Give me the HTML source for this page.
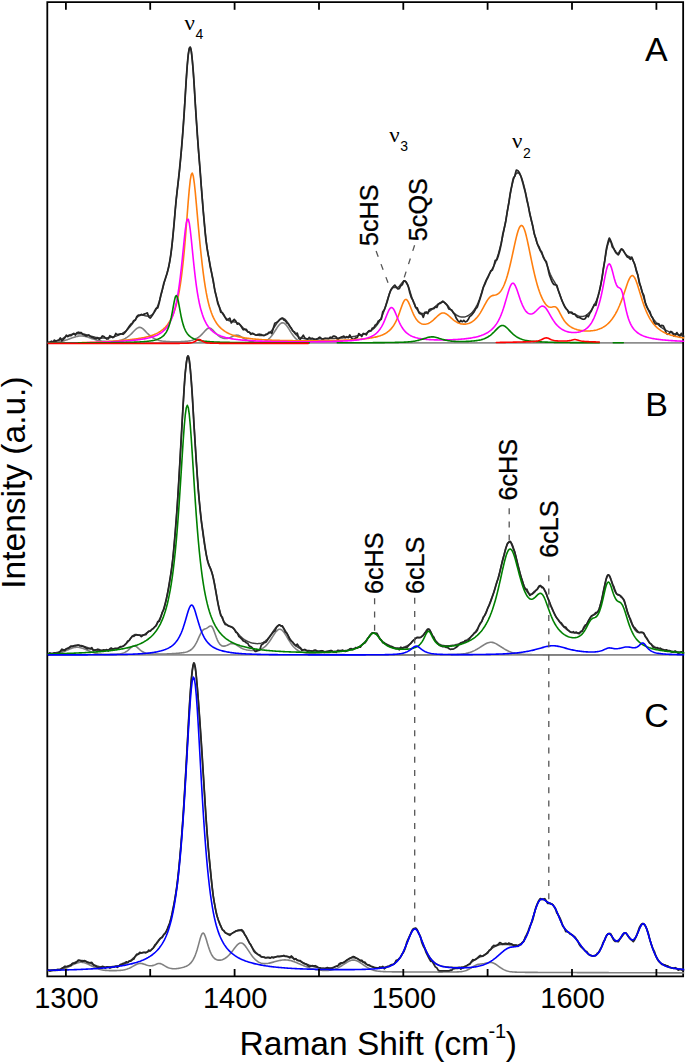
<!DOCTYPE html>
<html><head><meta charset="utf-8"><title>Raman spectra</title>
<style>html,body{margin:0;padding:0;background:#fff}svg{display:block}</style>
</head><body>
<svg width="686" height="1064" viewBox="0 0 686 1064">
<rect width="686" height="1064" fill="#fff"/>
<defs><clipPath id="cp"><rect x="47.3" y="2.1" width="636.9" height="974.2"/></clipPath></defs>
<g stroke="#8e8e8e" stroke-width="1.7" fill="none">
<path d="M47.3 342.95H683.1"/>
<path d="M47.3 654.95H683.1"/>
</g>
<path d="M47.30 2.15H683.15V976.40H47.30Z" stroke="#000" stroke-width="1.8" fill="none"/>
<g fill="none" stroke-width="1.6" stroke-linejoin="round" stroke-linecap="round" clip-path="url(#cp)">
<path d="M48.3 342.70L49.3 342.67L50.3 342.64L51.3 342.59L52.3 342.54L53.3 342.48L54.3 342.41L55.3 342.32L56.3 342.22L57.3 342.10L58.3 341.95L59.3 341.79L60.3 341.60L61.3 341.39L62.3 341.16L63.3 340.90L64.3 340.62L65.3 340.32L66.3 340.00L67.3 339.67L68.3 339.32L69.3 338.96L70.3 338.60L71.3 338.23L72.3 337.87L73.3 337.52L74.3 337.18L75.3 336.87L76.3 336.59L77.3 336.35L78.3 336.15L79.3 336.02L80.3 335.94L81.3 335.93L82.3 335.99L83.3 336.10L84.3 336.27L85.3 336.50L86.3 336.76L87.3 337.05L88.3 337.36L89.3 337.69L90.3 338.03L91.3 338.37L92.3 338.70L93.3 339.03L94.3 339.35L95.3 339.65L96.3 339.93L97.3 340.20L98.3 340.44L99.3 340.66L100.3 340.85L101.3 341.02L102.3 341.17L103.3 341.29L104.3 341.39L105.3 341.47L106.3 341.53L107.3 341.57L108.3 341.60L109.3 341.60L110.3 341.59L111.3 341.56L112.3 341.52L113.3 341.46L114.3 341.38L115.3 341.27L116.3 341.15L117.3 341.00L118.3 340.82L119.3 340.61L120.3 340.36L121.3 340.07L122.3 339.73L123.3 339.34L124.3 338.89L125.3 338.38L126.3 337.80L127.3 337.16L128.3 336.43L129.3 335.63L130.3 334.76L131.3 333.82L132.3 332.82L133.3 331.79L134.3 330.75L135.3 329.76L136.3 328.86L137.3 328.12L138.3 327.60L139.3 327.36L140.3 327.42L141.3 327.78L142.3 328.38L143.3 329.19L144.3 330.13L145.3 331.15L146.3 332.19L147.3 333.21L148.3 334.18L149.3 335.09L150.3 335.94L151.3 336.70L152.3 337.39L153.3 338.01L154.3 338.56L155.3 339.04L156.3 339.46L157.3 339.83L158.3 340.15L159.3 340.42L160.3 340.66L161.3 340.86L162.3 341.03L163.3 341.17L164.3 341.29L165.3 341.39L166.3 341.48L167.3 341.55L168.3 341.61L169.3 341.66L170.3 341.70L171.3 341.73L172.3 341.76L173.3 341.78L174.3 341.79L175.3 341.79L176.3 341.79L177.3 341.78L178.3 341.76L179.3 341.73L180.3 341.70L181.3 341.66L182.3 341.61L183.3 341.55L184.3 341.48L185.3 341.39L186.3 341.29L187.3 341.17L188.3 341.03L189.3 340.87L190.3 340.68L191.3 340.45L192.3 340.18L193.3 339.87L194.3 339.51L195.3 339.08L196.3 338.59L197.3 338.03L198.3 337.38L199.3 336.64L200.3 335.81L201.3 334.89L202.3 333.87L203.3 332.79L204.3 331.66L205.3 330.56L206.3 329.56L207.3 328.74L208.3 328.21L209.3 328.04L210.3 328.26L211.3 328.82L212.3 329.64L213.3 330.64L214.3 331.71L215.3 332.79L216.3 333.81L217.3 334.76L218.3 335.60L219.3 336.33L220.3 336.96L221.3 337.47L222.3 337.88L223.3 338.18L224.3 338.38L225.3 338.47L226.3 338.46L227.3 338.36L228.3 338.16L229.3 337.87L230.3 337.51L231.3 337.09L232.3 336.62L233.3 336.14L234.3 335.70L235.3 335.36L236.3 335.16L237.3 335.16L238.3 335.37L239.3 335.76L240.3 336.28L241.3 336.88L242.3 337.51L243.3 338.12L244.3 338.71L245.3 339.25L246.3 339.74L247.3 340.18L248.3 340.56L249.3 340.89L250.3 341.16L251.3 341.39L252.3 341.58L253.3 341.73L254.3 341.85L255.3 341.94L256.3 342.01L257.3 342.06L258.3 342.08L259.3 342.08L260.3 342.05L261.3 341.99L262.3 341.87L263.3 341.69L264.3 341.43L265.3 341.08L266.3 340.61L267.3 340.02L268.3 339.30L269.3 338.45L270.3 337.46L271.3 336.32L272.3 335.04L273.3 333.63L274.3 332.11L275.3 330.54L276.3 328.95L277.3 327.41L278.3 325.99L279.3 324.76L280.3 323.78L281.3 323.12L282.3 322.81L283.3 322.89L284.3 323.34L285.3 324.13L286.3 325.22L287.3 326.55L288.3 328.04L289.3 329.62L290.3 331.24L291.3 332.82L292.3 334.32L293.3 335.72L294.3 336.98L295.3 338.10L296.3 339.08L297.3 339.93L298.3 340.64L299.3 341.23L300.3 341.70L301.3 342.05L302.3 342.31L303.3 342.48L304.3 342.61L305.3 342.69L306.3 342.74L307.3 342.78L308.3 342.81L309.3 342.83" stroke="#808080"/>
<path d="M48.3 342.02L49.3 341.94L50.3 341.84L51.3 341.73L52.3 341.60L53.3 341.45L54.3 341.27L55.3 341.07L56.3 340.84L57.3 340.57L58.3 340.27L59.3 339.92L60.3 339.52L61.3 339.08L62.3 338.59L63.3 338.07L64.3 337.52L65.3 336.96L66.3 336.41L67.3 335.90L68.3 335.44L69.3 335.05L70.3 334.75L71.3 334.51L72.3 334.32L73.3 334.17L74.3 334.05L75.3 333.94L76.3 333.85L77.3 333.78L78.3 333.74L79.3 333.72L80.3 333.75L81.3 333.81L82.3 333.93L83.3 334.08L84.3 334.28L85.3 334.51L86.3 334.77L87.3 335.05L88.3 335.34L89.3 335.64L90.3 335.93L91.3 336.22L92.3 336.50L93.3 336.76L94.3 337.00L95.3 337.23L96.3 337.43L97.3 337.60L98.3 337.75L99.3 337.87L100.3 337.96L101.3 338.02L102.3 338.05L103.3 338.06L104.3 338.03L105.3 337.98L106.3 337.91L107.3 337.81L108.3 337.70L109.3 337.55L110.3 337.39L111.3 337.21L112.3 337.01L113.3 336.78L114.3 336.54L115.3 336.26L116.3 335.96L117.3 335.63L118.3 335.26L119.3 334.86L120.3 334.41L121.3 333.91L122.3 333.35L123.3 332.74L124.3 332.07L125.3 331.32L126.3 330.50L127.3 329.59L128.3 328.60L129.3 327.53L130.3 326.36L131.3 325.11L132.3 323.80L133.3 322.43L134.3 321.04L135.3 319.67L136.3 318.38L137.3 317.22L138.3 316.26L139.3 315.55L140.3 315.11L141.3 314.92L142.3 314.95L143.3 315.14L144.3 315.41L145.3 315.70L146.3 315.95L147.3 316.11L148.3 316.14L149.3 316.02L150.3 315.72L151.3 315.22L152.3 314.51L153.3 313.55L154.3 312.32L155.3 310.81L156.3 308.97L157.3 306.77L158.3 304.19L159.3 301.20L160.3 297.82L161.3 294.10L162.3 290.17L163.3 286.20L164.3 282.40L165.3 278.89L166.3 275.60L167.3 272.30L168.3 268.60L169.3 264.08L170.3 258.37L171.3 251.16L172.3 242.32L173.3 231.95L174.3 220.60L175.3 209.23L176.3 198.90L177.3 189.95L178.3 181.68L179.3 172.94L180.3 162.97L181.3 151.67L182.3 139.18L183.3 125.42L184.3 110.34L185.3 94.43L186.3 78.83L187.3 65.02L188.3 54.49L189.3 48.32L190.3 47.14L191.3 51.07L192.3 59.75L193.3 72.30L194.3 87.44L195.3 103.71L196.3 119.78L197.3 134.76L198.3 148.36L199.3 160.96L200.3 173.27L201.3 185.90L202.3 198.90L203.3 211.62L204.3 223.28L205.3 233.40L206.3 241.91L207.3 249.02L208.3 255.04L209.3 260.42L210.3 265.61L211.3 270.96L212.3 276.52L213.3 282.06L214.3 287.31L215.3 292.11L216.3 296.39L217.3 300.18L218.3 303.51L219.3 306.44L220.3 309.01L221.3 311.26L222.3 313.22L223.3 314.92L224.3 316.39L225.3 317.64L226.3 318.68L227.3 319.55L228.3 320.24L229.3 320.77L230.3 321.17L231.3 321.45L232.3 321.63L233.3 321.76L234.3 321.89L235.3 322.07L236.3 322.37L237.3 322.83L238.3 323.47L239.3 324.27L240.3 325.18L241.3 326.14L242.3 327.11L243.3 328.05L244.3 328.94L245.3 329.77L246.3 330.54L247.3 331.23L248.3 331.86L249.3 332.42L250.3 332.92L251.3 333.36L252.3 333.75L253.3 334.09L254.3 334.39L255.3 334.66L256.3 334.90L257.3 335.10L258.3 335.28L259.3 335.42L260.3 335.53L261.3 335.60L262.3 335.61L263.3 335.55L264.3 335.41L265.3 335.16L266.3 334.80L267.3 334.31L268.3 333.69L269.3 332.93L270.3 332.03L271.3 330.98L272.3 329.78L273.3 328.44L274.3 327.01L275.3 325.50L276.3 323.98L277.3 322.51L278.3 321.15L279.3 319.98L280.3 319.06L281.3 318.45L282.3 318.20L283.3 318.32L284.3 318.82L285.3 319.66L286.3 320.80L287.3 322.17L288.3 323.70L289.3 325.32L290.3 326.96L291.3 328.58L292.3 330.11L293.3 331.54L294.3 332.83L295.3 333.97L296.3 334.98L297.3 335.85L298.3 336.58L299.3 337.19L300.3 337.67L301.3 338.04L302.3 338.31L303.3 338.50L304.3 338.63L305.3 338.72L306.3 338.78L307.3 338.83L308.3 338.86L309.3 338.88L310.3 338.89L311.3 338.90L312.3 338.91L313.3 338.91L314.3 338.91L315.3 338.91L316.3 338.90L317.3 338.89L318.3 338.88L319.3 338.87L320.3 338.86L321.3 338.84L322.3 338.82L323.3 338.80L324.3 338.78L325.3 338.75L326.3 338.72L327.3 338.69L328.3 338.66L329.3 338.62L330.3 338.59L331.3 338.55L332.3 338.50L333.3 338.46L334.3 338.41L335.3 338.35L336.3 338.30L337.3 338.24L338.3 338.17L339.3 338.10L340.3 338.03L341.3 337.96L342.3 337.88L343.3 337.79L344.3 337.70L345.3 337.60L346.3 337.50L347.3 337.39L348.3 337.28L349.3 337.15L350.3 337.02L351.3 336.88L352.3 336.74L353.3 336.58L354.3 336.41L355.3 336.23L356.3 336.04L357.3 335.83L358.3 335.61L359.3 335.38L360.3 335.12L361.3 334.85L362.3 334.55L363.3 334.23L364.3 333.88L365.3 333.50L366.3 333.09L367.3 332.64L368.3 332.15L369.3 331.61L370.3 331.02L371.3 330.36L372.3 329.63L373.3 328.83L374.3 327.93L375.3 326.93L376.3 325.80L377.3 324.54L378.3 323.12L379.3 321.52L380.3 319.71L381.3 317.67L382.3 315.38L383.3 312.83L384.3 310.01L385.3 306.94L386.3 303.68L387.3 300.32L388.3 297.03L389.3 294.00L390.3 291.42L391.3 289.46L392.3 288.19L393.3 287.55L394.3 287.39L395.3 287.48L396.3 287.58L397.3 287.51L398.3 287.15L399.3 286.44L400.3 284.91L401.3 283.69L402.3 282.44L403.3 281.42L404.3 280.88L405.3 281.04L406.3 282.04L407.3 283.86L408.3 286.38L409.3 289.36L410.3 292.57L411.3 295.79L412.3 298.86L413.3 301.68L414.3 304.19L415.3 306.37L416.3 308.22L417.3 309.76L418.3 311.01L419.3 311.99L420.3 312.71L421.3 313.22L422.3 313.52L423.3 313.62L424.3 313.56L425.3 313.35L426.3 313.00L427.3 312.53L428.3 311.97L429.3 311.32L430.3 310.60L431.3 309.84L432.3 309.04L433.3 308.21L434.3 307.37L435.3 306.50L436.3 305.64L437.3 304.78L438.3 303.97L439.3 303.23L440.3 302.62L441.3 302.18L442.3 301.98L443.3 302.05L444.3 302.42L445.3 303.09L446.3 304.00L447.3 305.10L448.3 306.33L449.3 307.60L450.3 308.88L451.3 310.12L452.3 311.28L453.3 312.34L454.3 313.31L455.3 314.16L456.3 314.90L457.3 315.52L458.3 316.03L459.3 316.43L460.3 316.73L461.3 316.92L462.3 317.01L463.3 317.01L464.3 316.90L465.3 316.70L466.3 316.40L467.3 315.99L468.3 315.48L469.3 314.86L470.3 314.12L471.3 313.25L472.3 312.24L473.3 311.07L474.3 309.74L475.3 308.21L476.3 306.46L477.3 304.47L478.3 302.21L479.3 299.65L480.3 296.81L481.3 293.72L482.3 290.51L483.3 287.35L484.3 284.46L485.3 281.95L486.3 279.77L487.3 277.82L488.3 275.99L489.3 274.20L490.3 272.44L491.3 270.68L492.3 268.88L493.3 266.99L494.3 264.94L495.3 262.67L496.3 260.11L497.3 257.24L498.3 254.04L499.3 250.50L500.3 246.64L501.3 242.48L502.3 238.03L503.3 233.30L504.3 228.29L505.3 222.98L506.3 217.39L507.3 211.57L508.3 205.61L509.3 199.68L510.3 193.96L511.3 188.67L512.3 184.00L513.3 180.11L514.3 177.07L515.3 174.88L516.3 173.49L517.3 172.87L518.3 172.94L519.3 173.70L520.3 175.14L521.3 177.24L522.3 180.00L523.3 183.36L524.3 187.26L525.3 191.58L526.3 196.20L527.3 200.99L528.3 205.85L529.3 210.71L530.3 215.51L531.3 220.25L532.3 224.86L533.3 229.31L534.3 233.50L535.3 237.35L536.3 240.80L537.3 243.84L538.3 246.48L539.3 248.78L540.3 250.83L541.3 252.73L542.3 254.57L543.3 256.45L544.3 258.47L545.3 260.72L546.3 263.25L547.3 266.01L548.3 268.87L549.3 271.65L550.3 274.19L551.3 276.42L552.3 278.35L553.3 280.05L554.3 281.67L555.3 283.39L556.3 285.37L557.3 287.70L558.3 290.33L559.3 293.14L560.3 295.97L561.3 298.69L562.3 301.19L563.3 303.46L564.3 305.46L565.3 307.21L566.3 308.73L567.3 310.02L568.3 311.10L569.3 311.98L570.3 312.68L571.3 313.21L572.3 313.61L573.3 313.91L574.3 314.21L575.3 314.57L576.3 315.01L577.3 315.48L578.3 315.91L579.3 316.25L580.3 316.48L581.3 316.57L582.3 316.53L583.3 316.37L584.3 316.08L585.3 315.67L586.3 315.13L587.3 314.45L588.3 313.64L589.3 312.66L590.3 311.52L591.3 310.18L592.3 308.65L593.3 306.91L594.3 304.99L595.3 302.93L596.3 300.74L597.3 298.32L598.3 295.39L599.3 291.63L600.3 287.00L601.3 281.68L602.3 275.85L603.3 269.68L604.3 263.34L605.3 257.10L606.3 251.31L607.3 246.41L608.3 242.82L609.3 240.85L610.3 240.65L611.3 242.03L612.3 244.47L613.3 247.32L614.3 250.00L615.3 252.09L616.3 253.35L617.3 253.63L618.3 252.99L619.3 251.70L620.3 250.30L621.3 249.42L622.3 249.51L623.3 250.52L624.3 252.06L625.3 253.62L626.3 254.88L627.3 255.75L628.3 256.31L629.3 256.74L630.3 257.28L631.3 258.10L632.3 259.37L633.3 261.17L634.3 263.54L635.3 266.43L636.3 269.77L637.3 273.43L638.3 277.29L639.3 281.23L640.3 285.15L641.3 288.96L642.3 292.61L643.3 296.06L644.3 299.29L645.3 302.29L646.3 305.05L647.3 307.60L648.3 309.93L649.3 312.07L650.3 314.02L651.3 315.81L652.3 317.45L653.3 318.95L654.3 320.32L655.3 321.58L656.3 322.73L657.3 323.80L658.3 324.78L659.3 325.68L660.3 326.52L661.3 327.29L662.3 328.01L663.3 328.68L664.3 329.30L665.3 329.87L666.3 330.41L667.3 330.92L668.3 331.39L669.3 331.83L670.3 332.24L671.3 332.63L672.3 333.00L673.3 333.35L674.3 333.67L675.3 333.98L676.3 334.27L677.3 334.54L678.3 334.81L679.3 335.05L680.3 335.29L681.3 335.51L682.3 335.72L683.3 335.93L684.3 336.12" stroke="#404040" stroke-width="1.5"/>
<path d="M48.3 342.75L48.8 342.75L49.3 342.75L49.8 342.75L50.3 342.64L50.8 341.88L51.3 341.12L51.8 342.07L52.3 342.75L52.8 342.75L53.3 342.67L53.8 341.39L54.3 340.10L54.8 340.47L55.3 340.83L55.8 341.18L56.3 340.96L56.8 340.73L57.3 340.50L57.8 340.43L58.3 340.36L58.8 340.27L59.3 339.48L59.8 338.68L60.3 337.87L60.8 338.84L61.3 339.79L61.8 340.73L62.3 340.26L62.8 339.78L63.3 339.28L63.8 338.80L64.3 338.32L64.8 337.83L65.3 336.95L65.8 336.08L66.3 335.20L66.8 335.63L67.3 336.07L67.8 336.53L68.3 336.23L68.8 335.96L69.3 335.70L69.8 335.70L70.3 335.71L70.8 335.74L71.3 335.36L71.8 334.98L72.3 334.62L72.8 334.21L73.3 333.80L73.8 333.39L74.3 333.94L74.8 334.48L75.3 335.03L75.8 334.31L76.3 333.60L76.8 332.88L77.3 332.65L77.8 332.42L78.3 332.20L78.8 332.38L79.3 332.57L79.8 332.77L80.3 332.68L80.8 332.60L81.3 332.53L81.8 333.17L82.3 333.81L82.8 334.46L83.3 334.53L83.8 334.61L84.3 334.71L84.8 335.07L85.3 335.44L85.8 335.81L86.3 335.79L86.8 335.77L87.3 335.75L87.8 335.48L88.3 335.22L88.8 334.96L89.3 335.49L89.8 336.02L90.3 336.55L90.8 336.74L91.3 336.93L91.8 337.12L92.3 337.33L92.8 337.54L93.3 337.75L93.8 337.97L94.3 338.19L94.8 338.41L95.3 338.47L95.8 338.53L96.3 338.57L96.8 338.38L97.3 338.17L97.8 337.97L98.3 338.39L98.8 338.81L99.3 339.22L99.8 338.87L100.3 338.52L100.8 338.16L101.3 337.44L101.8 336.71L102.3 335.97L102.8 336.15L103.3 336.33L103.8 336.50L104.3 336.98L104.8 337.45L105.3 337.92L105.8 338.29L106.3 338.65L106.8 339.01L107.3 339.00L107.8 338.98L108.3 338.95L108.8 337.89L109.3 336.82L109.8 335.75L110.3 336.00L110.8 336.24L111.3 336.48L111.8 336.87L112.3 337.26L112.8 337.65L113.3 337.29L113.8 336.93L114.3 336.56L114.8 335.56L115.3 334.54L115.8 333.52L116.3 333.91L116.8 334.28L117.3 334.65L117.8 334.53L118.3 334.41L118.8 334.28L119.3 334.13L119.8 333.97L120.3 333.80L120.8 333.86L121.3 333.91L121.8 333.94L122.3 334.06L122.8 334.17L123.3 334.26L123.8 333.72L124.3 333.16L124.8 332.58L125.3 332.04L125.8 331.47L126.3 330.89L126.8 330.11L127.3 329.31L127.8 328.49L128.3 327.78L128.8 327.04L129.3 326.29L129.8 325.64L130.3 324.98L130.8 324.30L131.3 323.91L131.8 323.51L132.3 323.08L132.8 322.25L133.3 321.41L133.8 320.56L134.3 320.44L134.8 320.33L135.3 320.22L135.8 318.98L136.3 317.76L136.8 316.58L137.3 316.05L137.8 315.57L138.3 315.15L138.8 315.18L139.3 315.28L139.8 315.45L140.3 315.06L140.8 314.73L141.3 314.46L141.8 314.57L142.3 314.73L142.8 314.93L143.3 314.63L143.8 314.35L144.3 314.08L144.8 313.91L145.3 313.74L145.8 313.56L146.3 313.35L146.8 313.13L147.3 312.88L147.8 314.26L148.3 315.60L148.8 316.91L149.3 317.32L149.8 317.69L150.3 318.02L150.8 317.43L151.3 316.78L151.8 316.08L152.3 315.30L152.8 314.46L153.3 313.56L153.8 312.61L154.3 311.59L154.8 310.49L155.3 309.83L155.8 309.08L156.3 308.24L156.8 308.20L157.3 308.07L157.8 307.84L158.3 306.12L158.8 304.30L159.3 302.38L159.8 300.06L160.3 297.64L160.8 295.13L161.3 293.32L161.8 291.46L162.3 289.56L162.8 287.44L163.3 285.33L163.8 283.27L164.3 281.72L164.8 280.25L165.3 278.85L165.8 277.32L166.3 275.81L166.8 274.31L167.3 272.48L167.8 270.55L168.3 268.46L168.8 266.19L169.3 263.66L169.8 260.83L170.3 257.86L170.8 254.51L171.3 250.76L171.8 246.61L172.3 242.04L172.8 237.08L173.3 232.06L173.8 226.78L174.3 221.36L174.8 215.29L175.3 209.37L175.8 203.71L176.3 198.68L176.8 194.02L177.3 189.65L177.8 185.14L178.3 180.65L178.8 176.04L179.3 171.38L179.8 166.41L180.3 161.08L180.8 155.99L181.3 150.58L181.8 144.88L182.3 138.85L182.8 132.49L183.3 125.80L183.8 118.59L184.3 111.08L184.8 103.35L185.3 94.96L185.8 86.64L186.3 78.58L186.8 71.35L187.3 64.77L187.8 59.01L188.3 54.44L188.8 50.98L189.3 48.71L189.8 47.38L190.3 47.33L190.8 48.57L191.3 51.38L191.8 55.38L192.3 60.48L192.8 65.90L193.3 72.15L193.8 79.05L194.3 87.14L194.8 95.51L195.3 103.97L195.8 111.59L196.3 119.01L196.8 126.15L197.3 133.58L197.8 140.65L198.3 147.40L198.8 153.81L199.3 160.06L199.8 166.24L200.3 173.05L200.8 179.96L201.3 186.98L201.8 193.18L202.3 199.42L202.8 205.58L203.3 211.46L203.8 217.07L204.3 222.32L204.8 228.19L205.3 233.65L205.8 238.70L206.3 242.72L206.8 246.38L207.3 249.72L207.8 252.63L208.3 255.33L208.8 257.86L209.3 261.02L209.8 264.13L210.3 267.25L210.8 269.41L211.3 271.63L211.8 273.90L212.3 276.26L212.8 278.61L213.3 280.92L213.8 284.21L214.3 287.40L214.8 290.47L215.3 292.55L215.8 294.50L216.3 296.32L216.8 298.78L217.3 301.12L217.8 303.34L218.3 304.67L218.8 305.89L219.3 307.02L219.8 308.81L220.3 310.51L220.8 312.13L221.3 312.33L221.8 312.46L222.3 312.52L222.8 313.33L223.3 314.07L223.8 314.75L224.3 315.72L224.8 316.64L225.3 317.51L225.8 318.41L226.3 319.27L226.8 320.08L227.3 319.77L227.8 319.42L228.3 319.03L228.8 318.76L229.3 318.46L229.8 318.12L230.3 319.74L230.8 321.33L231.3 322.89L231.8 322.27L232.3 321.63L232.8 320.97L233.3 320.46L233.8 319.95L234.3 319.45L234.8 319.99L235.3 320.56L235.8 321.15L236.3 322.11L236.8 323.10L237.3 324.14L237.8 323.82L238.3 323.55L238.8 323.31L239.3 323.87L239.8 324.45L240.3 325.06L240.8 325.84L241.3 326.64L241.8 327.43L242.3 328.22L242.8 329.00L243.3 329.77L243.8 329.60L244.3 329.41L244.8 329.20L245.3 329.28L245.8 329.33L246.3 329.37L246.8 330.27L247.3 331.14L247.8 331.99L248.3 332.03L248.8 332.05L249.3 332.05L249.8 332.82L250.3 333.58L250.8 334.32L251.3 333.97L251.8 333.62L252.3 333.25L252.8 333.47L253.3 333.68L253.8 333.88L254.3 334.22L254.8 334.55L255.3 334.87L255.8 334.99L256.3 335.10L256.8 335.21L257.3 334.91L257.8 334.60L258.3 334.28L258.8 334.28L259.3 334.26L259.8 334.24L260.3 334.40L260.8 334.54L261.3 334.67L261.8 334.87L262.3 335.05L262.8 335.22L263.3 335.26L263.8 335.27L264.3 335.27L264.8 334.95L265.3 334.61L265.8 334.23L266.3 334.12L266.8 333.97L267.3 333.80L267.8 333.37L268.3 332.92L268.8 332.43L269.3 332.37L269.8 332.27L270.3 332.14L270.8 332.61L271.3 333.05L271.8 333.45L272.3 331.73L272.8 329.97L273.3 328.18L273.8 326.55L274.3 324.90L274.8 323.23L275.3 323.02L275.8 322.80L276.3 322.59L276.8 322.29L277.3 322.02L277.8 321.77L278.3 321.19L278.8 320.67L279.3 320.19L279.8 319.70L280.3 319.27L280.8 318.92L281.3 318.60L281.8 318.37L282.3 318.24L282.8 318.69L283.3 319.24L283.8 319.88L284.3 320.08L284.8 320.37L285.3 320.74L285.8 321.39L286.3 322.10L286.8 322.87L287.3 323.15L287.8 323.46L288.3 323.81L288.8 324.66L289.3 325.53L289.8 326.41L290.3 326.99L290.8 327.56L291.3 328.11L291.8 329.06L292.3 329.97L292.8 330.86L293.3 331.19L293.8 331.47L294.3 331.72L294.8 332.47L295.3 333.18L295.8 333.85L296.3 333.65L296.8 333.41L297.3 333.14L297.8 334.90L298.3 336.62L298.8 338.32L299.3 338.65L299.8 338.95L300.3 339.22L300.8 338.63L301.3 338.02L301.8 337.38L302.3 336.64L302.8 335.89L303.3 335.12L303.8 336.08L304.3 337.04L304.8 337.98L305.3 338.27L305.8 338.56L306.3 338.84L306.8 338.94L307.3 339.02L307.8 339.11L308.3 338.54L308.8 337.96L309.3 337.38L309.8 337.83L310.3 338.28L310.8 338.72L311.3 338.56L311.8 338.39L312.3 338.22L312.8 338.49L313.3 338.76L313.8 339.04L314.3 339.55L314.8 340.06L315.3 340.58L315.8 340.07L316.3 339.56L316.8 339.05L317.3 338.75L317.8 338.46L318.3 338.17L318.8 337.82L319.3 337.48L319.8 337.13L320.3 337.58L320.8 338.02L321.3 338.47L321.8 338.85L322.3 339.23L322.8 339.61L323.3 339.20L323.8 338.78L324.3 338.37L324.8 338.33L325.3 338.28L325.8 338.24L326.3 338.25L326.8 338.27L327.3 338.28L327.8 338.40L328.3 338.52L328.8 338.64L329.3 338.17L329.8 337.71L330.3 337.24L330.8 337.37L331.3 337.51L331.8 337.64L332.3 337.11L332.8 336.57L333.3 336.04L333.8 336.13L334.3 336.22L334.8 336.30L335.3 336.56L335.8 336.82L336.3 337.08L336.8 338.03L337.3 338.97L337.8 339.92L338.3 339.30L338.8 338.68L339.3 338.05L339.8 337.79L340.3 337.53L340.8 337.27L341.3 337.10L341.8 336.93L342.3 336.76L342.8 336.57L343.3 336.38L343.8 336.19L344.3 336.69L344.8 337.19L345.3 337.69L345.8 337.34L346.3 336.99L346.8 336.64L347.3 336.98L347.8 337.31L348.3 337.65L348.8 336.76L349.3 335.88L349.8 334.99L350.3 335.91L350.8 336.82L351.3 337.73L351.8 338.26L352.3 338.80L352.8 339.33L353.3 339.27L353.8 339.20L354.3 339.12L354.8 338.72L355.3 338.31L355.8 337.89L356.3 337.79L356.8 337.68L357.3 337.56L357.8 336.25L358.3 334.94L358.8 333.63L359.3 334.01L359.8 334.39L360.3 334.76L360.8 335.34L361.3 335.91L361.8 336.47L362.3 335.48L362.8 334.47L363.3 333.46L363.8 333.64L364.3 333.82L364.8 333.99L365.3 334.28L365.8 334.57L366.3 334.84L366.8 333.87L367.3 332.88L367.8 331.88L368.3 331.45L368.8 331.00L369.3 330.55L369.8 330.72L370.3 330.87L370.8 331.01L371.3 330.07L371.8 329.13L372.3 328.16L372.8 328.03L373.3 327.88L373.8 327.71L374.3 326.83L374.8 325.92L375.3 324.98L375.8 324.68L376.3 324.35L376.8 323.98L377.3 323.06L377.8 322.10L378.3 321.09L378.8 320.76L379.3 320.37L379.8 319.93L380.3 319.73L380.8 319.46L381.3 319.14L381.8 316.74L382.3 314.27L382.8 311.74L383.3 311.14L383.8 310.47L384.3 309.73L384.8 308.49L385.3 307.19L385.8 305.84L386.3 304.34L386.8 302.82L387.3 301.30L387.8 299.50L388.3 297.75L388.8 296.05L389.3 294.33L389.8 292.73L390.3 291.27L390.8 290.16L391.3 289.22L391.8 288.46L392.3 287.73L392.8 287.17L393.3 286.74L393.8 286.10L394.3 285.56L394.8 285.07L395.3 285.75L395.8 286.43L396.3 287.08L396.8 287.78L397.3 288.41L397.8 288.97L398.3 288.88L398.8 288.70L399.3 288.43L399.8 287.74L400.3 286.48L400.8 285.67L401.3 285.38L401.8 285.08L402.3 284.80L402.8 283.38L403.3 282.05L403.8 280.84L404.3 280.84L404.8 281.02L405.3 281.40L405.8 281.90L406.3 282.61L406.8 283.53L407.3 284.39L407.8 285.43L408.3 286.61L408.8 288.58L409.3 290.63L409.8 292.74L410.3 294.33L410.8 295.93L411.3 297.50L411.8 298.38L412.3 299.20L412.8 299.97L413.3 301.16L413.8 302.28L414.3 303.31L414.8 304.88L415.3 306.36L415.8 307.76L416.3 307.89L416.8 307.94L417.3 307.91L417.8 309.52L418.3 311.06L418.8 312.53L419.3 313.02L419.8 313.45L420.3 313.82L420.8 313.93L421.3 313.98L421.8 313.99L422.3 315.12L422.8 316.21L423.3 317.26L423.8 315.71L424.3 314.11L424.8 312.47L425.3 312.35L425.8 312.20L426.3 312.01L426.8 312.57L427.3 313.10L427.8 313.61L428.3 312.27L428.8 310.91L429.3 309.53L429.8 309.37L430.3 309.18L430.8 308.99L431.3 308.87L431.8 308.74L432.3 308.60L432.8 308.64L433.3 308.67L433.8 308.69L434.3 308.13L434.8 307.56L435.3 306.99L435.8 307.13L436.3 307.27L436.8 307.41L437.3 306.29L437.8 305.18L438.3 304.08L438.8 303.88L439.3 303.70L439.8 303.55L440.3 303.23L440.8 302.96L441.3 302.75L441.8 302.14L442.3 301.60L442.8 301.13L443.3 301.46L443.8 301.86L444.3 302.34L444.8 302.80L445.3 303.34L445.8 303.94L446.3 304.46L446.8 305.03L447.3 305.65L447.8 306.70L448.3 307.78L448.8 308.88L449.3 309.09L449.8 309.30L450.3 309.52L450.8 309.73L451.3 309.93L451.8 310.12L452.3 311.00L452.8 311.87L453.3 312.72L453.8 313.39L454.3 314.04L454.8 314.68L455.3 315.92L455.8 317.15L456.3 318.36L456.8 319.09L457.3 319.81L457.8 320.50L458.3 321.17L458.8 321.81L459.3 322.43L459.8 321.80L460.3 321.13L460.8 320.43L461.3 320.91L461.8 321.34L462.3 321.72L462.8 321.34L463.3 320.89L463.8 320.38L464.3 320.93L464.8 321.41L465.3 321.84L465.8 321.71L466.3 321.54L466.8 321.32L467.3 320.65L467.8 319.95L468.3 319.22L468.8 318.32L469.3 317.40L469.8 316.45L470.3 316.11L470.8 315.75L471.3 315.37L471.8 314.79L472.3 314.17L472.8 313.53L473.3 312.86L473.8 312.15L474.3 311.41L474.8 310.53L475.3 309.60L475.8 308.63L476.3 308.15L476.8 307.60L477.3 307.00L477.8 305.53L478.3 304.00L478.8 302.39L479.3 300.97L479.8 299.48L480.3 297.93L480.8 296.35L481.3 294.72L481.8 293.07L482.3 291.18L482.8 289.32L483.3 287.49L483.8 286.37L484.3 285.34L484.8 284.40L485.3 283.08L485.8 281.86L486.3 280.70L486.8 279.69L487.3 278.72L487.8 277.78L488.3 276.60L488.8 275.43L489.3 274.26L489.8 273.12L490.3 271.99L490.8 270.85L491.3 270.60L491.8 270.35L492.3 270.08L492.8 268.75L493.3 267.39L493.8 266.00L494.3 264.14L494.8 262.23L495.3 260.26L495.8 260.23L496.3 260.12L496.8 259.94L497.3 258.67L497.8 257.31L498.3 255.88L498.8 254.08L499.3 252.20L499.8 250.24L500.3 248.03L500.8 245.75L501.3 243.39L501.8 240.36L502.3 237.25L502.8 234.08L503.3 232.06L503.8 229.97L504.3 227.81L504.8 225.69L505.3 223.49L505.8 221.22L506.3 217.96L506.8 214.64L507.3 211.27L507.8 208.61L508.3 205.93L508.8 203.26L509.3 199.78L509.8 196.35L510.3 193.00L510.8 190.38L511.3 187.90L511.8 185.57L512.3 183.00L512.8 180.63L513.3 178.46L513.8 177.50L514.3 176.76L514.8 176.23L515.3 174.04L515.8 172.04L516.3 170.24L516.8 170.23L517.3 170.39L517.8 170.73L518.3 171.22L518.8 171.87L519.3 172.70L519.8 173.64L520.3 174.74L520.8 176.01L521.3 177.51L521.8 179.17L522.3 180.99L522.8 182.75L523.3 184.65L523.8 186.68L524.3 188.41L524.8 190.25L525.3 192.18L525.8 194.63L526.3 197.13L526.8 199.68L527.3 201.75L527.8 203.83L528.3 205.92L528.8 208.65L529.3 211.38L529.8 214.09L530.3 216.05L530.8 217.99L531.3 219.92L531.8 221.92L532.3 223.88L532.8 225.80L533.3 228.62L533.8 231.37L534.3 234.05L534.8 235.48L535.3 236.82L535.8 238.06L536.3 240.05L536.8 241.94L537.3 243.73L537.8 244.72L538.3 245.63L538.8 246.45L539.3 247.67L539.8 248.82L540.3 249.92L540.8 250.71L541.3 251.46L541.8 252.21L542.3 253.88L542.8 255.57L543.3 257.28L543.8 258.19L544.3 259.15L544.8 260.17L545.3 260.59L545.8 261.07L546.3 261.63L546.8 263.61L547.3 265.64L547.8 267.69L548.3 269.96L548.8 272.21L549.3 274.42L549.8 275.88L550.3 277.27L550.8 278.58L551.3 279.87L551.8 281.08L552.3 282.22L552.8 283.01L553.3 283.76L553.8 284.49L554.3 284.57L554.8 284.67L555.3 284.82L555.8 284.87L556.3 285.00L556.8 285.22L557.3 286.90L557.8 288.65L558.3 290.46L558.8 291.78L559.3 293.12L559.8 294.47L560.3 295.95L560.8 297.40L561.3 298.81L561.8 300.11L562.3 301.35L562.8 302.53L563.3 303.69L563.8 304.78L564.3 305.81L564.8 306.75L565.3 307.63L565.8 308.44L566.3 308.93L566.8 309.35L567.3 309.73L567.8 310.87L568.3 311.97L568.8 313.01L569.3 312.79L569.8 312.52L570.3 312.20L570.8 312.25L571.3 312.26L571.8 312.23L572.3 312.89L572.8 313.53L573.3 314.16L573.8 314.08L574.3 314.02L574.8 313.97L575.3 314.67L575.8 315.40L576.3 316.15L576.8 316.58L577.3 317.01L577.8 317.45L578.3 317.43L578.8 317.41L579.3 317.37L579.8 317.65L580.3 317.91L580.8 318.15L581.3 318.46L581.8 318.73L582.3 318.96L582.8 319.12L583.3 319.22L583.8 319.25L584.3 319.07L584.8 318.82L585.3 318.50L585.8 317.53L586.3 316.51L586.8 315.45L587.3 315.92L587.8 316.36L588.3 316.76L588.8 315.65L589.3 314.51L589.8 313.34L590.3 312.59L590.8 311.81L591.3 310.98L591.8 309.88L592.3 308.73L592.8 307.53L593.3 306.56L593.8 305.54L594.3 304.48L594.8 304.79L595.3 305.06L595.8 305.31L596.3 303.27L596.8 301.18L597.3 299.00L597.8 297.26L598.3 295.35L598.8 293.23L599.3 291.38L599.8 289.31L600.3 287.04L600.8 284.67L601.3 282.17L601.8 279.53L602.3 276.10L602.8 272.58L603.3 268.99L603.8 266.15L604.3 263.30L604.8 260.47L605.3 256.64L605.8 252.93L606.3 249.38L606.8 247.00L607.3 244.89L607.8 243.11L608.3 241.04L608.8 239.38L609.3 238.15L609.8 238.79L610.3 239.86L610.8 241.34L611.3 242.98L611.8 244.88L612.3 246.97L612.8 247.52L613.3 248.09L613.8 248.62L614.3 249.52L614.8 250.28L615.3 250.85L615.8 251.90L616.3 252.72L616.8 253.29L617.3 254.04L617.8 254.56L618.3 254.87L618.8 254.05L619.3 253.13L619.8 252.18L620.3 250.93L620.8 249.82L621.3 248.91L621.8 249.00L622.3 249.35L622.8 249.93L623.3 250.61L623.8 251.43L624.3 252.31L624.8 253.13L625.3 253.91L625.8 254.60L626.3 255.49L626.8 256.28L627.3 256.98L627.8 257.23L628.3 257.42L628.8 257.58L629.3 258.10L629.8 258.64L630.3 259.24L630.8 258.44L631.3 257.74L631.8 257.15L632.3 258.32L632.8 259.62L633.3 261.07L633.8 262.10L634.3 263.27L634.8 264.57L635.3 266.55L635.8 268.65L636.3 270.83L636.8 272.10L637.3 273.44L637.8 274.82L638.3 277.60L638.8 280.39L639.3 283.18L639.8 284.39L640.3 285.58L640.8 286.74L641.3 288.64L641.8 290.50L642.3 292.31L642.8 293.33L643.3 294.30L643.8 295.21L644.3 297.87L644.8 300.48L645.3 303.03L645.8 304.35L646.3 305.60L646.8 306.81L647.3 307.75L647.8 308.64L648.3 309.48L648.8 310.19L649.3 310.85L649.8 311.46L650.3 312.97L650.8 314.43L651.3 315.85L651.8 316.70L652.3 317.52L652.8 318.30L653.3 319.85L653.8 321.38L654.3 322.87L654.8 323.29L655.3 323.68L655.8 324.04L656.3 323.92L656.8 323.77L657.3 323.61L657.8 323.67L658.3 323.72L658.8 323.75L659.3 324.66L659.8 325.55L660.3 326.43L660.8 326.08L661.3 325.70L661.8 325.32L662.3 325.48L662.8 325.62L663.3 325.76L663.8 326.84L664.3 327.91L664.8 328.97L665.3 330.44L665.8 331.90L666.3 333.35L666.8 333.66L667.3 333.97L667.8 334.27L668.3 334.02L668.8 333.76L669.3 333.49L669.8 332.81L670.3 332.12L670.8 331.43L671.3 331.69L671.8 331.94L672.3 332.19L672.8 333.44L673.3 334.68L673.8 335.91L674.3 335.65L674.8 335.38L675.3 335.10L675.8 334.27L676.3 333.42L676.8 332.58L677.3 333.26L677.8 333.94L678.3 334.62L678.8 335.16L679.3 335.70L679.8 336.23L680.3 335.28L680.8 334.32L681.3 333.36L681.8 333.89L682.3 334.42L682.8 334.95L683.3 335.53L683.8 336.11L684.3 336.69" stroke="#262626" stroke-width="1.75"/>
<path d="M48.3 342.95L49.3 342.95L50.3 342.95L51.3 342.95L52.3 342.95L53.3 342.95L54.3 342.95L55.3 342.95L56.3 342.95L57.3 342.94L58.3 342.94L59.3 342.94L60.3 342.94L61.3 342.93L62.3 342.93L63.3 342.93L64.3 342.92L65.3 342.91L66.3 342.91L67.3 342.90L68.3 342.89L69.3 342.88L70.3 342.87L71.3 342.86L72.3 342.85L73.3 342.84L74.3 342.82L75.3 342.81L76.3 342.79L77.3 342.77L78.3 342.75L79.3 342.73L80.3 342.71L81.3 342.68L82.3 342.66L83.3 342.63L84.3 342.60L85.3 342.57L86.3 342.54L87.3 342.51L88.3 342.48L89.3 342.44L90.3 342.40L91.3 342.36L92.3 342.32L93.3 342.28L94.3 342.23L95.3 342.19L96.3 342.14L97.3 342.09L98.3 342.04L99.3 341.99L100.3 341.93L101.3 341.88L102.3 341.82L103.3 341.76L104.3 341.71L105.3 341.64L106.3 341.58L107.3 341.52L108.3 341.46L109.3 341.39L110.3 341.32L111.3 341.25L112.3 341.18L113.3 341.11L114.3 341.04L115.3 340.97L116.3 340.89L117.3 340.81L118.3 340.73L119.3 340.65L120.3 340.57L121.3 340.49L122.3 340.40L123.3 340.31L124.3 340.22L125.3 340.13L126.3 340.03L127.3 339.94L128.3 339.83L129.3 339.73L130.3 339.62L131.3 339.51L132.3 339.39L133.3 339.27L134.3 339.14L135.3 339.01L136.3 338.87L137.3 338.72L138.3 338.57L139.3 338.41L140.3 338.25L141.3 338.07L142.3 337.88L143.3 337.69L144.3 337.48L145.3 337.26L146.3 337.03L147.3 336.78L148.3 336.52L149.3 336.23L150.3 335.93L151.3 335.61L152.3 335.27L153.3 334.90L154.3 334.51L155.3 334.08L156.3 333.62L157.3 333.13L158.3 332.59L159.3 332.01L160.3 331.38L161.3 330.69L162.3 329.93L163.3 329.11L164.3 328.20L165.3 327.21L166.3 326.11L167.3 324.89L168.3 323.54L169.3 322.04L170.3 320.36L171.3 318.48L172.3 316.36L173.3 313.98L174.3 311.27L175.3 308.20L176.3 304.70L177.3 300.69L178.3 296.10L179.3 290.82L180.3 284.75L181.3 277.77L182.3 269.76L183.3 260.62L184.3 250.30L185.3 238.83L186.3 226.41L187.3 213.44L188.3 200.66L189.3 189.09L190.3 179.95L191.3 174.38L192.3 173.12L193.3 176.22L194.3 183.02L195.3 192.45L196.3 203.32L197.3 214.67L198.3 225.90L199.3 236.67L200.3 246.87L201.3 256.43L202.3 265.29L203.3 273.40L204.3 280.71L205.3 287.22L206.3 292.95L207.3 297.98L208.3 302.37L209.3 306.21L210.3 309.56L211.3 312.50L212.3 315.08L213.3 317.36L214.3 319.38L215.3 321.16L216.3 322.76L217.3 324.18L218.3 325.46L219.3 326.61L220.3 327.65L221.3 328.59L222.3 329.45L223.3 330.23L224.3 330.94L225.3 331.59L226.3 332.18L227.3 332.73L228.3 333.23L229.3 333.70L230.3 334.13L231.3 334.53L232.3 334.90L233.3 335.24L234.3 335.56L235.3 335.86L236.3 336.14L237.3 336.40L238.3 336.64L239.3 336.87L240.3 337.09L241.3 337.29L242.3 337.48L243.3 337.66L244.3 337.82L245.3 337.98L246.3 338.13L247.3 338.27L248.3 338.41L249.3 338.53L250.3 338.65L251.3 338.76L252.3 338.87L253.3 338.97L254.3 339.07L255.3 339.16L256.3 339.25L257.3 339.33L258.3 339.41L259.3 339.48L260.3 339.56L261.3 339.62L262.3 339.69L263.3 339.75L264.3 339.81L265.3 339.86L266.3 339.92L267.3 339.97L268.3 340.02L269.3 340.06L270.3 340.10L271.3 340.15L272.3 340.19L273.3 340.22L274.3 340.26L275.3 340.29L276.3 340.33L277.3 340.36L278.3 340.39L279.3 340.42L280.3 340.44L281.3 340.47L282.3 340.49L283.3 340.51L284.3 340.54L285.3 340.56L286.3 340.57L287.3 340.59L288.3 340.61L289.3 340.63L290.3 340.64L291.3 340.65L292.3 340.67L293.3 340.68L294.3 340.69L295.3 340.70L296.3 340.71L297.3 340.72L298.3 340.72L299.3 340.73L300.3 340.74L301.3 340.74L302.3 340.75L303.3 340.75L304.3 340.75L305.3 340.75L306.3 340.75L307.3 340.75L308.3 340.75L309.3 340.75L310.3 340.75L311.3 340.75L312.3 340.74L313.3 340.74L314.3 340.73L315.3 340.73L316.3 340.72L317.3 340.71L318.3 340.71L319.3 340.70L320.3 340.69L321.3 340.68L322.3 340.66L323.3 340.65L324.3 340.64L325.3 340.62L326.3 340.61L327.3 340.59L328.3 340.58L329.3 340.56L330.3 340.54L331.3 340.52L332.3 340.50L333.3 340.47L334.3 340.45L335.3 340.43L336.3 340.40L337.3 340.37L338.3 340.35L339.3 340.32L340.3 340.28L341.3 340.25L342.3 340.22L343.3 340.18L344.3 340.14L345.3 340.11L346.3 340.06L347.3 340.02L348.3 339.98L349.3 339.93L350.3 339.88L351.3 339.83L352.3 339.77L353.3 339.71L354.3 339.65L355.3 339.59L356.3 339.52L357.3 339.45L358.3 339.38L359.3 339.30L360.3 339.22L361.3 339.13L362.3 339.04L363.3 338.94L364.3 338.84L365.3 338.73L366.3 338.61L367.3 338.49L368.3 338.35L369.3 338.21L370.3 338.06L371.3 337.90L372.3 337.72L373.3 337.54L374.3 337.34L375.3 337.12L376.3 336.88L377.3 336.63L378.3 336.35L379.3 336.05L380.3 335.72L381.3 335.36L382.3 334.96L383.3 334.52L384.3 334.03L385.3 333.49L386.3 332.89L387.3 332.22L388.3 331.47L389.3 330.63L390.3 329.67L391.3 328.60L392.3 327.38L393.3 325.99L394.3 324.42L395.3 322.64L396.3 320.64L397.3 318.39L398.3 315.90L399.3 313.21L400.3 310.36L401.3 307.48L402.3 304.73L403.3 302.34L404.3 300.55L405.3 299.55L406.3 299.48L407.3 300.32L408.3 301.92L409.3 304.06L410.3 306.51L411.3 309.05L412.3 311.51L413.3 313.80L414.3 315.86L415.3 317.66L416.3 319.21L417.3 320.51L418.3 321.59L419.3 322.45L420.3 323.14L421.3 323.65L422.3 324.00L423.3 324.21L424.3 324.29L425.3 324.25L426.3 324.08L427.3 323.81L428.3 323.42L429.3 322.93L430.3 322.34L431.3 321.65L432.3 320.88L433.3 320.03L434.3 319.12L435.3 318.17L436.3 317.20L437.3 316.24L438.3 315.33L439.3 314.52L440.3 313.84L441.3 313.33L442.3 313.02L443.3 312.93L444.3 313.06L445.3 313.40L446.3 313.93L447.3 314.61L448.3 315.40L449.3 316.27L450.3 317.17L451.3 318.07L452.3 318.95L453.3 319.79L454.3 320.57L455.3 321.27L456.3 321.91L457.3 322.46L458.3 322.94L459.3 323.33L460.3 323.65L461.3 323.89L462.3 324.05L463.3 324.14L464.3 324.16L465.3 324.11L466.3 323.98L467.3 323.78L468.3 323.50L469.3 323.15L470.3 322.71L471.3 322.20L472.3 321.59L473.3 320.89L474.3 320.09L475.3 319.18L476.3 318.16L477.3 317.02L478.3 315.75L479.3 314.36L480.3 312.83L481.3 311.18L482.3 309.43L483.3 307.59L484.3 305.71L485.3 303.83L486.3 302.02L487.3 300.36L488.3 298.89L489.3 297.68L490.3 296.75L491.3 296.08L492.3 295.64L493.3 295.36L494.3 295.16L495.3 294.96L496.3 294.68L497.3 294.26L498.3 293.65L499.3 292.82L500.3 291.73L501.3 290.37L502.3 288.71L503.3 286.75L504.3 284.48L505.3 281.89L506.3 278.98L507.3 275.75L508.3 272.21L509.3 268.37L510.3 264.26L511.3 259.91L512.3 255.39L513.3 250.76L514.3 246.13L515.3 241.62L516.3 237.37L517.3 233.54L518.3 230.28L519.3 227.77L520.3 226.11L521.3 225.42L522.3 225.73L523.3 227.04L524.3 229.27L525.3 232.33L526.3 236.07L527.3 240.33L528.3 244.96L529.3 249.80L530.3 254.72L531.3 259.62L532.3 264.40L533.3 269.00L534.3 273.38L535.3 277.50L536.3 281.35L537.3 284.91L538.3 288.20L539.3 291.21L540.3 293.95L541.3 296.42L542.3 298.64L543.3 300.60L544.3 302.31L545.3 303.77L546.3 304.99L547.3 305.95L548.3 306.65L549.3 307.09L550.3 307.29L551.3 307.26L552.3 307.07L553.3 306.83L554.3 306.68L555.3 306.82L556.3 307.40L557.3 308.47L558.3 309.99L559.3 311.81L560.3 313.77L561.3 315.70L562.3 317.53L563.3 319.20L564.3 320.69L565.3 322.01L566.3 323.17L567.3 324.19L568.3 325.08L569.3 325.87L570.3 326.56L571.3 327.18L572.3 327.73L573.3 328.21L574.3 328.64L575.3 329.02L576.3 329.36L577.3 329.66L578.3 329.92L579.3 330.15L580.3 330.35L581.3 330.52L582.3 330.66L583.3 330.78L584.3 330.87L585.3 330.93L586.3 330.97L587.3 330.99L588.3 330.98L589.3 330.94L590.3 330.88L591.3 330.79L592.3 330.68L593.3 330.54L594.3 330.37L595.3 330.16L596.3 329.93L597.3 329.66L598.3 329.35L599.3 329.00L600.3 328.60L601.3 328.16L602.3 327.67L603.3 327.12L604.3 326.51L605.3 325.83L606.3 325.08L607.3 324.25L608.3 323.34L609.3 322.34L610.3 321.23L611.3 320.03L612.3 318.71L613.3 317.28L614.3 315.73L615.3 314.06L616.3 312.26L617.3 310.33L618.3 308.26L619.3 306.04L620.3 303.67L621.3 301.14L622.3 298.44L623.3 295.61L624.3 292.65L625.3 289.64L626.3 286.63L627.3 283.74L628.3 281.09L629.3 278.82L630.3 277.07L631.3 275.97L632.3 275.60L633.3 276.00L634.3 277.16L635.3 279.00L636.3 281.41L637.3 284.25L638.3 287.39L639.3 290.69L640.3 294.03L641.3 297.32L642.3 300.50L643.3 303.52L644.3 306.36L645.3 309.00L646.3 311.44L647.3 313.69L648.3 315.74L649.3 317.62L650.3 319.34L651.3 320.91L652.3 322.34L653.3 323.64L654.3 324.83L655.3 325.92L656.3 326.92L657.3 327.83L658.3 328.67L659.3 329.45L660.3 330.16L661.3 330.81L662.3 331.42L663.3 331.98L664.3 332.50L665.3 332.98L666.3 333.43L667.3 333.85L668.3 334.24L669.3 334.60L670.3 334.94L671.3 335.26L672.3 335.56L673.3 335.84L674.3 336.10L675.3 336.35L676.3 336.58L677.3 336.80L678.3 337.01L679.3 337.21L680.3 337.40L681.3 337.57L682.3 337.74L683.3 337.90L684.3 338.05" stroke="#ff7f0e"/>
<path d="M48.3 342.95L49.3 342.95L50.3 342.95L51.3 342.95L52.3 342.95L53.3 342.95L54.3 342.95L55.3 342.95L56.3 342.95L57.3 342.95L58.3 342.95L59.3 342.94L60.3 342.94L61.3 342.94L62.3 342.94L63.3 342.93L64.3 342.93L65.3 342.93L66.3 342.92L67.3 342.92L68.3 342.91L69.3 342.91L70.3 342.90L71.3 342.89L72.3 342.89L73.3 342.88L74.3 342.87L75.3 342.86L76.3 342.85L77.3 342.84L78.3 342.82L79.3 342.81L80.3 342.80L81.3 342.78L82.3 342.76L83.3 342.75L84.3 342.73L85.3 342.71L86.3 342.69L87.3 342.67L88.3 342.64L89.3 342.62L90.3 342.59L91.3 342.57L92.3 342.54L93.3 342.51L94.3 342.48L95.3 342.45L96.3 342.42L97.3 342.39L98.3 342.35L99.3 342.32L100.3 342.28L101.3 342.24L102.3 342.20L103.3 342.16L104.3 342.12L105.3 342.08L106.3 342.04L107.3 341.99L108.3 341.95L109.3 341.90L110.3 341.85L111.3 341.80L112.3 341.75L113.3 341.70L114.3 341.65L115.3 341.60L116.3 341.54L117.3 341.48L118.3 341.43L119.3 341.37L120.3 341.31L121.3 341.24L122.3 341.18L123.3 341.11L124.3 341.04L125.3 340.97L126.3 340.90L127.3 340.82L128.3 340.75L129.3 340.66L130.3 340.58L131.3 340.49L132.3 340.40L133.3 340.30L134.3 340.20L135.3 340.09L136.3 339.98L137.3 339.87L138.3 339.74L139.3 339.61L140.3 339.48L141.3 339.33L142.3 339.17L143.3 339.01L144.3 338.84L145.3 338.65L146.3 338.45L147.3 338.24L148.3 338.01L149.3 337.77L150.3 337.50L151.3 337.22L152.3 336.91L153.3 336.58L154.3 336.22L155.3 335.83L156.3 335.41L157.3 334.95L158.3 334.44L159.3 333.88L160.3 333.27L161.3 332.60L162.3 331.85L163.3 331.03L164.3 330.11L165.3 329.08L166.3 327.93L167.3 326.64L168.3 325.18L169.3 323.52L170.3 321.64L171.3 319.49L172.3 317.02L173.3 314.19L174.3 310.92L175.3 307.13L176.3 302.74L177.3 297.64L178.3 291.73L179.3 284.92L180.3 277.14L181.3 268.40L182.3 258.81L183.3 248.72L184.3 238.73L185.3 229.75L186.3 222.89L187.3 219.19L188.3 219.31L189.3 223.21L190.3 230.23L191.3 239.30L192.3 249.32L193.3 259.39L194.3 268.93L195.3 277.62L196.3 285.34L197.3 292.09L198.3 297.94L199.3 302.99L200.3 307.34L201.3 311.09L202.3 314.33L203.3 317.14L204.3 319.58L205.3 321.71L206.3 323.57L207.3 325.21L208.3 326.66L209.3 327.94L210.3 329.08L211.3 330.10L212.3 331.01L213.3 331.83L214.3 332.57L215.3 333.23L216.3 333.84L217.3 334.39L218.3 334.89L219.3 335.34L220.3 335.76L221.3 336.15L222.3 336.50L223.3 336.83L224.3 337.13L225.3 337.40L226.3 337.66L227.3 337.90L228.3 338.12L229.3 338.33L230.3 338.52L231.3 338.70L232.3 338.87L233.3 339.03L234.3 339.18L235.3 339.32L236.3 339.45L237.3 339.57L238.3 339.69L239.3 339.79L240.3 339.90L241.3 339.99L242.3 340.09L243.3 340.17L244.3 340.26L245.3 340.33L246.3 340.41L247.3 340.48L248.3 340.54L249.3 340.61L250.3 340.67L251.3 340.72L252.3 340.78L253.3 340.83L254.3 340.88L255.3 340.92L256.3 340.97L257.3 341.01L258.3 341.05L259.3 341.09L260.3 341.13L261.3 341.16L262.3 341.20L263.3 341.23L264.3 341.26L265.3 341.29L266.3 341.32L267.3 341.34L268.3 341.37L269.3 341.39L270.3 341.41L271.3 341.44L272.3 341.46L273.3 341.48L274.3 341.50L275.3 341.51L276.3 341.53L277.3 341.55L278.3 341.56L279.3 341.58L280.3 341.59L281.3 341.61L282.3 341.62L283.3 341.63L284.3 341.64L285.3 341.65L286.3 341.66L287.3 341.67L288.3 341.68L289.3 341.69L290.3 341.69L291.3 341.70L292.3 341.71L293.3 341.71L294.3 341.72L295.3 341.72L296.3 341.73L297.3 341.73L298.3 341.73L299.3 341.73L300.3 341.74L301.3 341.74L302.3 341.74L303.3 341.74L304.3 341.74L305.3 341.74L306.3 341.73L307.3 341.73L308.3 341.73L309.3 341.73L310.3 341.72L311.3 341.72L312.3 341.71L313.3 341.71L314.3 341.70L315.3 341.69L316.3 341.68L317.3 341.68L318.3 341.67L319.3 341.66L320.3 341.65L321.3 341.63L322.3 341.62L323.3 341.61L324.3 341.59L325.3 341.58L326.3 341.56L327.3 341.55L328.3 341.53L329.3 341.51L330.3 341.49L331.3 341.47L332.3 341.44L333.3 341.42L334.3 341.39L335.3 341.36L336.3 341.33L337.3 341.30L338.3 341.27L339.3 341.23L340.3 341.20L341.3 341.16L342.3 341.12L343.3 341.07L344.3 341.02L345.3 340.97L346.3 340.92L347.3 340.86L348.3 340.80L349.3 340.73L350.3 340.66L351.3 340.59L352.3 340.50L353.3 340.42L354.3 340.32L355.3 340.22L356.3 340.11L357.3 339.99L358.3 339.87L359.3 339.73L360.3 339.58L361.3 339.41L362.3 339.23L363.3 339.03L364.3 338.82L365.3 338.58L366.3 338.32L367.3 338.03L368.3 337.71L369.3 337.35L370.3 336.95L371.3 336.50L372.3 336.00L373.3 335.44L374.3 334.80L375.3 334.08L376.3 333.26L377.3 332.33L378.3 331.27L379.3 330.06L380.3 328.69L381.3 327.12L382.3 325.35L383.3 323.36L384.3 321.17L385.3 318.79L386.3 316.30L387.3 313.80L388.3 311.46L389.3 309.48L390.3 308.09L391.3 307.47L392.3 307.69L393.3 308.73L394.3 310.44L395.3 312.63L396.3 315.06L397.3 317.55L398.3 319.98L399.3 322.24L400.3 324.31L401.3 326.16L402.3 327.80L403.3 329.25L404.3 330.51L405.3 331.62L406.3 332.59L407.3 333.44L408.3 334.19L409.3 334.84L410.3 335.42L411.3 335.92L412.3 336.38L413.3 336.77L414.3 337.13L415.3 337.45L416.3 337.73L417.3 337.98L418.3 338.21L419.3 338.41L420.3 338.59L421.3 338.76L422.3 338.91L423.3 339.04L424.3 339.16L425.3 339.27L426.3 339.36L427.3 339.45L428.3 339.53L429.3 339.60L430.3 339.66L431.3 339.71L432.3 339.76L433.3 339.80L434.3 339.84L435.3 339.87L436.3 339.89L437.3 339.91L438.3 339.93L439.3 339.94L440.3 339.94L441.3 339.95L442.3 339.94L443.3 339.94L444.3 339.93L445.3 339.92L446.3 339.90L447.3 339.88L448.3 339.85L449.3 339.83L450.3 339.79L451.3 339.76L452.3 339.72L453.3 339.67L454.3 339.62L455.3 339.57L456.3 339.51L457.3 339.45L458.3 339.39L459.3 339.31L460.3 339.24L461.3 339.16L462.3 339.07L463.3 338.97L464.3 338.87L465.3 338.76L466.3 338.65L467.3 338.52L468.3 338.39L469.3 338.25L470.3 338.10L471.3 337.94L472.3 337.76L473.3 337.58L474.3 337.38L475.3 337.16L476.3 336.93L477.3 336.68L478.3 336.41L479.3 336.12L480.3 335.81L481.3 335.47L482.3 335.10L483.3 334.71L484.3 334.27L485.3 333.80L486.3 333.28L487.3 332.72L488.3 332.10L489.3 331.41L490.3 330.66L491.3 329.83L492.3 328.92L493.3 327.90L494.3 326.77L495.3 325.52L496.3 324.12L497.3 322.56L498.3 320.82L499.3 318.89L500.3 316.73L501.3 314.34L502.3 311.70L503.3 308.81L504.3 305.68L505.3 302.34L506.3 298.86L507.3 295.35L508.3 291.95L509.3 288.83L510.3 286.23L511.3 284.33L512.3 283.30L513.3 283.22L514.3 284.07L515.3 285.75L516.3 288.07L517.3 290.81L518.3 293.77L519.3 296.77L520.3 299.67L521.3 302.37L522.3 304.82L523.3 306.99L524.3 308.85L525.3 310.41L526.3 311.67L527.3 312.66L528.3 313.36L529.3 313.81L530.3 314.01L531.3 313.97L532.3 313.71L533.3 313.24L534.3 312.57L535.3 311.74L536.3 310.79L537.3 309.76L538.3 308.72L539.3 307.75L540.3 306.93L541.3 306.35L542.3 306.09L543.3 306.20L544.3 306.70L545.3 307.57L546.3 308.78L547.3 310.24L548.3 311.88L549.3 313.62L550.3 315.38L551.3 317.12L552.3 318.78L553.3 320.35L554.3 321.81L555.3 323.15L556.3 324.37L557.3 325.47L558.3 326.47L559.3 327.36L560.3 328.15L561.3 328.86L562.3 329.49L563.3 330.04L564.3 330.53L565.3 330.95L566.3 331.32L567.3 331.63L568.3 331.89L569.3 332.11L570.3 332.28L571.3 332.41L572.3 332.49L573.3 332.54L574.3 332.54L575.3 332.50L576.3 332.42L577.3 332.30L578.3 332.13L579.3 331.92L580.3 331.65L581.3 331.33L582.3 330.95L583.3 330.50L584.3 329.98L585.3 329.37L586.3 328.66L587.3 327.85L588.3 326.91L589.3 325.82L590.3 324.56L591.3 323.10L592.3 321.42L593.3 319.49L594.3 317.30L595.3 314.89L596.3 312.28L597.3 309.51L598.3 306.52L599.3 303.22L600.3 299.49L601.3 295.27L602.3 290.57L603.3 285.48L604.3 280.20L605.3 275.04L606.3 270.40L607.3 266.74L608.3 264.48L609.3 263.87L610.3 264.91L611.3 267.35L612.3 270.76L613.3 274.62L614.3 278.45L615.3 281.85L616.3 284.54L617.3 286.38L618.3 287.39L619.3 287.85L620.3 288.36L621.3 289.70L622.3 292.43L623.3 296.51L624.3 301.36L625.3 306.29L626.3 310.84L627.3 314.81L628.3 318.17L629.3 320.99L630.3 323.35L631.3 325.34L632.3 327.02L633.3 328.46L634.3 329.69L635.3 330.76L636.3 331.69L637.3 332.52L638.3 333.24L639.3 333.89L640.3 334.47L641.3 334.99L642.3 335.45L643.3 335.88L644.3 336.27L645.3 336.62L646.3 336.94L647.3 337.24L648.3 337.51L649.3 337.77L650.3 338.00L651.3 338.22L652.3 338.42L653.3 338.61L654.3 338.78L655.3 338.95L656.3 339.10L657.3 339.25L658.3 339.38L659.3 339.51L660.3 339.63L661.3 339.74L662.3 339.85L663.3 339.95L664.3 340.05L665.3 340.14L666.3 340.23L667.3 340.31L668.3 340.39L669.3 340.46L670.3 340.53L671.3 340.60L672.3 340.66L673.3 340.73L674.3 340.79L675.3 340.84L676.3 340.90L677.3 340.95L678.3 341.00L679.3 341.05L680.3 341.09L681.3 341.14L682.3 341.18L683.3 341.22L684.3 341.26" stroke="#ff00ff"/>
<path d="M48.3 342.95L49.3 342.95L50.3 342.95L51.3 342.95L52.3 342.95L53.3 342.95L54.3 342.95L55.3 342.95L56.3 342.95L57.3 342.95L58.3 342.95L59.3 342.95L60.3 342.95L61.3 342.95L62.3 342.95L63.3 342.95L64.3 342.95L65.3 342.95L66.3 342.94L67.3 342.94L68.3 342.94L69.3 342.94L70.3 342.94L71.3 342.94L72.3 342.94L73.3 342.94L74.3 342.93L75.3 342.93L76.3 342.93L77.3 342.93L78.3 342.92L79.3 342.92L80.3 342.92L81.3 342.91L82.3 342.91L83.3 342.91L84.3 342.90L85.3 342.90L86.3 342.89L87.3 342.89L88.3 342.88L89.3 342.88L90.3 342.87L91.3 342.87L92.3 342.86L93.3 342.85L94.3 342.85L95.3 342.84L96.3 342.83L97.3 342.82L98.3 342.81L99.3 342.81L100.3 342.80L101.3 342.79L102.3 342.78L103.3 342.77L104.3 342.76L105.3 342.75L106.3 342.74L107.3 342.72L108.3 342.71L109.3 342.70L110.3 342.69L111.3 342.67L112.3 342.66L113.3 342.65L114.3 342.63L115.3 342.62L116.3 342.60L117.3 342.59L118.3 342.57L119.3 342.55L120.3 342.53L121.3 342.52L122.3 342.50L123.3 342.47L124.3 342.45L125.3 342.43L126.3 342.41L127.3 342.38L128.3 342.36L129.3 342.33L130.3 342.30L131.3 342.27L132.3 342.24L133.3 342.20L134.3 342.17L135.3 342.13L136.3 342.08L137.3 342.04L138.3 341.99L139.3 341.94L140.3 341.88L141.3 341.82L142.3 341.76L143.3 341.68L144.3 341.61L145.3 341.52L146.3 341.43L147.3 341.32L148.3 341.21L149.3 341.08L150.3 340.95L151.3 340.79L152.3 340.62L153.3 340.42L154.3 340.20L155.3 339.95L156.3 339.67L157.3 339.34L158.3 338.96L159.3 338.53L160.3 338.02L161.3 337.42L162.3 336.71L163.3 335.86L164.3 334.84L165.3 333.61L166.3 332.09L167.3 330.23L168.3 327.92L169.3 325.05L170.3 321.51L171.3 317.19L172.3 312.10L173.3 306.51L174.3 301.10L175.3 297.01L176.3 295.49L177.3 297.07L178.3 301.19L179.3 306.62L180.3 312.21L181.3 317.28L182.3 321.58L183.3 325.12L184.3 327.97L185.3 330.27L186.3 332.12L187.3 333.63L188.3 334.86L189.3 335.88L190.3 336.72L191.3 337.43L192.3 338.02L193.3 338.53L194.3 338.96L195.3 339.34L196.3 339.66L197.3 339.95L198.3 340.20L199.3 340.42L200.3 340.61L201.3 340.78L202.3 340.94L203.3 341.08L204.3 341.20L205.3 341.31L206.3 341.41L207.3 341.51L208.3 341.59L209.3 341.67L210.3 341.74L211.3 341.80L212.3 341.86L213.3 341.92L214.3 341.97L215.3 342.02L216.3 342.06L217.3 342.10L218.3 342.14L219.3 342.17L220.3 342.21L221.3 342.24L222.3 342.26L223.3 342.29L224.3 342.32L225.3 342.34L226.3 342.36L227.3 342.38L228.3 342.40L229.3 342.42L230.3 342.44L231.3 342.46L232.3 342.47L233.3 342.49L234.3 342.50L235.3 342.52L236.3 342.53L237.3 342.54L238.3 342.55L239.3 342.56L240.3 342.57L241.3 342.58L242.3 342.59L243.3 342.60L244.3 342.61L245.3 342.62L246.3 342.63L247.3 342.63L248.3 342.64L249.3 342.65L250.3 342.65L251.3 342.66L252.3 342.67L253.3 342.67L254.3 342.68L255.3 342.68L256.3 342.69L257.3 342.69L258.3 342.70L259.3 342.70L260.3 342.71L261.3 342.71L262.3 342.72L263.3 342.72L264.3 342.72L265.3 342.73L266.3 342.73L267.3 342.73L268.3 342.74L269.3 342.74L270.3 342.74L271.3 342.75L272.3 342.75L273.3 342.75L274.3 342.75L275.3 342.76L276.3 342.76L277.3 342.76L278.3 342.76L279.3 342.76L280.3 342.77L281.3 342.77L282.3 342.77L283.3 342.77L284.3 342.77L285.3 342.77L286.3 342.78L287.3 342.78L288.3 342.78L289.3 342.78L290.3 342.78L291.3 342.78L292.3 342.78L293.3 342.78L294.3 342.79L295.3 342.79L296.3 342.79L297.3 342.79L298.3 342.79L299.3 342.79L300.3 342.79L301.3 342.79L302.3 342.79L303.3 342.79L304.3 342.79L305.3 342.79L306.3 342.79L307.3 342.79L308.3 342.79L309.3 342.79M337.3 342.78L338.3 342.78L339.3 342.78L340.3 342.78L341.3 342.77L342.3 342.77L343.3 342.77L344.3 342.77L345.3 342.77L346.3 342.77L347.3 342.76L348.3 342.76L349.3 342.76L350.3 342.76L351.3 342.75L352.3 342.75L353.3 342.75L354.3 342.75L355.3 342.74L356.3 342.74L357.3 342.74L358.3 342.74L359.3 342.73L360.3 342.73L361.3 342.73L362.3 342.72L363.3 342.72L364.3 342.71L365.3 342.71L366.3 342.71L367.3 342.70L368.3 342.70L369.3 342.69L370.3 342.69L371.3 342.68L372.3 342.68L373.3 342.67L374.3 342.66L375.3 342.66L376.3 342.65L377.3 342.64L378.3 342.64L379.3 342.63L380.3 342.62L381.3 342.61L382.3 342.60L383.3 342.59L384.3 342.58L385.3 342.57L386.3 342.56L387.3 342.55L388.3 342.54L389.3 342.52L390.3 342.51L391.3 342.49L392.3 342.48L393.3 342.46L394.3 342.44L395.3 342.42L396.3 342.40L397.3 342.37L398.3 342.35L399.3 342.32L400.3 342.29L401.3 342.26L402.3 342.22L403.3 342.18L404.3 342.13L405.3 342.08L406.3 342.02L407.3 341.95L408.3 341.88L409.3 341.79L410.3 341.70L411.3 341.59L412.3 341.46L413.3 341.32L414.3 341.17L415.3 340.99L416.3 340.80L417.3 340.59L418.3 340.35L419.3 340.09L420.3 339.82L421.3 339.52L422.3 339.21L423.3 338.88L424.3 338.55L425.3 338.21L426.3 337.89L427.3 337.58L428.3 337.31L429.3 337.09L430.3 336.93L431.3 336.84L432.3 336.83L433.3 336.90L434.3 337.05L435.3 337.25L436.3 337.51L437.3 337.79L438.3 338.10L439.3 338.42L440.3 338.73L441.3 339.04L442.3 339.34L443.3 339.61L444.3 339.87L445.3 340.11L446.3 340.32L447.3 340.51L448.3 340.68L449.3 340.83L450.3 340.97L451.3 341.08L452.3 341.18L453.3 341.26L454.3 341.33L455.3 341.38L456.3 341.43L457.3 341.46L458.3 341.48L459.3 341.50L460.3 341.51L461.3 341.51L462.3 341.50L463.3 341.49L464.3 341.47L465.3 341.44L466.3 341.41L467.3 341.37L468.3 341.33L469.3 341.28L470.3 341.22L471.3 341.15L472.3 341.07L473.3 340.98L474.3 340.88L475.3 340.77L476.3 340.64L477.3 340.50L478.3 340.33L479.3 340.14L480.3 339.92L481.3 339.68L482.3 339.39L483.3 339.07L484.3 338.71L485.3 338.29L486.3 337.82L487.3 337.30L488.3 336.70L489.3 336.04L490.3 335.31L491.3 334.51L492.3 333.64L493.3 332.70L494.3 331.70L495.3 330.66L496.3 329.61L497.3 328.58L498.3 327.61L499.3 326.76L500.3 326.08L501.3 325.63L502.3 325.45L503.3 325.55L504.3 325.92L505.3 326.54L506.3 327.34L507.3 328.29L508.3 329.31L509.3 330.37L510.3 331.42L511.3 332.44L512.3 333.40L513.3 334.30L514.3 335.14L515.3 335.90L516.3 336.59L517.3 337.21L518.3 337.76L519.3 338.26L520.3 338.70L521.3 339.09L522.3 339.43L523.3 339.73L524.3 340.00L525.3 340.24L526.3 340.44L527.3 340.63L528.3 340.79L529.3 340.94L530.3 341.07L531.3 341.19L532.3 341.29L533.3 341.39L534.3 341.47L535.3 341.55L536.3 341.63L537.3 341.69L538.3 341.76L539.3 341.81L540.3 341.87L541.3 341.92L542.3 341.96L543.3 342.01L544.3 342.05L545.3 342.08L546.3 342.12L547.3 342.15L548.3 342.18L549.3 342.21L550.3 342.24L551.3 342.27L552.3 342.29L553.3 342.32L554.3 342.34L555.3 342.36L556.3 342.38L557.3 342.40L558.3 342.42L559.3 342.43L560.3 342.45L561.3 342.47L562.3 342.48L563.3 342.49L564.3 342.51L565.3 342.52L566.3 342.53L567.3 342.54L568.3 342.56L569.3 342.57L570.3 342.58L571.3 342.59L572.3 342.60L573.3 342.61L574.3 342.61L575.3 342.62L576.3 342.63L577.3 342.64L578.3 342.65L579.3 342.65L580.3 342.66L581.3 342.67L582.3 342.67L583.3 342.68L584.3 342.69L585.3 342.69L586.3 342.70L587.3 342.70L588.3 342.71L589.3 342.71L590.3 342.72L591.3 342.72L592.3 342.73L593.3 342.73L594.3 342.74L595.3 342.74L596.3 342.74L597.3 342.75L598.3 342.75L599.3 342.76M613.3 342.80L614.3 342.80L615.3 342.80L616.3 342.81L617.3 342.81L618.3 342.81L619.3 342.81L620.3 342.81L621.3 342.82L622.3 342.82L623.3 342.82" stroke="#008000"/>
<path d="M48.3 343.44L49.3 343.44L50.3 343.44L51.3 343.44L52.3 343.44L53.3 343.44L54.3 343.44L55.3 343.44L56.3 343.44L57.3 343.44L58.3 343.44L59.3 343.44L60.3 343.44L61.3 343.44L62.3 343.44L63.3 343.44L64.3 343.44L65.3 343.44L66.3 343.44L67.3 343.44L68.3 343.44L69.3 343.44L70.3 343.44L71.3 343.44L72.3 343.44L73.3 343.44L74.3 343.44L75.3 343.44L76.3 343.44L77.3 343.44L78.3 343.44L79.3 343.44L80.3 343.44L81.3 343.44L82.3 343.44L83.3 343.44L84.3 343.44L85.3 343.44L86.3 343.44L87.3 343.44L88.3 343.44L89.3 343.44L90.3 343.44L91.3 343.44L92.3 343.44L93.3 343.44L94.3 343.44L95.3 343.44L96.3 343.44L97.3 343.44L98.3 343.44L99.3 343.44L100.3 343.44L101.3 343.44L102.3 343.44L103.3 343.44L104.3 343.44L105.3 343.44L106.3 343.44L107.3 343.44L108.3 343.44L109.3 343.44L110.3 343.44L111.3 343.44L112.3 343.44L113.3 343.44L114.3 343.44L115.3 343.44L116.3 343.44L117.3 343.44L118.3 343.43L119.3 343.43L120.3 343.43L121.3 343.43L122.3 343.43L123.3 343.43L124.3 343.43L125.3 343.43L126.3 343.43L127.3 343.43L128.3 343.43L129.3 343.43L130.3 343.43L131.3 343.43L132.3 343.43L133.3 343.43L134.3 343.43L135.3 343.43L136.3 343.43L137.3 343.43L138.3 343.43L139.3 343.43L140.3 343.43L141.3 343.43L142.3 343.43L143.3 343.43L144.3 343.43L145.3 343.43L146.3 343.42L147.3 343.42L148.3 343.42L149.3 343.42L150.3 343.42L151.3 343.42L152.3 343.42L153.3 343.42L154.3 343.42L155.3 343.42L156.3 343.42L157.3 343.41L158.3 343.41L159.3 343.41L160.3 343.41L161.3 343.41L162.3 343.41L163.3 343.41L164.3 343.40L165.3 343.40L166.3 343.40L167.3 343.40L168.3 343.39L169.3 343.39L170.3 343.39L171.3 343.38L172.3 343.38L173.3 343.37L174.3 343.37L175.3 343.36L176.3 343.35L177.3 343.35L178.3 343.34L179.3 343.33L180.3 343.32L181.3 343.30L182.3 343.29L183.3 343.27L184.3 343.25L185.3 343.22L186.3 343.18L187.3 343.14L188.3 343.09L189.3 343.01L190.3 342.90L191.3 342.75L192.3 342.53L193.3 342.22L194.3 341.80L195.3 341.27L196.3 340.64L197.3 340.01L198.3 339.55L199.3 339.46L200.3 339.79L201.3 340.38L202.3 341.02L203.3 341.60L204.3 342.07L205.3 342.42L206.3 342.67L207.3 342.85L208.3 342.97L209.3 343.06L210.3 343.12L211.3 343.17L212.3 343.20L213.3 343.23L214.3 343.26L215.3 343.28L216.3 343.29L217.3 343.31L218.3 343.32L219.3 343.33L220.3 343.34L221.3 343.35L222.3 343.36L223.3 343.36L224.3 343.37L225.3 343.37L226.3 343.38L227.3 343.38L228.3 343.38L229.3 343.39L230.3 343.39L231.3 343.39L232.3 343.40L233.3 343.40L234.3 343.40L235.3 343.40L236.3 343.40L237.3 343.40L238.3 343.41L239.3 343.41L240.3 343.41L241.3 343.41L242.3 343.41L243.3 343.41L244.3 343.41L245.3 343.41L246.3 343.41L247.3 343.41L248.3 343.42L249.3 343.42L250.3 343.42L251.3 343.42L252.3 343.42L253.3 343.42L254.3 343.42L255.3 343.42L256.3 343.42L257.3 343.42L258.3 343.42L259.3 343.42L260.3 343.42L261.3 343.42L262.3 343.42L263.3 343.42L264.3 343.42L265.3 343.42L266.3 343.42L267.3 343.42L268.3 343.42L269.3 343.42L270.3 343.42L271.3 343.42L272.3 343.42L273.3 343.42L274.3 343.42L275.3 343.42L276.3 343.42L277.3 343.42L278.3 343.42L279.3 343.42L280.3 343.42L281.3 343.42L282.3 343.42L283.3 343.42L284.3 343.42L285.3 343.42L286.3 343.42L287.3 343.42L288.3 343.42L289.3 343.42L290.3 343.42L291.3 343.42L292.3 343.42L293.3 343.42L294.3 343.42L295.3 343.42L296.3 343.42L297.3 343.42L298.3 343.42L299.3 343.42L300.3 343.42L301.3 343.42L302.3 343.42L303.3 343.42L304.3 343.42L305.3 343.42L306.3 343.42L307.3 343.42L308.3 343.42M496.3 342.48L497.3 342.47L498.3 342.45L499.3 342.44L500.3 342.42L501.3 342.40L502.3 342.39L503.3 342.37L504.3 342.35L505.3 342.33L506.3 342.31L507.3 342.29L508.3 342.27L509.3 342.25L510.3 342.23L511.3 342.21L512.3 342.19L513.3 342.17L514.3 342.14L515.3 342.12L516.3 342.09L517.3 342.07L518.3 342.04L519.3 342.02L520.3 341.99L521.3 341.96L522.3 341.93L523.3 341.90L524.3 341.86L525.3 341.83L526.3 341.79L527.3 341.76L528.3 341.71L529.3 341.67L530.3 341.62L531.3 341.57L532.3 341.51L533.3 341.44L534.3 341.35L535.3 341.25L536.3 341.11L537.3 340.94L538.3 340.72L539.3 340.44L540.3 340.10L541.3 339.69L542.3 339.21L543.3 338.72L544.3 338.25L545.3 337.93L546.3 337.83L547.3 337.99L548.3 338.35L549.3 338.80L550.3 339.26L551.3 339.68L552.3 340.03L553.3 340.31L554.3 340.53L555.3 340.70L556.3 340.82L557.3 340.90L558.3 340.97L559.3 341.01L560.3 341.04L561.3 341.06L562.3 341.07L563.3 341.07L564.3 341.06L565.3 341.03L566.3 340.98L567.3 340.91L568.3 340.80L569.3 340.65L570.3 340.46L571.3 340.22L572.3 339.95L573.3 339.70L574.3 339.53L575.3 339.52L576.3 339.67L577.3 339.94L578.3 340.25L579.3 340.55L580.3 340.81L581.3 341.02L582.3 341.18L583.3 341.31L584.3 341.42L585.3 341.50L586.3 341.56L587.3 341.61L588.3 341.66L589.3 341.70L590.3 341.74L591.3 341.78L592.3 341.81L593.3 341.84L594.3 341.87L595.3 341.90L596.3 341.93L597.3 341.96L598.3 341.99L599.3 342.01" stroke="#ff0000"/>
<path d="M48.3 654.70L49.3 654.66L50.3 654.61L51.3 654.55L52.3 654.47L53.3 654.37L54.3 654.25L55.3 654.10L56.3 653.93L57.3 653.72L58.3 653.49L59.3 653.21L60.3 652.91L61.3 652.57L62.3 652.21L63.3 651.82L64.3 651.41L65.3 650.98L66.3 650.55L67.3 650.11L68.3 649.67L69.3 649.24L70.3 648.83L71.3 648.44L72.3 648.09L73.3 647.79L74.3 647.55L75.3 647.37L76.3 647.27L77.3 647.25L78.3 647.30L79.3 647.43L80.3 647.63L81.3 647.90L82.3 648.21L83.3 648.57L84.3 648.96L85.3 649.37L86.3 649.79L87.3 650.22L88.3 650.65L89.3 651.07L90.3 651.47L91.3 651.86L92.3 652.22L93.3 652.56L94.3 652.86L95.3 653.14L96.3 653.38L97.3 653.59L98.3 653.77L99.3 653.92L100.3 654.05L101.3 654.15L102.3 654.23L103.3 654.29L104.3 654.34L105.3 654.38L106.3 654.40L107.3 654.42L108.3 654.42L109.3 654.42L110.3 654.42L111.3 654.40L112.3 654.38L113.3 654.36L114.3 654.32L115.3 654.28L116.3 654.22L117.3 654.15L118.3 654.06L119.3 653.95L120.3 653.80L121.3 653.61L122.3 653.37L123.3 653.05L124.3 652.64L125.3 652.15L126.3 651.55L127.3 650.84L128.3 650.04L129.3 649.17L130.3 648.24L131.3 647.34L132.3 646.55L133.3 646.01L134.3 645.83L135.3 646.06L136.3 646.63L137.3 647.43L138.3 648.33L139.3 649.23L140.3 650.08L141.3 650.84L142.3 651.51L143.3 652.07L144.3 652.53L145.3 652.90L146.3 653.19L147.3 653.41L148.3 653.58L149.3 653.71L150.3 653.80L151.3 653.88L152.3 653.93L153.3 653.97L154.3 654.00L155.3 654.02L156.3 654.04L157.3 654.05L158.3 654.05L159.3 654.05L160.3 654.04L161.3 654.03L162.3 654.02L163.3 654.00L164.3 653.98L165.3 653.95L166.3 653.93L167.3 653.89L168.3 653.86L169.3 653.82L170.3 653.77L171.3 653.72L172.3 653.67L173.3 653.61L174.3 653.55L175.3 653.47L176.3 653.40L177.3 653.31L178.3 653.22L179.3 653.12L180.3 653.01L181.3 652.88L182.3 652.74L183.3 652.59L184.3 652.41L185.3 652.20L186.3 651.95L187.3 651.64L188.3 651.27L189.3 650.81L190.3 650.23L191.3 649.51L192.3 648.61L193.3 647.52L194.3 646.21L195.3 644.65L196.3 642.86L197.3 640.85L198.3 638.68L199.3 636.45L200.3 634.29L201.3 632.37L202.3 630.84L203.3 629.79L204.3 629.16L205.3 628.76L206.3 628.38L207.3 627.87L208.3 627.18L209.3 626.44L210.3 625.94L211.3 626.08L212.3 627.14L213.3 629.13L214.3 631.75L215.3 634.59L216.3 637.34L217.3 639.78L218.3 641.82L219.3 643.44L220.3 644.64L221.3 645.45L222.3 645.93L223.3 646.13L224.3 646.11L225.3 645.90L226.3 645.57L227.3 645.15L228.3 644.69L229.3 644.24L230.3 643.85L231.3 643.58L232.3 643.49L233.3 643.59L234.3 643.88L235.3 644.34L236.3 644.91L237.3 645.54L238.3 646.19L239.3 646.83L240.3 647.44L241.3 647.99L242.3 648.49L243.3 648.92L244.3 649.28L245.3 649.59L246.3 649.84L247.3 650.03L248.3 650.19L249.3 650.30L250.3 650.39L251.3 650.44L252.3 650.46L253.3 650.46L254.3 650.43L255.3 650.37L256.3 650.27L257.3 650.13L258.3 649.94L259.3 649.69L260.3 649.37L261.3 648.97L262.3 648.48L263.3 647.88L264.3 647.17L265.3 646.34L266.3 645.37L267.3 644.27L268.3 643.04L269.3 641.70L270.3 640.24L271.3 638.71L272.3 637.14L273.3 635.56L274.3 634.03L275.3 632.60L276.3 631.35L277.3 630.33L278.3 629.61L279.3 629.25L280.3 629.27L281.3 629.67L282.3 630.43L283.3 631.50L284.3 632.82L285.3 634.31L286.3 635.93L287.3 637.59L288.3 639.26L289.3 640.89L290.3 642.44L291.3 643.90L292.3 645.23L293.3 646.44L294.3 647.52L295.3 648.47L296.3 649.30L297.3 650.02L298.3 650.63L299.3 651.16L300.3 651.60L301.3 651.98L302.3 652.29L303.3 652.55L304.3 652.77L305.3 652.95L306.3 653.10L307.3 653.23L308.3 653.35L309.3 653.45L310.3 653.54L311.3 653.62L312.3 653.69L313.3 653.76L314.3 653.82L315.3 653.88L316.3 653.93L317.3 653.98L318.3 654.03L319.3 654.08L320.3 654.12L321.3 654.16L322.3 654.20L323.3 654.23L324.3 654.27L325.3 654.30L326.3 654.33L327.3 654.36L328.3 654.38L329.3 654.41L330.3 654.43L331.3 654.46L332.3 654.48L333.3 654.50L334.3 654.52L335.3 654.54L336.3 654.56L337.3 654.57L338.3 654.59L339.3 654.60L340.3 654.62L341.3 654.63L342.3 654.64L343.3 654.66L344.3 654.67L345.3 654.68L346.3 654.69L347.3 654.70L348.3 654.71L349.3 654.72L350.3 654.73L351.3 654.73L352.3 654.74L353.3 654.75L354.3 654.76L355.3 654.76L356.3 654.77L357.3 654.77L358.3 654.78L359.3 654.79L360.3 654.79L361.3 654.79L362.3 654.80L363.3 654.80L364.3 654.81L365.3 654.81L366.3 654.81L367.3 654.82L368.3 654.82L369.3 654.82L370.3 654.83L371.3 654.83L372.3 654.83L373.3 654.84L374.3 654.84L375.3 654.84L376.3 654.84L377.3 654.84L378.3 654.85L379.3 654.85L380.3 654.85L381.3 654.85L382.3 654.85L383.3 654.85L384.3 654.85L385.3 654.86L386.3 654.86L387.3 654.86L388.3 654.86L389.3 654.86L390.3 654.86L391.3 654.86L392.3 654.86L393.3 654.86L394.3 654.86L395.3 654.86L396.3 654.86L397.3 654.86L398.3 654.86L399.3 654.87L400.3 654.87L401.3 654.87L402.3 654.87L403.3 654.87L404.3 654.86L405.3 654.86L406.3 654.86L407.3 654.86L408.3 654.86L409.3 654.86L410.3 654.86L411.3 654.86L412.3 654.86L413.3 654.86L414.3 654.86L415.3 654.86L416.3 654.86L417.3 654.85L418.3 654.85L419.3 654.85L420.3 654.85L421.3 654.85L422.3 654.85L423.3 654.84L424.3 654.84L425.3 654.84L426.3 654.84L427.3 654.83L428.3 654.83L429.3 654.83L430.3 654.82L431.3 654.82L432.3 654.81L433.3 654.81L434.3 654.81L435.3 654.80L436.3 654.79L437.3 654.79L438.3 654.78L439.3 654.77L440.3 654.77L441.3 654.76L442.3 654.75L443.3 654.74L444.3 654.73L445.3 654.72L446.3 654.70L447.3 654.69L448.3 654.67L449.3 654.65L450.3 654.63L451.3 654.61L452.3 654.59L453.3 654.56L454.3 654.53L455.3 654.49L456.3 654.45L457.3 654.40L458.3 654.35L459.3 654.28L460.3 654.20L461.3 654.11L462.3 654.01L463.3 653.88L464.3 653.74L465.3 653.57L466.3 653.37L467.3 653.14L468.3 652.89L469.3 652.59L470.3 652.27L471.3 651.90L472.3 651.51L473.3 651.08L474.3 650.61L475.3 650.11L476.3 649.58L477.3 649.02L478.3 648.43L479.3 647.82L480.3 647.19L481.3 646.54L482.3 645.89L483.3 645.25L484.3 644.63L485.3 644.05L486.3 643.52L487.3 643.06L488.3 642.69L489.3 642.42L490.3 642.28L491.3 642.26L492.3 642.37L493.3 642.60L494.3 642.95L495.3 643.38L496.3 643.90L497.3 644.47L498.3 645.09L499.3 645.73L500.3 646.37L501.3 647.02L502.3 647.66L503.3 648.28L504.3 648.88L505.3 649.45L506.3 649.99L507.3 650.50L508.3 650.98L509.3 651.42L510.3 651.83L511.3 652.20L512.3 652.54L513.3 652.84L514.3 653.11L515.3 653.35L516.3 653.56L517.3 653.73L518.3 653.89L519.3 654.02L520.3 654.13L521.3 654.22L522.3 654.30L523.3 654.37L524.3 654.43L525.3 654.48L526.3 654.53L527.3 654.56L528.3 654.60L529.3 654.63L530.3 654.65L531.3 654.67L532.3 654.69L533.3 654.71L534.3 654.73L535.3 654.74L536.3 654.76L537.3 654.77L538.3 654.78L539.3 654.79L540.3 654.80L541.3 654.81L542.3 654.82L543.3 654.83L544.3 654.83L545.3 654.84L546.3 654.85L547.3 654.85L548.3 654.86L549.3 654.86L550.3 654.87L551.3 654.87L552.3 654.87L553.3 654.88L554.3 654.88L555.3 654.88L556.3 654.89L557.3 654.89L558.3 654.89L559.3 654.90L560.3 654.90L561.3 654.90L562.3 654.90L563.3 654.90L564.3 654.91L565.3 654.91L566.3 654.91L567.3 654.91L568.3 654.91L569.3 654.91L570.3 654.92L571.3 654.92L572.3 654.92L573.3 654.92L574.3 654.92L575.3 654.92L576.3 654.92L577.3 654.92L578.3 654.92L579.3 654.92L580.3 654.93L581.3 654.93L582.3 654.93L583.3 654.93L584.3 654.93L585.3 654.93L586.3 654.93L587.3 654.93L588.3 654.93L589.3 654.93L590.3 654.93L591.3 654.93L592.3 654.93L593.3 654.93L594.3 654.93L595.3 654.93L596.3 654.94L597.3 654.94L598.3 654.94L599.3 654.94" stroke="#808080"/>
<path d="M48.3 653.56L49.3 653.50L50.3 653.43L51.3 653.34L52.3 653.23L53.3 653.11L54.3 652.97L55.3 652.79L56.3 652.59L57.3 652.36L58.3 652.09L59.3 651.79L60.3 651.45L61.3 651.09L62.3 650.69L63.3 650.27L64.3 649.82L65.3 649.36L66.3 648.89L67.3 648.42L68.3 647.94L69.3 647.47L70.3 647.02L71.3 646.60L72.3 646.21L73.3 645.86L74.3 645.58L75.3 645.35L76.3 645.20L77.3 645.13L78.3 645.14L79.3 645.22L80.3 645.37L81.3 645.58L82.3 645.84L83.3 646.14L84.3 646.47L85.3 646.82L86.3 647.18L87.3 647.55L88.3 647.91L89.3 648.26L90.3 648.59L91.3 648.91L92.3 649.20L93.3 649.46L94.3 649.69L95.3 649.88L96.3 650.04L97.3 650.16L98.3 650.25L99.3 650.31L100.3 650.34L101.3 650.34L102.3 650.32L103.3 650.28L104.3 650.22L105.3 650.14L106.3 650.05L107.3 649.94L108.3 649.83L109.3 649.70L110.3 649.55L111.3 649.40L112.3 649.23L113.3 649.05L114.3 648.86L115.3 648.65L116.3 648.42L117.3 648.17L118.3 647.90L119.3 647.59L120.3 647.23L121.3 646.83L122.3 646.35L123.3 645.80L124.3 645.14L125.3 644.38L126.3 643.50L127.3 642.50L128.3 641.39L129.3 640.18L130.3 638.90L131.3 637.62L132.3 636.43L133.3 635.46L134.3 634.81L135.3 634.53L136.3 634.56L137.3 634.77L138.3 635.03L139.3 635.24L140.3 635.34L141.3 635.30L142.3 635.11L143.3 634.78L144.3 634.33L145.3 633.80L146.3 633.22L147.3 632.63L148.3 632.03L149.3 631.42L150.3 630.77L151.3 630.06L152.3 629.26L153.3 628.35L154.3 627.30L155.3 626.11L156.3 624.76L157.3 623.25L158.3 621.55L159.3 619.66L160.3 617.56L161.3 615.22L162.3 612.63L163.3 609.76L164.3 606.56L165.3 603.00L166.3 599.04L167.3 594.61L168.3 589.65L169.3 584.08L170.3 577.82L171.3 570.77L172.3 562.81L173.3 553.81L174.3 543.64L175.3 532.17L176.3 519.30L177.3 505.01L178.3 489.37L179.3 472.64L180.3 455.14L181.3 437.25L182.3 419.38L183.3 402.09L184.3 386.19L185.3 372.72L186.3 362.75L187.3 357.16L188.3 356.45L189.3 360.61L190.3 369.16L191.3 381.32L192.3 396.07L193.3 412.38L194.3 429.28L195.3 445.94L196.3 461.75L197.3 476.29L198.3 489.38L199.3 501.00L200.3 511.27L201.3 520.43L202.3 528.71L203.3 536.30L204.3 543.25L205.3 549.48L206.3 554.84L207.3 559.26L208.3 562.76L209.3 565.52L210.3 567.90L211.3 570.39L212.3 573.50L213.3 577.49L214.3 582.38L215.3 587.92L216.3 593.73L217.3 599.38L218.3 604.54L219.3 609.02L220.3 612.79L221.3 615.89L222.3 618.38L223.3 620.37L224.3 621.94L225.3 623.17L226.3 624.12L227.3 624.87L228.3 625.47L229.3 626.00L230.3 626.50L231.3 627.06L232.3 627.73L233.3 628.54L234.3 629.50L235.3 630.57L236.3 631.71L237.3 632.88L238.3 634.03L239.3 635.14L240.3 636.19L241.3 637.16L242.3 638.05L243.3 638.85L244.3 639.56L245.3 640.20L246.3 640.76L247.3 641.26L248.3 641.69L249.3 642.08L250.3 642.41L251.3 642.71L252.3 642.96L253.3 643.18L254.3 643.36L255.3 643.49L256.3 643.59L257.3 643.63L258.3 643.61L259.3 643.53L260.3 643.37L261.3 643.12L262.3 642.77L263.3 642.32L264.3 641.74L265.3 641.03L266.3 640.19L267.3 639.21L268.3 638.09L269.3 636.85L270.3 635.51L271.3 634.08L272.3 632.60L273.3 631.11L274.3 629.67L275.3 628.33L276.3 627.15L277.3 626.21L278.3 625.57L279.3 625.28L280.3 625.37L281.3 625.84L282.3 626.67L283.3 627.80L284.3 629.17L285.3 630.73L286.3 632.39L287.3 634.11L288.3 635.83L289.3 637.51L290.3 639.11L291.3 640.61L292.3 641.98L293.3 643.23L294.3 644.35L295.3 645.33L296.3 646.20L297.3 646.95L298.3 647.60L299.3 648.15L300.3 648.62L301.3 649.02L302.3 649.36L303.3 649.64L304.3 649.88L305.3 650.08L306.3 650.25L307.3 650.40L308.3 650.53L309.3 650.64L310.3 650.74L311.3 650.83L312.3 650.91L313.3 650.98L314.3 651.05L315.3 651.11L316.3 651.16L317.3 651.21L318.3 651.26L319.3 651.30L320.3 651.33L321.3 651.36L322.3 651.39L323.3 651.41L324.3 651.43L325.3 651.44L326.3 651.45L327.3 651.45L328.3 651.45L329.3 651.45L330.3 651.44L331.3 651.42L332.3 651.41L333.3 651.38L334.3 651.35L335.3 651.32L336.3 651.27L337.3 651.23L338.3 651.17L339.3 651.11L340.3 651.04L341.3 650.96L342.3 650.88L343.3 650.78L344.3 650.67L345.3 650.55L346.3 650.42L347.3 650.28L348.3 650.11L349.3 649.93L350.3 649.73L351.3 649.51L352.3 649.27L353.3 648.99L354.3 648.69L355.3 648.34L356.3 647.96L357.3 647.53L358.3 647.04L359.3 646.49L360.3 645.87L361.3 645.17L362.3 644.38L363.3 643.49L364.3 642.50L365.3 641.40L366.3 640.20L367.3 638.91L368.3 637.58L369.3 636.25L370.3 635.01L371.3 633.96L372.3 633.19L373.3 632.80L374.3 632.82L375.3 633.25L376.3 634.04L377.3 635.10L378.3 636.32L379.3 637.60L380.3 638.88L381.3 640.10L382.3 641.22L383.3 642.25L384.3 643.16L385.3 643.96L386.3 644.67L387.3 645.28L388.3 645.81L389.3 646.27L390.3 646.66L391.3 646.99L392.3 647.27L393.3 647.50L394.3 647.68L395.3 647.82L396.3 647.92L397.3 647.97L398.3 647.99L399.3 647.96L400.3 647.89L401.3 647.78L402.3 647.61L403.3 647.38L404.3 647.09L405.3 646.73L406.3 646.29L407.3 645.76L408.3 645.13L409.3 644.39L410.3 643.54L411.3 642.59L412.3 641.56L413.3 640.50L414.3 639.49L415.3 638.64L416.3 638.03L417.3 637.69L418.3 637.53L419.3 637.44L420.3 637.26L421.3 636.87L422.3 636.18L423.3 635.13L424.3 633.73L425.3 632.10L426.3 630.48L427.3 629.27L428.3 628.88L429.3 629.52L430.3 631.06L431.3 633.13L432.3 635.32L433.3 637.36L434.3 639.13L435.3 640.61L436.3 641.80L437.3 642.76L438.3 643.51L439.3 644.11L440.3 644.58L441.3 644.94L442.3 645.22L443.3 645.42L444.3 645.57L445.3 645.66L446.3 645.71L447.3 645.72L448.3 645.70L449.3 645.64L450.3 645.56L451.3 645.45L452.3 645.31L453.3 645.15L454.3 644.97L455.3 644.76L456.3 644.52L457.3 644.26L458.3 643.97L459.3 643.65L460.3 643.30L461.3 642.91L462.3 642.49L463.3 642.02L464.3 641.51L465.3 640.95L466.3 640.33L467.3 639.65L468.3 638.92L469.3 638.11L470.3 637.23L471.3 636.29L472.3 635.26L473.3 634.16L474.3 632.97L475.3 631.70L476.3 630.34L477.3 628.89L478.3 627.35L479.3 625.71L480.3 623.97L481.3 622.13L482.3 620.20L483.3 618.17L484.3 616.05L485.3 613.84L486.3 611.56L487.3 609.20L488.3 606.78L489.3 604.30L490.3 601.75L491.3 599.13L492.3 596.42L493.3 593.62L494.3 590.69L495.3 587.62L496.3 584.38L497.3 580.96L498.3 577.36L499.3 573.57L500.3 569.63L501.3 565.59L502.3 561.51L503.3 557.48L504.3 553.61L505.3 550.05L506.3 546.94L507.3 544.43L508.3 542.68L509.3 541.79L510.3 541.85L511.3 542.85L512.3 544.72L513.3 547.35L514.3 550.57L515.3 554.23L516.3 558.16L517.3 562.21L518.3 566.28L519.3 570.24L520.3 574.03L521.3 577.57L522.3 580.83L523.3 583.76L524.3 586.35L525.3 588.59L526.3 590.46L527.3 591.97L528.3 593.10L529.3 593.86L530.3 594.26L531.3 594.31L532.3 594.01L533.3 593.39L534.3 592.50L535.3 591.40L536.3 590.15L537.3 588.89L538.3 587.72L539.3 586.81L540.3 586.28L541.3 586.26L542.3 586.81L543.3 587.94L544.3 589.60L545.3 591.69L546.3 594.10L547.3 596.69L548.3 599.35L549.3 602.00L550.3 604.56L551.3 607.01L552.3 609.32L553.3 611.47L554.3 613.48L555.3 615.34L556.3 617.08L557.3 618.69L558.3 620.20L559.3 621.61L560.3 622.92L561.3 624.15L562.3 625.30L563.3 626.37L564.3 627.36L565.3 628.27L566.3 629.11L567.3 629.88L568.3 630.56L569.3 631.17L570.3 631.71L571.3 632.16L572.3 632.53L573.3 632.81L574.3 633.01L575.3 633.11L576.3 633.11L577.3 633.00L578.3 632.77L579.3 632.40L580.3 631.89L581.3 631.21L582.3 630.35L583.3 629.28L584.3 627.99L585.3 626.47L586.3 624.75L587.3 622.88L588.3 620.96L589.3 619.13L590.3 617.55L591.3 616.36L592.3 615.57L593.3 615.08L594.3 614.71L595.3 614.24L596.3 613.49L597.3 612.29L598.3 610.54L599.3 608.18L600.3 605.16L601.3 601.49L602.3 597.23L603.3 592.51L604.3 587.61L605.3 582.92L606.3 578.94L607.3 576.18L608.3 575.02L609.3 575.55L610.3 577.51L611.3 580.44L612.3 583.77L613.3 587.02L614.3 589.84L615.3 592.05L616.3 593.61L617.3 594.56L618.3 595.08L619.3 595.37L620.3 595.72L621.3 596.38L622.3 597.57L623.3 599.37L624.3 601.75L625.3 604.61L626.3 607.75L627.3 611.01L628.3 614.23L629.3 617.31L630.3 620.18L631.3 622.79L632.3 625.11L633.3 627.14L634.3 628.86L635.3 630.26L636.3 631.34L637.3 632.09L638.3 632.49L639.3 632.58L640.3 632.43L641.3 632.27L642.3 632.40L643.3 633.11L644.3 634.46L645.3 636.19L646.3 638.02L647.3 639.71L648.3 641.20L649.3 642.48L650.3 643.57L651.3 644.49L652.3 645.29L653.3 645.98L654.3 646.59L655.3 647.12L656.3 647.59L657.3 648.01L658.3 648.39L659.3 648.73L660.3 649.04L661.3 649.33L662.3 649.59L663.3 649.83L664.3 650.05L665.3 650.25L666.3 650.44L667.3 650.62L668.3 650.79L669.3 650.94L670.3 651.09L671.3 651.23L672.3 651.36L673.3 651.48L674.3 651.60L675.3 651.71L676.3 651.81L677.3 651.91L678.3 652.01L679.3 652.10L680.3 652.19L681.3 652.27L682.3 652.35L683.3 652.43L684.3 652.50" stroke="#404040" stroke-width="1.5"/>
<path d="M48.3 654.75L48.8 654.30L49.3 653.57L49.8 652.84L50.3 653.29L50.8 653.74L51.3 654.19L51.8 654.18L52.3 654.17L52.8 654.15L53.3 653.72L53.8 653.27L54.3 652.82L54.8 653.03L55.3 653.24L55.8 653.43L56.3 653.42L56.8 653.39L57.3 653.36L57.8 653.18L58.3 653.00L58.8 652.80L59.3 652.31L59.8 651.80L60.3 651.29L60.8 650.61L61.3 649.92L61.8 649.23L62.3 649.40L62.8 649.57L63.3 649.73L63.8 649.94L64.3 650.15L64.8 650.35L65.3 649.83L65.8 649.31L66.3 648.79L66.8 648.68L67.3 648.57L67.8 648.47L68.3 648.18L68.8 647.91L69.3 647.63L69.8 647.09L70.3 646.55L70.8 646.03L71.3 646.16L71.8 646.30L72.3 646.46L72.8 646.25L73.3 646.06L73.8 645.88L74.3 645.89L74.8 645.91L75.3 645.95L75.8 645.77L76.3 645.61L76.8 645.47L77.3 645.30L77.8 645.14L78.3 645.01L78.8 645.29L79.3 645.59L79.8 645.90L80.3 645.93L80.8 645.98L81.3 646.04L81.8 646.09L82.3 646.16L82.8 646.23L83.3 646.47L83.8 646.71L84.3 646.97L84.8 647.29L85.3 647.62L85.8 647.96L86.3 648.23L86.8 648.51L87.3 648.78L87.8 648.70L88.3 648.61L88.8 648.52L89.3 648.62L89.8 648.72L90.3 648.82L90.8 648.43L91.3 648.03L91.8 647.62L92.3 648.62L92.8 649.62L93.3 650.61L93.8 650.50L94.3 650.39L94.8 650.27L95.3 650.11L95.8 649.95L96.3 649.77L96.8 649.60L97.3 649.41L97.8 649.22L98.3 649.38L98.8 649.53L99.3 649.68L99.8 650.06L100.3 650.44L100.8 650.81L101.3 650.72L101.8 650.63L102.3 650.52L102.8 650.32L103.3 650.11L103.8 649.90L104.3 650.02L104.8 650.13L105.3 650.24L105.8 650.02L106.3 649.79L106.8 649.56L107.3 650.02L107.8 650.47L108.3 650.93L108.8 650.25L109.3 649.57L109.8 648.89L110.3 648.61L110.8 648.32L111.3 648.03L111.8 648.38L112.3 648.72L112.8 649.05L113.3 648.88L113.8 648.71L114.3 648.54L114.8 648.49L115.3 648.44L115.8 648.38L116.3 648.51L116.8 648.62L117.3 648.73L117.8 648.46L118.3 648.18L118.8 647.89L119.3 647.45L119.8 647.01L120.3 646.55L120.8 646.60L121.3 646.63L121.8 646.65L122.3 646.50L122.8 646.34L123.3 646.15L123.8 645.77L124.3 645.36L124.8 644.93L125.3 644.39L125.8 643.83L126.3 643.24L126.8 642.53L127.3 641.79L127.8 641.02L128.3 640.81L128.8 640.59L129.3 640.34L129.8 639.59L130.3 638.83L130.8 638.08L131.3 637.42L131.8 636.78L132.3 636.19L132.8 636.15L133.3 636.19L133.8 636.31L134.3 635.87L134.8 635.52L135.3 635.25L135.8 635.06L136.3 634.94L136.8 634.86L137.3 634.93L137.8 635.02L138.3 635.11L138.8 635.13L139.3 635.14L139.8 635.11L140.3 635.65L140.8 636.16L141.3 636.62L141.8 636.26L142.3 635.85L142.8 635.41L143.3 635.24L143.8 635.03L144.3 634.80L144.8 634.77L145.3 634.72L145.8 634.66L146.3 633.98L146.8 633.30L147.3 632.62L147.8 632.12L148.3 631.63L148.8 631.13L149.3 631.12L149.8 631.10L150.3 631.07L150.8 630.49L151.3 629.90L151.8 629.28L152.3 629.03L152.8 628.75L153.3 628.44L153.8 627.93L154.3 627.38L154.8 626.79L155.3 626.41L155.8 625.98L156.3 625.51L156.8 624.26L157.3 622.97L157.8 621.63L158.3 621.51L158.8 621.34L159.3 621.13L159.8 619.84L160.3 618.51L160.8 617.11L161.3 615.54L161.8 613.91L162.3 612.21L162.8 611.37L163.3 610.45L163.8 609.45L164.3 607.60L164.8 605.66L165.3 603.62L165.8 601.53L166.3 599.33L166.8 597.01L167.3 594.52L167.8 591.90L168.3 589.14L168.8 586.28L169.3 583.25L169.8 580.05L170.3 577.17L170.8 574.09L171.3 570.80L171.8 567.28L172.3 563.53L172.8 559.51L173.3 554.33L173.8 548.85L174.3 543.07L174.8 537.33L175.3 531.25L175.8 524.82L176.3 518.60L176.8 512.02L177.3 505.09L177.8 497.37L178.3 489.34L178.8 481.03L179.3 472.48L179.8 463.73L180.3 454.84L180.8 445.88L181.3 436.87L181.8 427.86L182.3 419.02L182.8 410.33L183.3 401.87L183.8 393.45L184.3 385.49L184.8 378.14L185.3 372.39L185.8 367.53L186.3 363.66L186.8 359.89L187.3 357.29L187.8 355.93L188.3 356.13L188.8 357.56L189.3 360.17L189.8 364.13L190.3 369.10L190.8 374.97L191.3 381.17L191.8 388.02L192.3 395.39L192.8 404.10L193.3 413.07L193.8 422.19L194.3 430.14L194.8 438.02L195.3 445.75L195.8 453.71L196.3 461.38L196.8 468.74L197.3 476.24L197.8 483.38L198.3 490.14L198.8 495.89L199.3 501.28L199.8 506.34L200.3 511.37L200.8 516.12L201.3 520.62L201.8 524.26L202.3 527.72L202.8 531.00L203.3 534.67L203.8 538.18L204.3 541.53L204.8 545.11L205.3 548.50L205.8 551.66L206.3 554.60L206.8 557.30L207.3 559.76L207.8 561.67L208.3 563.37L208.8 564.89L209.3 566.12L209.8 567.26L210.3 568.37L210.8 569.60L211.3 570.94L211.8 572.43L212.3 574.18L212.8 576.15L213.3 578.37L213.8 580.67L214.3 583.17L214.8 585.84L215.3 588.58L215.8 591.39L216.3 594.21L216.8 597.12L217.3 599.93L217.8 602.62L218.3 605.18L218.8 607.58L219.3 609.79L219.8 611.84L220.3 613.71L220.8 615.41L221.3 616.11L221.8 616.67L222.3 617.09L222.8 618.80L223.3 620.39L223.8 621.87L224.3 622.81L224.8 623.67L225.3 624.46L225.8 624.61L226.3 624.71L226.8 624.75L227.3 625.17L227.8 625.56L228.3 625.92L228.8 626.09L229.3 626.24L229.8 626.39L230.3 626.52L230.8 626.67L231.3 626.83L231.8 627.03L232.3 627.27L232.8 627.54L233.3 628.07L233.8 628.63L234.3 629.22L234.8 630.20L235.3 631.20L235.8 632.22L236.3 632.49L236.8 632.76L237.3 633.03L237.8 634.14L238.3 635.24L238.8 636.33L239.3 636.77L239.8 637.19L240.3 637.60L240.8 638.11L241.3 638.61L241.8 639.09L242.3 639.75L242.8 640.39L243.3 641.02L243.8 641.16L244.3 641.28L244.8 641.38L245.3 641.87L245.8 642.34L246.3 642.81L246.8 643.02L247.3 643.23L247.8 643.44L248.3 644.34L248.8 645.26L249.3 646.18L249.8 646.31L250.3 646.44L250.8 646.60L251.3 647.00L251.8 647.41L252.3 647.81L252.8 648.41L253.3 648.98L253.8 649.50L254.3 650.22L254.8 650.86L255.3 651.41L255.8 651.32L256.3 651.13L256.8 650.84L257.3 650.80L257.8 650.70L258.3 650.54L258.8 650.35L259.3 650.14L259.8 649.91L260.3 648.30L260.8 646.68L261.3 645.06L261.8 644.72L262.3 644.38L262.8 644.04L263.3 643.56L263.8 643.07L264.3 642.57L264.8 642.50L265.3 642.42L265.8 642.31L266.3 641.66L266.8 640.99L267.3 640.29L267.8 639.57L268.3 638.83L268.8 638.06L269.3 637.38L269.8 636.67L270.3 635.94L270.8 635.32L271.3 634.69L271.8 634.05L272.3 633.36L272.8 632.67L273.3 631.99L273.8 631.65L274.3 631.34L274.8 631.05L275.3 629.91L275.8 628.80L276.3 627.75L276.8 627.07L277.3 626.45L277.8 625.91L278.3 625.47L278.8 625.12L279.3 624.86L279.8 625.10L280.3 625.44L280.8 625.87L281.3 625.79L281.8 625.80L282.3 625.89L282.8 626.75L283.3 627.68L283.8 628.68L284.3 629.73L284.8 630.82L285.3 631.95L285.8 632.34L286.3 632.74L286.8 633.15L287.3 634.16L287.8 635.17L288.3 636.17L288.8 637.29L289.3 638.40L289.8 639.48L290.3 640.02L290.8 640.52L291.3 641.00L291.8 641.45L292.3 641.88L292.8 642.27L293.3 642.94L293.8 643.58L294.3 644.18L294.8 644.67L295.3 645.12L295.8 645.55L296.3 645.13L296.8 644.68L297.3 644.21L297.8 645.01L298.3 645.79L298.8 646.54L299.3 646.89L299.8 647.22L300.3 647.53L300.8 648.48L301.3 649.40L301.8 650.31L302.3 650.21L302.8 650.09L303.3 649.95L303.8 649.81L304.3 649.65L304.8 649.49L305.3 649.81L305.8 650.12L306.3 650.42L306.8 650.70L307.3 650.97L307.8 651.23L308.3 651.05L308.8 650.85L309.3 650.66L309.8 650.77L310.3 650.89L310.8 650.99L311.3 651.15L311.8 651.31L312.3 651.46L312.8 651.13L313.3 650.79L313.8 650.45L314.3 650.31L314.8 650.17L315.3 650.02L315.8 650.27L316.3 650.51L316.8 650.75L317.3 651.03L317.8 651.29L318.3 651.56L318.8 651.42L319.3 651.28L319.8 651.13L320.3 651.01L320.8 650.88L321.3 650.75L321.8 650.78L322.3 650.81L322.8 650.85L323.3 651.34L323.8 651.83L324.3 652.32L324.8 652.24L325.3 652.15L325.8 652.06L326.3 651.82L326.8 651.58L327.3 651.34L327.8 651.23L328.3 651.12L328.8 651.00L329.3 650.90L329.8 650.80L330.3 650.70L330.8 650.71L331.3 650.72L331.8 650.74L332.3 651.17L332.8 651.59L333.3 652.02L333.8 652.05L334.3 652.08L334.8 652.11L335.3 652.18L335.8 652.24L336.3 652.30L336.8 651.64L337.3 650.97L337.8 650.30L338.3 650.41L338.8 650.52L339.3 650.62L339.8 650.63L340.3 650.63L340.8 650.63L341.3 650.45L341.8 650.28L342.3 650.09L342.8 650.32L343.3 650.54L343.8 650.76L344.3 650.99L344.8 651.22L345.3 651.44L345.8 651.28L346.3 651.11L346.8 650.93L347.3 650.74L347.8 650.55L348.3 650.35L348.8 649.87L349.3 649.38L349.8 648.89L350.3 648.81L350.8 648.72L351.3 648.62L351.8 648.99L352.3 649.35L352.8 649.71L353.3 649.32L353.8 648.92L354.3 648.52L354.8 648.20L355.3 647.88L355.8 647.54L356.3 647.75L356.8 647.93L357.3 648.11L357.8 647.80L358.3 647.46L358.8 647.12L359.3 647.16L359.8 647.18L360.3 647.18L360.8 646.48L361.3 645.76L361.8 645.01L362.3 644.59L362.8 644.14L363.3 643.66L363.8 643.46L364.3 643.23L364.8 642.98L365.3 642.34L365.8 641.69L366.3 641.00L366.8 640.11L367.3 639.20L367.8 638.27L368.3 637.71L368.8 637.15L369.3 636.60L369.8 635.83L370.3 635.10L370.8 634.41L371.3 633.79L371.8 633.24L372.3 632.78L372.8 632.83L373.3 632.97L373.8 633.23L374.3 633.28L374.8 633.43L375.3 633.68L375.8 633.45L376.3 633.29L376.8 633.20L377.3 634.02L377.8 634.89L378.3 635.78L378.8 636.79L379.3 637.81L379.8 638.82L380.3 639.32L380.8 639.81L381.3 640.28L381.8 641.10L382.3 641.90L382.8 642.67L383.3 642.72L383.8 642.73L384.3 642.73L384.8 643.13L385.3 643.50L385.8 643.85L386.3 644.09L386.8 644.31L387.3 644.50L387.8 644.76L388.3 645.01L388.8 645.23L389.3 645.58L389.8 645.91L390.3 646.23L390.8 646.31L391.3 646.37L391.8 646.43L392.3 646.69L392.8 646.94L393.3 647.18L393.8 647.53L394.3 647.87L394.8 648.19L395.3 648.40L395.8 648.60L396.3 648.79L396.8 648.72L397.3 648.65L397.8 648.56L398.3 648.98L398.8 649.39L399.3 649.79L399.8 648.94L400.3 648.08L400.8 647.21L401.3 647.62L401.8 648.01L402.3 648.39L402.8 648.18L403.3 647.96L403.8 647.72L404.3 647.73L404.8 647.71L405.3 647.68L405.8 647.72L406.3 647.74L406.8 647.74L407.3 647.08L407.8 646.40L408.3 645.68L408.8 645.24L409.3 644.76L409.8 644.25L410.3 643.80L410.8 643.32L411.3 642.82L411.8 642.14L412.3 641.45L412.8 640.75L413.3 640.43L413.8 640.12L414.3 639.84L414.8 639.26L415.3 638.72L415.8 638.25L416.3 637.88L416.8 637.57L417.3 637.32L417.8 637.41L418.3 637.53L418.8 637.67L419.3 637.68L419.8 637.66L420.3 637.61L420.8 637.26L421.3 636.84L421.8 636.35L422.3 636.01L422.8 635.58L423.3 635.06L423.8 634.42L424.3 633.70L424.8 632.92L425.3 632.65L425.8 632.38L426.3 632.16L426.8 631.12L427.3 630.24L427.8 629.57L428.3 629.25L428.8 629.19L429.3 629.39L429.8 630.17L430.3 631.13L430.8 632.22L431.3 633.23L431.8 634.27L432.3 635.30L432.8 635.97L433.3 636.58L433.8 637.12L434.3 638.27L434.8 639.35L435.3 640.35L435.8 641.00L436.3 641.58L436.8 642.11L437.3 642.87L437.8 643.58L438.3 644.26L438.8 644.71L439.3 645.13L439.8 645.51L440.3 645.67L440.8 645.81L441.3 645.93L441.8 646.21L442.3 646.47L442.8 646.71L443.3 646.67L443.8 646.62L444.3 646.55L444.8 646.81L445.3 647.06L445.8 647.31L446.3 647.32L446.8 647.34L447.3 647.36L447.8 647.72L448.3 648.08L448.8 648.45L449.3 648.74L449.8 649.03L450.3 649.33L450.8 649.26L451.3 649.18L451.8 649.05L452.3 649.10L452.8 649.09L453.3 649.02L453.8 648.80L454.3 648.53L454.8 648.21L455.3 647.88L455.8 647.53L456.3 647.18L456.8 646.80L457.3 646.43L457.8 646.06L458.3 645.43L458.8 644.81L459.3 644.19L459.8 643.73L460.3 643.28L460.8 642.83L461.3 642.68L461.8 642.53L462.3 642.37L462.8 642.38L463.3 642.39L463.8 642.39L464.3 641.75L464.8 641.10L465.3 640.45L465.8 640.66L466.3 640.86L466.8 641.05L467.3 641.02L467.8 640.98L468.3 640.92L468.8 640.03L469.3 639.13L469.8 638.21L470.3 637.63L470.8 637.05L471.3 636.44L471.8 635.98L472.3 635.50L472.8 635.00L473.3 634.40L473.8 633.78L474.3 633.14L474.8 632.87L475.3 632.58L475.8 632.27L476.3 631.59L476.8 630.89L477.3 630.17L477.8 628.83L478.3 627.47L478.8 626.08L479.3 625.11L479.8 624.12L480.3 623.10L480.8 622.60L481.3 622.07L481.8 621.52L482.3 620.08L482.8 618.61L483.3 617.11L483.8 616.54L484.3 615.94L484.8 615.32L485.3 614.32L485.8 613.30L486.3 612.26L486.8 610.85L487.3 609.43L487.8 608.00L488.3 607.05L488.8 606.08L489.3 605.10L489.8 603.78L490.3 602.45L490.8 601.10L491.3 599.66L491.8 598.19L492.3 596.70L492.8 595.34L493.3 593.95L493.8 592.53L494.3 590.78L494.8 588.99L495.3 587.17L495.8 585.54L496.3 583.86L496.8 582.14L497.3 580.81L497.8 579.43L498.3 578.00L498.8 576.17L499.3 574.28L499.8 572.36L500.3 570.15L500.8 567.92L501.3 565.66L501.8 563.61L502.3 561.56L502.8 559.52L503.3 557.70L503.8 555.92L504.3 554.19L504.8 552.15L505.3 550.19L505.8 548.35L506.3 546.68L506.8 545.16L507.3 543.81L507.8 543.13L508.3 542.65L508.8 542.39L509.3 541.85L509.8 541.55L510.3 541.48L510.8 542.30L511.3 543.36L511.8 544.63L512.3 545.84L512.8 547.25L513.3 548.83L513.8 549.90L514.3 551.10L514.8 552.41L515.3 554.42L515.8 556.50L516.3 558.63L516.8 560.79L517.3 562.96L517.8 565.13L518.3 567.01L518.8 568.85L519.3 570.67L519.8 572.62L520.3 574.53L520.8 576.37L521.3 577.91L521.8 579.38L522.3 580.78L522.8 582.61L523.3 584.36L523.8 586.03L524.3 587.17L524.8 588.22L525.3 589.19L525.8 589.29L526.3 589.31L526.8 589.23L527.3 590.35L527.8 591.39L528.3 592.33L528.8 593.44L529.3 594.46L529.8 595.39L530.3 595.13L530.8 594.78L531.3 594.35L531.8 594.06L532.3 593.69L532.8 593.25L533.3 592.72L533.8 592.12L534.3 591.46L534.8 591.14L535.3 590.78L535.8 590.39L536.3 590.03L536.8 589.66L537.3 589.31L537.8 588.30L538.3 587.34L538.8 586.44L539.3 586.02L539.8 585.70L540.3 585.50L540.8 586.04L541.3 586.71L541.8 587.53L542.3 587.49L542.8 587.60L543.3 587.85L543.8 588.65L544.3 589.57L544.8 590.60L545.3 591.46L545.8 592.41L546.3 593.41L546.8 594.92L547.3 596.47L547.8 598.03L548.3 599.21L548.8 600.39L549.3 601.56L549.8 602.90L550.3 604.22L550.8 605.51L551.3 606.67L551.8 607.80L552.3 608.89L552.8 610.09L553.3 611.26L553.8 612.38L554.3 613.50L554.8 614.59L555.3 615.64L555.8 616.44L556.3 617.21L556.8 617.96L557.3 618.59L557.8 619.19L558.3 619.77L558.8 620.49L559.3 621.19L559.8 621.86L560.3 622.25L560.8 622.62L561.3 622.98L561.8 623.74L562.3 624.48L562.8 625.20L563.3 625.77L563.8 626.31L564.3 626.84L564.8 626.96L565.3 627.07L565.8 627.15L566.3 627.91L566.8 628.65L567.3 629.37L567.8 629.77L568.3 630.15L568.8 630.51L569.3 631.03L569.8 631.52L570.3 632.00L570.8 632.18L571.3 632.33L571.8 632.47L572.3 632.23L572.8 631.98L573.3 631.70L573.8 631.99L574.3 632.26L574.8 632.50L575.3 632.38L575.8 632.24L576.3 632.07L576.8 632.51L577.3 632.92L577.8 633.30L578.3 633.43L578.8 633.53L579.3 633.60L579.8 633.00L580.3 632.37L580.8 631.69L581.3 631.58L581.8 631.42L582.3 631.21L582.8 629.92L583.3 628.57L583.8 627.17L584.3 626.51L584.8 625.80L585.3 625.03L585.8 624.86L586.3 624.65L586.8 624.40L587.3 623.39L587.8 622.37L588.3 621.36L588.8 620.43L589.3 619.55L589.8 618.73L590.3 617.79L590.8 616.95L591.3 616.21L591.8 615.80L592.3 615.49L592.8 615.25L593.3 614.84L593.8 614.47L594.3 614.10L594.8 613.70L595.3 613.24L595.8 612.72L596.3 612.63L596.8 612.44L597.3 612.11L597.8 611.65L598.3 611.05L598.8 610.29L599.3 608.71L599.8 606.96L600.3 605.05L600.8 603.33L601.3 601.45L601.8 599.42L602.3 596.98L602.8 594.42L603.3 591.78L603.8 589.53L604.3 587.27L604.8 585.06L605.3 582.65L605.8 580.41L606.3 578.42L606.8 576.89L607.3 575.73L607.8 574.98L608.3 574.77L608.8 574.98L609.3 575.60L609.8 576.53L610.3 577.77L610.8 579.24L611.3 580.55L611.8 581.96L612.3 583.40L612.8 584.56L613.3 585.65L613.8 586.63L614.3 588.22L614.8 589.65L615.3 590.92L615.8 592.13L616.3 593.17L616.8 594.06L617.3 594.35L617.8 594.54L618.3 594.64L618.8 594.86L619.3 595.07L619.8 595.29L620.3 595.85L620.8 596.48L621.3 597.23L621.8 597.49L622.3 597.90L622.8 598.47L623.3 599.05L623.8 599.78L624.3 600.64L624.8 602.35L625.3 604.15L625.8 606.02L626.3 607.94L626.8 609.89L627.3 611.84L627.8 613.16L628.3 614.46L628.8 615.72L629.3 616.82L629.8 617.86L630.3 618.84L630.8 620.28L631.3 621.65L631.8 622.95L632.3 624.12L632.8 625.22L633.3 626.24L633.8 626.85L634.3 627.37L634.8 627.82L635.3 628.54L635.8 629.18L636.3 629.73L636.8 630.40L637.3 630.99L637.8 631.49L638.3 631.92L638.8 632.28L639.3 632.56L639.8 632.50L640.3 632.40L640.8 632.29L641.3 632.25L641.8 632.29L642.3 632.44L642.8 632.52L643.3 632.76L643.8 633.17L644.3 634.23L644.8 635.39L645.3 636.60L645.8 637.10L646.3 637.59L646.8 638.05L647.3 639.01L647.8 639.91L648.3 640.76L648.8 641.65L649.3 642.49L649.8 643.28L650.3 643.57L650.8 643.82L651.3 644.04L651.8 645.01L652.3 645.95L652.8 646.87L653.3 647.14L653.8 647.39L654.3 647.62L654.8 647.76L655.3 647.89L655.8 648.00L656.3 647.88L656.8 647.75L657.3 647.61L657.8 647.99L658.3 648.36L658.8 648.72L659.3 648.55L659.8 648.38L660.3 648.20L660.8 648.62L661.3 649.03L661.8 649.44L662.3 649.49L662.8 649.54L663.3 649.58L663.8 649.89L664.3 650.21L664.8 650.52L665.3 650.29L665.8 650.06L666.3 649.82L666.8 650.09L667.3 650.36L667.8 650.62L668.3 650.63L668.8 650.64L669.3 650.65L669.8 650.90L670.3 651.14L670.8 651.38L671.3 651.66L671.8 651.93L672.3 652.21L672.8 652.12L673.3 652.03L673.8 651.94L674.3 651.64L674.8 651.33L675.3 651.02L675.8 651.45L676.3 651.88L676.8 652.31L677.3 652.63L677.8 652.95L678.3 653.27L678.8 653.08L679.3 652.89L679.8 652.70L680.3 652.41L680.8 652.11L681.3 651.82L681.8 652.19L682.3 652.56L682.8 652.93L683.3 652.99L683.8 653.05L684.3 653.11" stroke="#262626" stroke-width="1.75"/>
<path d="M48.3 653.90L49.3 653.88L50.3 653.86L51.3 653.84L52.3 653.82L53.3 653.79L54.3 653.77L55.3 653.74L56.3 653.72L57.3 653.69L58.3 653.67L59.3 653.64L60.3 653.61L61.3 653.58L62.3 653.55L63.3 653.53L64.3 653.49L65.3 653.46L66.3 653.43L67.3 653.40L68.3 653.36L69.3 653.33L70.3 653.29L71.3 653.26L72.3 653.22L73.3 653.18L74.3 653.14L75.3 653.10L76.3 653.06L77.3 653.01L78.3 652.97L79.3 652.92L80.3 652.88L81.3 652.83L82.3 652.78L83.3 652.73L84.3 652.68L85.3 652.62L86.3 652.57L87.3 652.51L88.3 652.45L89.3 652.39L90.3 652.33L91.3 652.27L92.3 652.20L93.3 652.14L94.3 652.07L95.3 652.00L96.3 651.92L97.3 651.85L98.3 651.77L99.3 651.69L100.3 651.61L101.3 651.52L102.3 651.43L103.3 651.34L104.3 651.25L105.3 651.15L106.3 651.05L107.3 650.95L108.3 650.84L109.3 650.73L110.3 650.62L111.3 650.50L112.3 650.38L113.3 650.25L114.3 650.12L115.3 649.98L116.3 649.84L117.3 649.69L118.3 649.54L119.3 649.38L120.3 649.22L121.3 649.05L122.3 648.87L123.3 648.68L124.3 648.49L125.3 648.28L126.3 648.07L127.3 647.85L128.3 647.62L129.3 647.38L130.3 647.12L131.3 646.85L132.3 646.57L133.3 646.27L134.3 645.96L135.3 645.63L136.3 645.28L137.3 644.92L138.3 644.53L139.3 644.12L140.3 643.68L141.3 643.22L142.3 642.72L143.3 642.20L144.3 641.64L145.3 641.05L146.3 640.41L147.3 639.73L148.3 639.00L149.3 638.22L150.3 637.38L151.3 636.47L152.3 635.50L153.3 634.45L154.3 633.31L155.3 632.07L156.3 630.73L157.3 629.28L158.3 627.69L159.3 625.95L160.3 624.05L161.3 621.96L162.3 619.67L163.3 617.14L164.3 614.34L165.3 611.24L166.3 607.81L167.3 603.98L168.3 599.71L169.3 594.94L170.3 589.59L171.3 583.59L172.3 576.86L173.3 569.29L174.3 560.78L175.3 551.25L176.3 540.58L177.3 528.73L178.3 515.65L179.3 501.42L180.3 486.20L181.3 470.34L182.3 454.38L183.3 439.10L184.3 425.51L185.3 414.71L186.3 407.72L187.3 405.29L188.3 407.71L189.3 414.70L190.3 425.50L191.3 439.09L192.3 454.35L193.3 470.31L194.3 486.17L195.3 501.38L196.3 515.61L197.3 528.68L198.3 540.53L199.3 551.19L200.3 560.72L201.3 569.22L202.3 576.79L203.3 583.52L204.3 589.51L205.3 594.85L206.3 599.62L207.3 603.88L208.3 607.70L209.3 611.14L210.3 614.23L211.3 617.02L212.3 619.55L213.3 621.84L214.3 623.92L215.3 625.81L216.3 627.55L217.3 629.13L218.3 630.58L219.3 631.92L220.3 633.15L221.3 634.28L222.3 635.33L223.3 636.30L224.3 637.20L225.3 638.03L226.3 638.81L227.3 639.53L228.3 640.21L229.3 640.84L230.3 641.43L231.3 641.98L232.3 642.50L233.3 642.99L234.3 643.44L235.3 643.87L236.3 644.28L237.3 644.66L238.3 645.02L239.3 645.36L240.3 645.69L241.3 645.99L242.3 646.28L243.3 646.56L244.3 646.82L245.3 647.07L246.3 647.31L247.3 647.53L248.3 647.75L249.3 647.95L250.3 648.15L251.3 648.33L252.3 648.51L253.3 648.68L254.3 648.85L255.3 649.00L256.3 649.15L257.3 649.30L258.3 649.43L259.3 649.57L260.3 649.69L261.3 649.82L262.3 649.93L263.3 650.05L264.3 650.15L265.3 650.26L266.3 650.36L267.3 650.45L268.3 650.55L269.3 650.64L270.3 650.72L271.3 650.81L272.3 650.88L273.3 650.96L274.3 651.04L275.3 651.11L276.3 651.18L277.3 651.24L278.3 651.30L279.3 651.37L280.3 651.42L281.3 651.48L282.3 651.53L283.3 651.59L284.3 651.64L285.3 651.68L286.3 651.73L287.3 651.78L288.3 651.82L289.3 651.86L290.3 651.90L291.3 651.93L292.3 651.97L293.3 652.00L294.3 652.03L295.3 652.07L296.3 652.09L297.3 652.12L298.3 652.15L299.3 652.17L300.3 652.19L301.3 652.21L302.3 652.23L303.3 652.25L304.3 652.27L305.3 652.28L306.3 652.30L307.3 652.31L308.3 652.32L309.3 652.33L310.3 652.34L311.3 652.34L312.3 652.35L313.3 652.35L314.3 652.35L315.3 652.35L316.3 652.35L317.3 652.35L318.3 652.34L319.3 652.33L320.3 652.32L321.3 652.31L322.3 652.30L323.3 652.28L324.3 652.26L325.3 652.24L326.3 652.22L327.3 652.19L328.3 652.16L329.3 652.13L330.3 652.10L331.3 652.06L332.3 652.02L333.3 651.97L334.3 651.92L335.3 651.87L336.3 651.81L337.3 651.74L338.3 651.67L339.3 651.59L340.3 651.51L341.3 651.42L342.3 651.32L343.3 651.21L344.3 651.09L345.3 650.96L346.3 650.82L347.3 650.66L348.3 650.49L349.3 650.30L350.3 650.09L351.3 649.86L352.3 649.61L353.3 649.33L354.3 649.02L355.3 648.67L356.3 648.28L357.3 647.84L358.3 647.35L359.3 646.80L360.3 646.18L361.3 645.48L362.3 644.68L363.3 643.79L364.3 642.80L365.3 641.70L366.3 640.49L367.3 639.21L368.3 637.87L369.3 636.55L370.3 635.31L371.3 634.26L372.3 633.49L373.3 633.10L374.3 633.13L375.3 633.57L376.3 634.36L377.3 635.42L378.3 636.65L379.3 637.94L380.3 639.22L381.3 640.45L382.3 641.59L383.3 642.63L384.3 643.55L385.3 644.38L386.3 645.10L387.3 645.74L388.3 646.29L389.3 646.78L390.3 647.20L391.3 647.57L392.3 647.89L393.3 648.17L394.3 648.40L395.3 648.61L396.3 648.78L397.3 648.93L398.3 649.05L399.3 649.15L400.3 649.22L401.3 649.27L402.3 649.31L403.3 649.32L404.3 649.31L405.3 649.29L406.3 649.24L407.3 649.17L408.3 649.08L409.3 648.96L410.3 648.81L411.3 648.63L412.3 648.42L413.3 648.16L414.3 647.84L415.3 647.47L416.3 647.02L417.3 646.48L418.3 645.82L419.3 645.02L420.3 644.04L421.3 642.84L422.3 641.39L423.3 639.66L424.3 637.67L425.3 635.52L426.3 633.46L427.3 631.87L428.3 631.16L429.3 631.54L430.3 632.86L431.3 634.73L432.3 636.77L433.3 638.68L434.3 640.33L435.3 641.71L436.3 642.83L437.3 643.72L438.3 644.42L439.3 644.98L440.3 645.41L441.3 645.74L442.3 645.99L443.3 646.18L444.3 646.31L445.3 646.39L446.3 646.43L447.3 646.44L448.3 646.42L449.3 646.37L450.3 646.30L451.3 646.20L452.3 646.08L453.3 645.94L454.3 645.78L455.3 645.61L456.3 645.41L457.3 645.20L458.3 644.96L459.3 644.71L460.3 644.44L461.3 644.14L462.3 643.82L463.3 643.49L464.3 643.12L465.3 642.74L466.3 642.32L467.3 641.88L468.3 641.41L469.3 640.90L470.3 640.36L471.3 639.79L472.3 639.17L473.3 638.51L474.3 637.80L475.3 637.04L476.3 636.23L477.3 635.35L478.3 634.42L479.3 633.41L480.3 632.32L481.3 631.15L482.3 629.89L483.3 628.53L484.3 627.05L485.3 625.46L486.3 623.74L487.3 621.88L488.3 619.87L489.3 617.69L490.3 615.33L491.3 612.78L492.3 610.02L493.3 607.04L494.3 603.84L495.3 600.41L496.3 596.74L497.3 592.85L498.3 588.74L499.3 584.44L500.3 580.00L501.3 575.48L502.3 570.95L503.3 566.52L504.3 562.31L505.3 558.45L506.3 555.08L507.3 552.35L508.3 550.36L509.3 549.22L510.3 548.95L511.3 549.58L512.3 551.03L513.3 553.23L514.3 556.04L515.3 559.33L516.3 562.94L517.3 566.75L518.3 570.61L519.3 574.43L520.3 578.11L521.3 581.59L522.3 584.83L523.3 587.77L524.3 590.40L525.3 592.70L526.3 594.66L527.3 596.27L528.3 597.52L529.3 598.43L530.3 598.99L531.3 599.21L532.3 599.10L533.3 598.69L534.3 598.01L535.3 597.13L536.3 596.13L537.3 595.11L538.3 594.21L539.3 593.56L540.3 593.30L541.3 593.55L542.3 594.37L543.3 595.77L544.3 597.69L545.3 600.03L546.3 602.66L547.3 605.46L548.3 608.30L549.3 611.10L550.3 613.78L551.3 616.30L552.3 618.64L553.3 620.79L554.3 622.75L555.3 624.53L556.3 626.14L557.3 627.60L558.3 628.92L559.3 630.11L560.3 631.19L561.3 632.17L562.3 633.05L563.3 633.84L564.3 634.56L565.3 635.20L566.3 635.76L567.3 636.25L568.3 636.67L569.3 637.03L570.3 637.31L571.3 637.52L572.3 637.66L573.3 637.73L574.3 637.72L575.3 637.63L576.3 637.44L577.3 637.16L578.3 636.77L579.3 636.26L580.3 635.61L581.3 634.81L582.3 633.83L583.3 632.65L584.3 631.27L585.3 629.67L586.3 627.88L587.3 625.95L588.3 623.98L589.3 622.12L590.3 620.53L591.3 619.33L592.3 618.55L593.3 618.09L594.3 617.77L595.3 617.37L596.3 616.71L597.3 615.63L598.3 614.04L599.3 611.87L600.3 609.09L601.3 605.71L602.3 601.79L603.3 597.47L604.3 593.00L605.3 588.77L606.3 585.25L607.3 582.88L608.3 581.99L609.3 582.63L610.3 584.56L611.3 587.33L612.3 590.45L613.3 593.50L614.3 596.16L615.3 598.28L616.3 599.82L617.3 600.83L618.3 601.47L619.3 601.95L620.3 602.52L621.3 603.43L622.3 604.88L623.3 606.93L624.3 609.53L625.3 612.54L626.3 615.76L627.3 619.02L628.3 622.18L629.3 625.13L630.3 627.84L631.3 630.27L632.3 632.45L633.3 634.38L634.3 636.09L635.3 637.61L636.3 638.95L637.3 640.13L638.3 641.19L639.3 642.13L640.3 642.97L641.3 643.73L642.3 644.41L643.3 645.02L644.3 645.58L645.3 646.08L646.3 646.55L647.3 646.97L648.3 647.36L649.3 647.72L650.3 648.05L651.3 648.36L652.3 648.64L653.3 648.91L654.3 649.16L655.3 649.39L656.3 649.61L657.3 649.81L658.3 650.00L659.3 650.18L660.3 650.36L661.3 650.52L662.3 650.67L663.3 650.82L664.3 650.96L665.3 651.09L666.3 651.22L667.3 651.34L668.3 651.45L669.3 651.56L670.3 651.66L671.3 651.76L672.3 651.86L673.3 651.95L674.3 652.04L675.3 652.12L676.3 652.21L677.3 652.28L678.3 652.36L679.3 652.43L680.3 652.50L681.3 652.57L682.3 652.63L683.3 652.69L684.3 652.75" stroke="#008000"/>
<path d="M48.3 654.91L49.3 654.91L50.3 654.91L51.3 654.91L52.3 654.91L53.3 654.91L54.3 654.90L55.3 654.90L56.3 654.90L57.3 654.90L58.3 654.90L59.3 654.90L60.3 654.90L61.3 654.89L62.3 654.89L63.3 654.89L64.3 654.89L65.3 654.89L66.3 654.89L67.3 654.88L68.3 654.88L69.3 654.88L70.3 654.88L71.3 654.88L72.3 654.87L73.3 654.87L74.3 654.87L75.3 654.87L76.3 654.86L77.3 654.86L78.3 654.86L79.3 654.86L80.3 654.85L81.3 654.85L82.3 654.85L83.3 654.84L84.3 654.84L85.3 654.84L86.3 654.83L87.3 654.83L88.3 654.82L89.3 654.82L90.3 654.82L91.3 654.81L92.3 654.81L93.3 654.80L94.3 654.80L95.3 654.79L96.3 654.78L97.3 654.78L98.3 654.77L99.3 654.77L100.3 654.76L101.3 654.75L102.3 654.74L103.3 654.74L104.3 654.73L105.3 654.72L106.3 654.71L107.3 654.70L108.3 654.69L109.3 654.68L110.3 654.67L111.3 654.66L112.3 654.64L113.3 654.63L114.3 654.62L115.3 654.60L116.3 654.59L117.3 654.57L118.3 654.55L119.3 654.53L120.3 654.51L121.3 654.49L122.3 654.47L123.3 654.45L124.3 654.43L125.3 654.40L126.3 654.37L127.3 654.35L128.3 654.32L129.3 654.28L130.3 654.25L131.3 654.21L132.3 654.18L133.3 654.14L134.3 654.09L135.3 654.05L136.3 654.00L137.3 653.95L138.3 653.89L139.3 653.83L140.3 653.77L141.3 653.70L142.3 653.63L143.3 653.56L144.3 653.48L145.3 653.39L146.3 653.30L147.3 653.20L148.3 653.09L149.3 652.98L150.3 652.86L151.3 652.73L152.3 652.59L153.3 652.44L154.3 652.29L155.3 652.12L156.3 651.93L157.3 651.74L158.3 651.53L159.3 651.30L160.3 651.05L161.3 650.79L162.3 650.50L163.3 650.19L164.3 649.86L165.3 649.49L166.3 649.09L167.3 648.64L168.3 648.16L169.3 647.62L170.3 647.03L171.3 646.36L172.3 645.62L173.3 644.79L174.3 643.85L175.3 642.79L176.3 641.59L177.3 640.24L178.3 638.69L179.3 636.94L180.3 634.96L181.3 632.71L182.3 630.18L183.3 627.36L184.3 624.26L185.3 620.93L186.3 617.45L187.3 613.99L188.3 610.74L189.3 607.99L190.3 606.03L191.3 605.08L192.3 605.28L193.3 606.59L194.3 608.85L195.3 611.80L196.3 615.15L197.3 618.64L198.3 622.08L199.3 625.34L200.3 628.35L201.3 631.07L202.3 633.50L203.3 635.65L204.3 637.56L205.3 639.23L206.3 640.71L207.3 642.01L208.3 643.16L209.3 644.17L210.3 645.07L211.3 645.87L212.3 646.58L213.3 647.22L214.3 647.80L215.3 648.32L216.3 648.79L217.3 649.21L218.3 649.60L219.3 649.96L220.3 650.29L221.3 650.59L222.3 650.86L223.3 651.12L224.3 651.36L225.3 651.58L226.3 651.78L227.3 651.97L228.3 652.15L229.3 652.32L230.3 652.47L231.3 652.62L232.3 652.75L233.3 652.88L234.3 652.99L235.3 653.10L236.3 653.20L237.3 653.30L238.3 653.39L239.3 653.47L240.3 653.55L241.3 653.63L242.3 653.70L243.3 653.76L244.3 653.82L245.3 653.88L246.3 653.93L247.3 653.98L248.3 654.03L249.3 654.07L250.3 654.12L251.3 654.16L252.3 654.19L253.3 654.23L254.3 654.26L255.3 654.29L256.3 654.32L257.3 654.35L258.3 654.38L259.3 654.40L260.3 654.42L261.3 654.44L262.3 654.47L263.3 654.49L264.3 654.50L265.3 654.52L266.3 654.54L267.3 654.55L268.3 654.57L269.3 654.58L270.3 654.60L271.3 654.61L272.3 654.62L273.3 654.63L274.3 654.64L275.3 654.66L276.3 654.67L277.3 654.67L278.3 654.68L279.3 654.69L280.3 654.70L281.3 654.71L282.3 654.72L283.3 654.72L284.3 654.73L285.3 654.74L286.3 654.74L287.3 654.75L288.3 654.75L289.3 654.76L290.3 654.76L291.3 654.77L292.3 654.77L293.3 654.78L294.3 654.78L295.3 654.79L296.3 654.79L297.3 654.79L298.3 654.80L299.3 654.80L300.3 654.80L301.3 654.81L302.3 654.81L303.3 654.81L304.3 654.82L305.3 654.82L306.3 654.82L307.3 654.82L308.3 654.83L309.3 654.83L310.3 654.83L311.3 654.83L312.3 654.83L313.3 654.84L314.3 654.84L315.3 654.84L316.3 654.84L317.3 654.84L318.3 654.84L319.3 654.84L320.3 654.85L321.3 654.85L322.3 654.85L323.3 654.85L324.3 654.85L325.3 654.85L326.3 654.85L327.3 654.85L328.3 654.85L329.3 654.85L330.3 654.85L331.3 654.86L332.3 654.86L333.3 654.86L334.3 654.86L335.3 654.86L336.3 654.86L337.3 654.86L338.3 654.86L339.3 654.86L340.3 654.86L341.3 654.86L342.3 654.86L343.3 654.86L344.3 654.86L345.3 654.86L346.3 654.86L347.3 654.85L348.3 654.85L349.3 654.85L350.3 654.85L351.3 654.85L352.3 654.85L353.3 654.85L354.3 654.85L355.3 654.85L356.3 654.85L357.3 654.84L358.3 654.84L359.3 654.84L360.3 654.84L361.3 654.84L362.3 654.83L363.3 654.83L364.3 654.83L365.3 654.83L366.3 654.82L367.3 654.82L368.3 654.82L369.3 654.81L370.3 654.81L371.3 654.80L372.3 654.80L373.3 654.79L374.3 654.79L375.3 654.78L376.3 654.77L377.3 654.76L378.3 654.76L379.3 654.75L380.3 654.74L381.3 654.72L382.3 654.71L383.3 654.70L384.3 654.68L385.3 654.66L386.3 654.64L387.3 654.62L388.3 654.59L389.3 654.56L390.3 654.53L391.3 654.49L392.3 654.45L393.3 654.40L394.3 654.34L395.3 654.28L396.3 654.20L397.3 654.11L398.3 654.01L399.3 653.88L400.3 653.74L401.3 653.57L402.3 653.36L403.3 653.12L404.3 652.84L405.3 652.50L406.3 652.11L407.3 651.65L408.3 651.11L409.3 650.50L410.3 649.80L411.3 649.03L412.3 648.21L413.3 647.41L414.3 646.72L415.3 646.24L416.3 646.09L417.3 646.29L418.3 646.79L419.3 647.50L420.3 648.31L421.3 649.11L422.3 649.87L423.3 650.55L424.3 651.15L425.3 651.67L426.3 652.12L427.3 652.50L428.3 652.82L429.3 653.09L430.3 653.32L431.3 653.51L432.3 653.67L433.3 653.81L434.3 653.93L435.3 654.03L436.3 654.11L437.3 654.19L438.3 654.25L439.3 654.30L440.3 654.35L441.3 654.39L442.3 654.42L443.3 654.45L444.3 654.48L445.3 654.50L446.3 654.52L447.3 654.54L448.3 654.55L449.3 654.56L450.3 654.57L451.3 654.58L452.3 654.59L453.3 654.60L454.3 654.60L455.3 654.61L456.3 654.61L457.3 654.62L458.3 654.62L459.3 654.62L460.3 654.62L461.3 654.62L462.3 654.62L463.3 654.62L464.3 654.62L465.3 654.61L466.3 654.61L467.3 654.61L468.3 654.60L469.3 654.60L470.3 654.59L471.3 654.59L472.3 654.58L473.3 654.57L474.3 654.56L475.3 654.55L476.3 654.55L477.3 654.54L478.3 654.53L479.3 654.51L480.3 654.50L481.3 654.49L482.3 654.48L483.3 654.46L484.3 654.45L485.3 654.43L486.3 654.41L487.3 654.39L488.3 654.37L489.3 654.35L490.3 654.33L491.3 654.31L492.3 654.28L493.3 654.26L494.3 654.23L495.3 654.20L496.3 654.17L497.3 654.13L498.3 654.10L499.3 654.06L500.3 654.02L501.3 653.98L502.3 653.94L503.3 653.89L504.3 653.84L505.3 653.79L506.3 653.73L507.3 653.67L508.3 653.61L509.3 653.54L510.3 653.47L511.3 653.39L512.3 653.32L513.3 653.23L514.3 653.14L515.3 653.05L516.3 652.95L517.3 652.84L518.3 652.73L519.3 652.61L520.3 652.49L521.3 652.35L522.3 652.21L523.3 652.07L524.3 651.91L525.3 651.75L526.3 651.58L527.3 651.39L528.3 651.20L529.3 651.00L530.3 650.80L531.3 650.58L532.3 650.35L533.3 650.11L534.3 649.86L535.3 649.60L536.3 649.34L537.3 649.07L538.3 648.79L539.3 648.50L540.3 648.21L541.3 647.92L542.3 647.64L543.3 647.36L544.3 647.08L545.3 646.83L546.3 646.59L547.3 646.37L548.3 646.18L549.3 646.02L550.3 645.90L551.3 645.81L552.3 645.77L553.3 645.77L554.3 645.81L555.3 645.89L556.3 646.01L557.3 646.16L558.3 646.35L559.3 646.56L560.3 646.79L561.3 647.04L562.3 647.30L563.3 647.57L564.3 647.84L565.3 648.12L566.3 648.39L567.3 648.66L568.3 648.92L569.3 649.17L570.3 649.42L571.3 649.66L572.3 649.88L573.3 650.10L574.3 650.30L575.3 650.49L576.3 650.67L577.3 650.84L578.3 651.00L579.3 651.15L580.3 651.28L581.3 651.41L582.3 651.52L583.3 651.63L584.3 651.72L585.3 651.80L586.3 651.87L587.3 651.92L588.3 651.97L589.3 652.00L590.3 652.02L591.3 652.02L592.3 652.01L593.3 651.98L594.3 651.93L595.3 651.86L596.3 651.77L597.3 651.64L598.3 651.48L599.3 651.29L600.3 651.05L601.3 650.76L602.3 650.42L603.3 650.03L604.3 649.59L605.3 649.12L606.3 648.67L607.3 648.28L608.3 648.01L609.3 647.89L610.3 647.93L611.3 648.09L612.3 648.30L613.3 648.50L614.3 648.66L615.3 648.75L616.3 648.76L617.3 648.71L618.3 648.58L619.3 648.40L620.3 648.18L621.3 647.92L622.3 647.66L623.3 647.41L624.3 647.20L625.3 647.04L626.3 646.96L627.3 646.95L628.3 647.02L629.3 647.15L630.3 647.31L631.3 647.48L632.3 647.63L633.3 647.72L634.3 647.73L635.3 647.62L636.3 647.36L637.3 646.92L638.3 646.27L639.3 645.41L640.3 644.43L641.3 643.51L642.3 642.96L643.3 643.06L644.3 643.85L645.3 645.08L646.3 646.44L647.3 647.71L648.3 648.81L649.3 649.73L650.3 650.48L651.3 651.10L652.3 651.61L653.3 652.04L654.3 652.40L655.3 652.70L656.3 652.95L657.3 653.17L658.3 653.35L659.3 653.51L660.3 653.65L661.3 653.77L662.3 653.88L663.3 653.97L664.3 654.05L665.3 654.12L666.3 654.19L667.3 654.25L668.3 654.30L669.3 654.34L670.3 654.39L671.3 654.42L672.3 654.46L673.3 654.49L674.3 654.52L675.3 654.54L676.3 654.57L677.3 654.59L678.3 654.61L679.3 654.63L680.3 654.65L681.3 654.66L682.3 654.68L683.3 654.69L684.3 654.71" stroke="#0000ff"/>
<path d="M48.3 970.86L49.3 970.84L50.3 970.83L51.3 970.80L52.3 970.77L53.3 970.73L54.3 970.68L55.3 970.62L56.3 970.54L57.3 970.45L58.3 970.32L59.3 970.17L60.3 969.99L61.3 969.77L62.3 969.51L63.3 969.21L64.3 968.87L65.3 968.49L66.3 968.07L67.3 967.62L68.3 967.13L69.3 966.63L70.3 966.12L71.3 965.59L72.3 965.08L73.3 964.57L74.3 964.09L75.3 963.64L76.3 963.24L77.3 962.90L78.3 962.62L79.3 962.43L80.3 962.31L81.3 962.29L82.3 962.36L83.3 962.52L84.3 962.76L85.3 963.07L86.3 963.44L87.3 963.86L88.3 964.32L89.3 964.80L90.3 965.31L91.3 965.82L92.3 966.32L93.3 966.82L94.3 967.30L95.3 967.75L96.3 968.18L97.3 968.56L98.3 968.91L99.3 969.22L100.3 969.49L101.3 969.73L102.3 969.92L103.3 970.09L104.3 970.22L105.3 970.33L106.3 970.42L107.3 970.49L108.3 970.54L109.3 970.58L110.3 970.61L111.3 970.63L112.3 970.64L113.3 970.64L114.3 970.64L115.3 970.62L116.3 970.60L117.3 970.57L118.3 970.53L119.3 970.47L120.3 970.39L121.3 970.30L122.3 970.18L123.3 970.02L124.3 969.84L125.3 969.60L126.3 969.33L127.3 969.00L128.3 968.62L129.3 968.19L130.3 967.71L131.3 967.19L132.3 966.65L133.3 966.08L134.3 965.52L135.3 964.98L136.3 964.48L137.3 964.05L138.3 963.71L139.3 963.50L140.3 963.41L141.3 963.46L142.3 963.62L143.3 963.89L144.3 964.22L145.3 964.59L146.3 964.95L147.3 965.28L148.3 965.55L149.3 965.73L150.3 965.82L151.3 965.79L152.3 965.64L153.3 965.39L154.3 965.04L155.3 964.64L156.3 964.21L157.3 963.83L158.3 963.56L159.3 963.47L160.3 963.58L161.3 963.89L162.3 964.36L163.3 964.94L164.3 965.56L165.3 966.18L166.3 966.76L167.3 967.27L168.3 967.71L169.3 968.06L170.3 968.33L171.3 968.52L172.3 968.64L173.3 968.71L174.3 968.72L175.3 968.69L176.3 968.62L177.3 968.52L178.3 968.39L179.3 968.23L180.3 968.04L181.3 967.83L182.3 967.58L183.3 967.30L184.3 966.98L185.3 966.61L186.3 966.18L187.3 965.67L188.3 965.07L189.3 964.34L190.3 963.46L191.3 962.38L192.3 961.05L193.3 959.43L194.3 957.46L195.3 955.10L196.3 952.33L197.3 949.14L198.3 945.61L199.3 941.91L200.3 938.33L201.3 935.32L202.3 933.39L203.3 932.96L204.3 934.09L205.3 936.47L206.3 939.59L207.3 942.97L208.3 946.27L209.3 949.26L210.3 951.86L211.3 954.03L212.3 955.80L213.3 957.19L214.3 958.25L215.3 959.03L216.3 959.57L217.3 959.93L218.3 960.12L219.3 960.17L220.3 960.11L221.3 959.94L222.3 959.66L223.3 959.28L224.3 958.80L225.3 958.21L226.3 957.51L227.3 956.70L228.3 955.78L229.3 954.76L230.3 953.65L231.3 952.45L232.3 951.18L233.3 949.86L234.3 948.53L235.3 947.23L236.3 946.00L237.3 944.90L238.3 943.99L239.3 943.33L240.3 942.97L241.3 942.95L242.3 943.28L243.3 943.93L244.3 944.88L245.3 946.06L246.3 947.41L247.3 948.87L248.3 950.39L249.3 951.91L250.3 953.41L251.3 954.84L252.3 956.18L253.3 957.42L254.3 958.56L255.3 959.57L256.3 960.46L257.3 961.23L258.3 961.89L259.3 962.42L260.3 962.85L261.3 963.18L262.3 963.41L263.3 963.56L264.3 963.63L265.3 963.63L266.3 963.57L267.3 963.46L268.3 963.31L269.3 963.11L270.3 962.89L271.3 962.65L272.3 962.39L273.3 962.11L274.3 961.84L275.3 961.56L276.3 961.28L277.3 961.02L278.3 960.77L279.3 960.55L280.3 960.35L281.3 960.18L282.3 960.04L283.3 959.95L284.3 959.90L285.3 959.89L286.3 959.94L287.3 960.02L288.3 960.16L289.3 960.34L290.3 960.56L291.3 960.82L292.3 961.12L293.3 961.44L294.3 961.80L295.3 962.17L296.3 962.57L297.3 962.98L298.3 963.40L299.3 963.82L300.3 964.25L301.3 964.68L302.3 965.11L303.3 965.53L304.3 965.94L305.3 966.35L306.3 966.74L307.3 967.12L308.3 967.48L309.3 967.82L310.3 968.15L311.3 968.45L312.3 968.73L313.3 968.99L314.3 969.23L315.3 969.44L316.3 969.64L317.3 969.81L318.3 969.96L319.3 970.09L320.3 970.20L321.3 970.29L322.3 970.36L323.3 970.41L324.3 970.44L325.3 970.46L326.3 970.45L327.3 970.42L328.3 970.36L329.3 970.27L330.3 970.15L331.3 970.00L332.3 969.81L333.3 969.57L334.3 969.29L335.3 968.96L336.3 968.58L337.3 968.14L338.3 967.66L339.3 967.13L340.3 966.56L341.3 965.96L342.3 965.33L343.3 964.68L344.3 964.02L345.3 963.37L346.3 962.72L347.3 962.11L348.3 961.55L349.3 961.04L350.3 960.63L351.3 960.31L352.3 960.12L353.3 960.05L354.3 960.11L355.3 960.31L356.3 960.63L357.3 961.05L358.3 961.57L359.3 962.15L360.3 962.78L361.3 963.45L362.3 964.13L363.3 964.82L364.3 965.51L365.3 966.18L366.3 966.82L367.3 967.44L368.3 968.01L369.3 968.54L370.3 969.03L371.3 969.46L372.3 969.84L373.3 970.17L374.3 970.45L375.3 970.69L376.3 970.89L377.3 971.06L378.3 971.19L379.3 971.31L380.3 971.40L381.3 971.48L382.3 971.54L383.3 971.59L384.3 971.63L385.3 971.67L386.3 971.70L387.3 971.73L388.3 971.75L389.3 971.78L390.3 971.79L391.3 971.81L392.3 971.83L393.3 971.84L394.3 971.85L395.3 971.87L396.3 971.88L397.3 971.89L398.3 971.90L399.3 971.91L400.3 971.92L401.3 971.92L402.3 971.93L403.3 971.94L404.3 971.95L405.3 971.95L406.3 971.96L407.3 971.97L408.3 971.97L409.3 971.98L410.3 971.98L411.3 971.99L412.3 972.00L413.3 972.00L414.3 972.01L415.3 972.01L416.3 972.01L417.3 972.02L418.3 972.02L419.3 972.03L420.3 972.03L421.3 972.03L422.3 972.04L423.3 972.04L424.3 972.05L425.3 972.05L426.3 972.05L427.3 972.05L428.3 972.06L429.3 972.06L430.3 972.06L431.3 972.06L432.3 972.07L433.3 972.07L434.3 972.07L435.3 972.07L436.3 972.07L437.3 972.07L438.3 972.08L439.3 972.08L440.3 972.08L441.3 972.08L442.3 972.08L443.3 972.07L444.3 972.07L445.3 972.07L446.3 972.07L447.3 972.06L448.3 972.06L449.3 972.06L450.3 972.05L451.3 972.04L452.3 972.03L453.3 972.02L454.3 972.00L455.3 971.98L456.3 971.95L457.3 971.92L458.3 971.87L459.3 971.81L460.3 971.73L461.3 971.62L462.3 971.48L463.3 971.29L464.3 971.06L465.3 970.77L466.3 970.41L467.3 969.99L468.3 969.51L469.3 968.97L470.3 968.39L471.3 967.77L472.3 967.15L473.3 966.53L474.3 965.95L475.3 965.43L476.3 964.98L477.3 964.62L478.3 964.36L479.3 964.17L480.3 964.03L481.3 963.93L482.3 963.82L483.3 963.70L484.3 963.54L485.3 963.35L486.3 963.14L487.3 962.92L488.3 962.71L489.3 962.55L490.3 962.48L491.3 962.52L492.3 962.69L493.3 963.01L494.3 963.45L495.3 964.01L496.3 964.65L497.3 965.34L498.3 966.06L499.3 966.78L500.3 967.49L501.3 968.16L502.3 968.79L503.3 969.37L504.3 969.89L505.3 970.33L506.3 970.72L507.3 971.04L508.3 971.30L509.3 971.50L510.3 971.67L511.3 971.80L512.3 971.91L513.3 971.99L514.3 972.05L515.3 972.11L516.3 972.15L517.3 972.18L518.3 972.21L519.3 972.24L520.3 972.26L521.3 972.27L522.3 972.29L523.3 972.31L524.3 972.32L525.3 972.33L526.3 972.34L527.3 972.35L528.3 972.36L529.3 972.37L530.3 972.38L531.3 972.38L532.3 972.39L533.3 972.40L534.3 972.40L535.3 972.41L536.3 972.42L537.3 972.42L538.3 972.43L539.3 972.43L540.3 972.44L541.3 972.44L542.3 972.45L543.3 972.45L544.3 972.46L545.3 972.46L546.3 972.47L547.3 972.47L548.3 972.47L549.3 972.48L550.3 972.48L551.3 972.49L552.3 972.49L553.3 972.49L554.3 972.50L555.3 972.50L556.3 972.50L557.3 972.51L558.3 972.51L559.3 972.52L560.3 972.52L561.3 972.52L562.3 972.53L563.3 972.53L564.3 972.53L565.3 972.54L566.3 972.54L567.3 972.54L568.3 972.55L569.3 972.55L570.3 972.55L571.3 972.56L572.3 972.56L573.3 972.56L574.3 972.57L575.3 972.57L576.3 972.57L577.3 972.58L578.3 972.58L579.3 972.58L580.3 972.59L581.3 972.59L582.3 972.59L583.3 972.59L584.3 972.60L585.3 972.60L586.3 972.60L587.3 972.61L588.3 972.61L589.3 972.61L590.3 972.62L591.3 972.62L592.3 972.62L593.3 972.63L594.3 972.63L595.3 972.63L596.3 972.64L597.3 972.64L598.3 972.64L599.3 972.64L600.3 972.65L601.3 972.65L602.3 972.65L603.3 972.66L604.3 972.66L605.3 972.66L606.3 972.67L607.3 972.67L608.3 972.67L609.3 972.68L610.3 972.68L611.3 972.68L612.3 972.68L613.3 972.69L614.3 972.69L615.3 972.69L616.3 972.70L617.3 972.70L618.3 972.70L619.3 972.71L620.3 972.71L621.3 972.71L622.3 972.72L623.3 972.72L624.3 972.72L625.3 972.72L626.3 972.73L627.3 972.73L628.3 972.73L629.3 972.74L630.3 972.74L631.3 972.74L632.3 972.75L633.3 972.75L634.3 972.75L635.3 972.75L636.3 972.76L637.3 972.76L638.3 972.76L639.3 972.77L640.3 972.77L641.3 972.77L642.3 972.78L643.3 972.78L644.3 972.78L645.3 972.78L646.3 972.79L647.3 972.79L648.3 972.79L649.3 972.80L650.3 972.80L651.3 972.80L652.3 972.81L653.3 972.81L654.3 972.81L655.3 972.82L656.3 972.82L657.3 972.82L658.3 972.82L659.3 972.83L660.3 972.83L661.3 972.83L662.3 972.84L663.3 972.84L664.3 972.84L665.3 972.85L666.3 972.85L667.3 972.85L668.3 972.85L669.3 972.86L670.3 972.86L671.3 972.86L672.3 972.87L673.3 972.87L674.3 972.87L675.3 972.88L676.3 972.88L677.3 972.88L678.3 972.88L679.3 972.89L680.3 972.89L681.3 972.89L682.3 972.90L683.3 972.90L684.3 972.90" stroke="#808080"/>
<path d="M48.3 970.14L49.3 970.10L50.3 970.06L51.3 970.02L52.3 969.97L53.3 969.91L54.3 969.84L55.3 969.75L56.3 969.65L57.3 969.53L58.3 969.39L59.3 969.21L60.3 969.00L61.3 968.76L62.3 968.47L63.3 968.15L64.3 967.78L65.3 967.37L66.3 966.92L67.3 966.43L68.3 965.92L69.3 965.39L70.3 964.84L71.3 964.28L72.3 963.73L73.3 963.19L74.3 962.67L75.3 962.19L76.3 961.75L77.3 961.36L78.3 961.05L79.3 960.81L80.3 960.65L81.3 960.59L82.3 960.61L83.3 960.72L84.3 960.91L85.3 961.17L86.3 961.49L87.3 961.85L88.3 962.26L89.3 962.69L90.3 963.13L91.3 963.58L92.3 964.03L93.3 964.46L94.3 964.87L95.3 965.26L96.3 965.61L97.3 965.92L98.3 966.20L99.3 966.43L100.3 966.62L101.3 966.77L102.3 966.88L103.3 966.96L104.3 967.00L105.3 967.01L106.3 967.00L107.3 966.97L108.3 966.92L109.3 966.85L110.3 966.77L111.3 966.68L112.3 966.57L113.3 966.44L114.3 966.31L115.3 966.16L116.3 966.00L117.3 965.83L118.3 965.64L119.3 965.43L120.3 965.19L121.3 964.93L122.3 964.64L123.3 964.31L124.3 963.94L125.3 963.51L126.3 963.04L127.3 962.50L128.3 961.91L129.3 961.25L130.3 960.54L131.3 959.78L132.3 958.98L133.3 958.15L134.3 957.31L135.3 956.48L136.3 955.68L137.3 954.93L138.3 954.27L139.3 953.70L140.3 953.25L141.3 952.91L142.3 952.67L143.3 952.51L144.3 952.39L145.3 952.28L146.3 952.14L147.3 951.93L148.3 951.64L149.3 951.22L150.3 950.66L151.3 949.95L152.3 949.07L153.3 948.03L154.3 946.85L155.3 945.54L156.3 944.15L157.3 942.73L158.3 941.34L159.3 940.03L160.3 938.82L161.3 937.70L162.3 936.61L163.3 935.48L164.3 934.23L165.3 932.79L166.3 931.09L167.3 929.10L168.3 926.74L169.3 923.99L170.3 920.79L171.3 917.10L172.3 912.88L173.3 908.07L174.3 902.62L175.3 896.46L176.3 889.52L177.3 881.72L178.3 873.00L179.3 863.27L180.3 852.44L181.3 840.46L182.3 827.25L183.3 812.80L184.3 797.14L185.3 780.36L186.3 762.68L187.3 744.46L188.3 726.23L189.3 708.74L190.3 692.91L191.3 679.74L192.3 670.19L193.3 664.99L194.3 664.45L195.3 668.42L196.3 676.28L197.3 687.13L198.3 699.98L199.3 713.96L200.3 728.51L201.3 743.39L202.3 758.64L203.3 774.34L204.3 790.36L205.3 806.29L206.3 821.55L207.3 835.60L208.3 848.05L209.3 858.86L210.3 868.85L211.3 878.85L212.3 888.13L213.3 896.04L214.3 902.63L215.3 908.15L216.3 912.79L217.3 916.72L218.3 920.07L219.3 922.92L220.3 925.35L221.3 927.40L222.3 929.13L223.3 930.56L224.3 931.72L225.3 932.63L226.3 933.30L227.3 933.75L228.3 934.00L229.3 934.05L230.3 933.92L231.3 933.63L232.3 933.22L233.3 932.70L234.3 932.11L235.3 931.50L236.3 930.91L237.3 930.42L238.3 930.08L239.3 929.96L240.3 930.11L241.3 930.56L242.3 931.34L243.3 932.42L244.3 933.77L245.3 935.33L246.3 937.05L247.3 938.85L248.3 940.70L249.3 942.53L250.3 944.32L251.3 946.03L252.3 947.65L253.3 949.15L254.3 950.53L255.3 951.78L256.3 952.90L257.3 953.89L258.3 954.75L259.3 955.49L260.3 956.11L261.3 956.62L262.3 957.03L263.3 957.35L264.3 957.58L265.3 957.74L266.3 957.83L267.3 957.86L268.3 957.84L269.3 957.79L270.3 957.69L271.3 957.57L272.3 957.43L273.3 957.27L274.3 957.10L275.3 956.93L276.3 956.76L277.3 956.60L278.3 956.44L279.3 956.31L280.3 956.20L281.3 956.11L282.3 956.06L283.3 956.05L284.3 956.07L285.3 956.14L286.3 956.25L287.3 956.41L288.3 956.61L289.3 956.85L290.3 957.13L291.3 957.45L292.3 957.81L293.3 958.19L294.3 958.59L295.3 959.02L296.3 959.46L297.3 959.92L298.3 960.38L299.3 960.85L300.3 961.32L301.3 961.79L302.3 962.25L303.3 962.71L304.3 963.16L305.3 963.60L306.3 964.02L307.3 964.43L308.3 964.82L309.3 965.20L310.3 965.55L311.3 965.88L312.3 966.18L313.3 966.47L314.3 966.73L315.3 966.97L316.3 967.18L317.3 967.37L318.3 967.54L319.3 967.69L320.3 967.81L321.3 967.92L322.3 968.00L323.3 968.07L324.3 968.12L325.3 968.14L326.3 968.14L327.3 968.12L328.3 968.07L329.3 968.00L330.3 967.89L331.3 967.74L332.3 967.55L333.3 967.32L334.3 967.05L335.3 966.72L336.3 966.34L337.3 965.91L338.3 965.42L339.3 964.90L340.3 964.33L341.3 963.72L342.3 963.09L343.3 962.44L344.3 961.78L345.3 961.11L346.3 960.46L347.3 959.84L348.3 959.27L349.3 958.76L350.3 958.33L351.3 958.00L352.3 957.79L353.3 957.71L354.3 957.76L355.3 957.94L356.3 958.24L357.3 958.64L358.3 959.13L359.3 959.69L360.3 960.30L361.3 960.94L362.3 961.59L363.3 962.25L364.3 962.90L365.3 963.53L366.3 964.14L367.3 964.71L368.3 965.24L369.3 965.72L370.3 966.14L371.3 966.52L372.3 966.84L373.3 967.10L374.3 967.31L375.3 967.47L376.3 967.58L377.3 967.65L378.3 967.69L379.3 967.69L380.3 967.66L381.3 967.61L382.3 967.52L383.3 967.41L384.3 967.28L385.3 967.11L386.3 966.92L387.3 966.69L388.3 966.42L389.3 966.11L390.3 965.74L391.3 965.31L392.3 964.82L393.3 964.25L394.3 963.58L395.3 962.82L396.3 961.94L397.3 960.94L398.3 959.80L399.3 958.51L400.3 957.05L401.3 955.43L402.3 953.63L403.3 951.65L404.3 949.50L405.3 947.20L406.3 944.77L407.3 942.25L408.3 939.70L409.3 937.19L410.3 934.82L411.3 932.68L412.3 930.92L413.3 929.64L414.3 928.94L415.3 928.88L416.3 929.46L417.3 930.64L418.3 932.32L419.3 934.39L420.3 936.72L421.3 939.20L422.3 941.74L423.3 944.25L424.3 946.68L425.3 948.99L426.3 951.15L427.3 953.14L428.3 954.95L429.3 956.59L430.3 958.05L431.3 959.35L432.3 960.50L433.3 961.50L434.3 962.38L435.3 963.14L436.3 963.80L437.3 964.36L438.3 964.85L439.3 965.26L440.3 965.62L441.3 965.92L442.3 966.18L443.3 966.40L444.3 966.59L445.3 966.75L446.3 966.89L447.3 967.01L448.3 967.11L449.3 967.19L450.3 967.26L451.3 967.32L452.3 967.36L453.3 967.39L454.3 967.41L455.3 967.41L456.3 967.40L457.3 967.38L458.3 967.33L459.3 967.26L460.3 967.16L461.3 967.03L462.3 966.86L463.3 966.64L464.3 966.36L465.3 966.01L466.3 965.59L467.3 965.10L468.3 964.53L469.3 963.90L470.3 963.21L471.3 962.47L472.3 961.72L473.3 960.95L474.3 960.20L475.3 959.49L476.3 958.84L477.3 958.25L478.3 957.73L479.3 957.26L480.3 956.81L481.3 956.36L482.3 955.87L483.3 955.32L484.3 954.70L485.3 954.00L486.3 953.22L487.3 952.38L488.3 951.50L489.3 950.61L490.3 949.74L491.3 948.91L492.3 948.16L493.3 947.48L494.3 946.87L495.3 946.33L496.3 945.85L497.3 945.43L498.3 945.07L499.3 944.78L500.3 944.58L501.3 944.46L502.3 944.41L503.3 944.40L504.3 944.42L505.3 944.45L506.3 944.48L507.3 944.52L508.3 944.57L509.3 944.64L510.3 944.73L511.3 944.84L512.3 944.96L513.3 945.09L514.3 945.20L515.3 945.26L516.3 945.26L517.3 945.16L518.3 944.95L519.3 944.59L520.3 944.05L521.3 943.33L522.3 942.38L523.3 941.21L524.3 939.78L525.3 938.10L526.3 936.15L527.3 933.94L528.3 931.48L529.3 928.77L530.3 925.85L531.3 922.74L532.3 919.50L533.3 916.20L534.3 912.92L535.3 909.76L536.3 906.83L537.3 904.25L538.3 902.11L539.3 900.50L540.3 899.45L541.3 898.93L542.3 898.88L543.3 899.19L544.3 899.75L545.3 900.44L546.3 901.14L547.3 901.80L548.3 902.36L549.3 902.83L550.3 903.28L551.3 903.77L552.3 904.42L553.3 905.34L554.3 906.63L555.3 908.31L556.3 910.36L557.3 912.69L558.3 915.17L559.3 917.69L560.3 920.13L561.3 922.42L562.3 924.48L563.3 926.30L564.3 927.87L565.3 929.20L566.3 930.32L567.3 931.27L568.3 932.09L569.3 932.83L570.3 933.55L571.3 934.30L572.3 935.11L573.3 936.02L574.3 937.02L575.3 938.14L576.3 939.34L577.3 940.63L578.3 941.97L579.3 943.34L580.3 944.72L581.3 946.08L582.3 947.40L583.3 948.68L584.3 949.89L585.3 951.02L586.3 952.06L587.3 953.01L588.3 953.85L589.3 954.57L590.3 955.16L591.3 955.60L592.3 955.88L593.3 955.98L594.3 955.88L595.3 955.55L596.3 954.96L597.3 954.11L598.3 952.96L599.3 951.52L600.3 949.78L601.3 947.76L602.3 945.49L603.3 943.06L604.3 940.57L605.3 938.17L606.3 936.08L607.3 934.52L608.3 933.66L609.3 933.60L610.3 934.25L611.3 935.43L612.3 936.89L613.3 938.36L614.3 939.64L615.3 940.57L616.3 941.05L617.3 941.03L618.3 940.50L619.3 939.50L620.3 938.13L621.3 936.56L622.3 934.98L623.3 933.69L624.3 932.92L625.3 932.85L626.3 933.48L627.3 934.64L628.3 936.07L629.3 937.52L630.3 938.75L631.3 939.60L632.3 939.97L633.3 939.81L634.3 939.10L635.3 937.85L636.3 936.13L637.3 934.03L638.3 931.68L639.3 929.26L640.3 927.00L641.3 925.13L642.3 923.92L643.3 923.58L644.3 924.18L645.3 925.73L646.3 928.06L647.3 930.97L648.3 934.24L649.3 937.65L650.3 941.06L651.3 944.34L652.3 947.41L653.3 950.23L654.3 952.77L655.3 955.02L656.3 957.00L657.3 958.71L658.3 960.18L659.3 961.45L660.3 962.52L661.3 963.44L662.3 964.21L663.3 964.87L664.3 965.44L665.3 965.92L666.3 966.34L667.3 966.71L668.3 967.03L669.3 967.31L670.3 967.56L671.3 967.79L672.3 967.99L673.3 968.18L674.3 968.35L675.3 968.51L676.3 968.65L677.3 968.78L678.3 968.91L679.3 969.02L680.3 969.13L681.3 969.22L682.3 969.31L683.3 969.40L684.3 969.48" stroke="#404040" stroke-width="1.5"/>
<path d="M48.3 969.98L48.8 970.41L49.3 970.80L49.8 970.80L50.3 970.80L50.8 970.80L51.3 970.59L51.8 970.47L52.3 970.35L52.8 970.23L53.3 970.14L53.8 970.06L54.3 969.97L54.8 970.03L55.3 970.08L55.8 970.13L56.3 969.99L56.8 969.84L57.3 969.69L57.8 969.68L58.3 969.65L58.8 969.62L59.3 969.73L59.8 969.84L60.3 969.94L60.8 969.42L61.3 968.88L61.8 968.34L62.3 968.03L62.8 967.72L63.3 967.40L63.8 967.04L64.3 966.68L64.8 966.30L65.3 966.39L65.8 966.46L66.3 966.52L66.8 966.50L67.3 966.47L67.8 966.43L68.3 966.23L68.8 966.03L69.3 965.82L69.8 965.77L70.3 965.72L70.8 965.66L71.3 964.92L71.8 964.18L72.3 963.43L72.8 963.43L73.3 963.42L73.8 963.42L74.3 963.33L74.8 963.25L75.3 963.18L75.8 962.75L76.3 962.34L76.8 961.93L77.3 961.32L77.8 960.72L78.3 960.15L78.8 960.16L79.3 960.20L79.8 960.25L80.3 960.54L80.8 960.86L81.3 961.19L81.8 961.21L82.3 961.26L82.8 961.33L83.3 961.09L83.8 960.86L84.3 960.66L84.8 960.86L85.3 961.07L85.8 961.29L86.3 961.64L86.8 962.01L87.3 962.38L87.8 962.51L88.3 962.64L88.8 962.78L89.3 962.75L89.8 962.73L90.3 962.71L90.8 962.60L91.3 962.50L91.8 962.39L92.3 963.21L92.8 964.02L93.3 964.83L93.8 965.14L94.3 965.44L94.8 965.73L95.3 965.92L95.8 966.09L96.3 966.26L96.8 966.78L97.3 967.28L97.8 967.78L98.3 967.71L98.8 967.63L99.3 967.54L99.8 967.55L100.3 967.56L100.8 967.55L101.3 967.17L101.8 966.78L102.3 966.38L102.8 966.54L103.3 966.69L103.8 966.83L104.3 967.25L104.8 967.67L105.3 968.08L105.8 967.70L106.3 967.32L106.8 966.93L107.3 966.96L107.8 966.99L108.3 967.01L108.8 967.35L109.3 967.68L109.8 968.00L110.3 967.82L110.8 967.62L111.3 967.43L111.8 967.29L112.3 967.15L112.8 967.01L113.3 967.01L113.8 967.00L114.3 967.00L114.8 966.75L115.3 966.51L115.8 966.26L116.3 966.59L116.8 966.93L117.3 967.26L117.8 966.91L118.3 966.55L118.8 966.19L119.3 965.67L119.8 965.14L120.3 964.61L120.8 964.42L121.3 964.23L121.8 964.03L122.3 963.84L122.8 963.64L123.3 963.43L123.8 963.22L124.3 963.01L124.8 962.79L125.3 962.49L125.8 962.18L126.3 961.85L126.8 962.12L127.3 962.37L127.8 962.61L128.3 962.07L128.8 961.52L129.3 960.95L129.8 961.04L130.3 961.11L130.8 961.18L131.3 960.71L131.8 960.24L132.3 959.76L132.8 959.54L133.3 959.32L133.8 959.09L134.3 958.13L134.8 957.17L135.3 956.22L135.8 955.55L136.3 954.88L136.8 954.23L137.3 954.17L137.8 954.13L138.3 954.11L138.8 953.50L139.3 952.92L139.8 952.37L140.3 952.54L140.8 952.74L141.3 952.97L141.8 952.83L142.3 952.72L142.8 952.63L143.3 952.50L143.8 952.38L144.3 952.27L144.8 952.47L145.3 952.67L145.8 952.86L146.3 952.56L146.8 952.23L147.3 951.89L147.8 951.32L148.3 950.74L148.8 950.12L149.3 950.42L149.8 950.68L150.3 950.91L150.8 950.37L151.3 949.79L151.8 949.18L152.3 948.81L152.8 948.39L153.3 947.94L153.8 947.04L154.3 946.09L154.8 945.12L155.3 944.59L155.8 944.04L156.3 943.47L156.8 942.81L157.3 942.15L157.8 941.50L158.3 940.80L158.8 940.13L159.3 939.48L159.8 938.94L160.3 938.44L160.8 937.96L161.3 937.78L161.8 937.62L162.3 937.45L162.8 936.42L163.3 935.37L163.8 934.29L164.3 934.03L164.8 933.73L165.3 933.37L165.8 932.41L166.3 931.38L166.8 930.28L167.3 929.05L167.8 927.72L168.3 926.30L168.8 925.26L169.3 924.11L169.8 922.86L170.3 921.09L170.8 919.21L171.3 917.19L171.8 914.87L172.3 912.40L172.8 909.78L173.3 907.48L173.8 905.02L174.3 902.39L174.8 899.67L175.3 896.76L175.8 893.66L176.3 890.58L176.8 887.29L177.3 883.78L177.8 879.27L178.3 874.52L178.8 869.51L179.3 864.29L179.8 858.80L180.3 853.03L180.8 847.14L181.3 840.96L181.8 834.47L182.3 827.80L182.8 820.82L183.3 813.53L183.8 805.59L184.3 797.36L184.8 788.85L185.3 780.44L185.8 771.80L186.3 762.97L186.8 753.87L187.3 744.68L187.8 735.50L188.3 726.23L188.8 717.14L189.3 708.34L189.8 700.42L190.3 693.04L190.8 686.33L191.3 680.13L191.8 674.84L192.3 670.57L192.8 666.83L193.3 664.24L193.8 662.83L194.3 663.25L194.8 664.80L195.3 667.41L195.8 671.46L196.3 676.38L196.8 682.04L197.3 687.67L197.8 693.80L198.3 700.31L198.8 706.98L199.3 713.85L199.8 720.85L200.3 727.99L200.8 735.20L201.3 742.49L201.8 750.24L202.3 758.10L202.8 766.08L203.3 774.20L203.8 782.42L204.3 790.67L204.8 798.77L205.3 806.78L205.8 814.63L206.3 821.86L206.8 828.79L207.3 835.35L207.8 841.76L208.3 847.74L208.8 853.30L209.3 858.72L209.8 863.94L210.3 869.12L210.8 874.13L211.3 879.10L211.8 883.88L212.3 888.39L212.8 892.55L213.3 896.35L213.8 899.57L214.3 902.49L214.8 905.14L215.3 908.00L215.8 910.64L216.3 913.08L216.8 914.98L217.3 916.72L217.8 918.31L218.3 919.75L218.8 921.07L219.3 922.28L219.8 923.59L220.3 924.81L220.8 925.93L221.3 927.22L221.8 928.43L222.3 929.57L222.8 929.95L223.3 930.26L223.8 930.50L224.3 931.33L224.8 932.09L225.3 932.79L225.8 933.06L226.3 933.27L226.8 933.44L227.3 933.81L227.8 934.13L228.3 934.39L228.8 934.74L229.3 935.03L229.8 935.28L230.3 934.85L230.8 934.38L231.3 933.87L231.8 933.52L232.3 933.15L232.8 932.74L233.3 932.55L233.8 932.33L234.3 932.10L234.8 931.75L235.3 931.39L235.8 931.05L236.3 930.93L236.8 930.84L237.3 930.78L237.8 930.68L238.3 930.61L238.8 930.61L239.3 930.46L239.8 930.38L240.3 930.38L240.8 930.09L241.3 929.87L241.8 929.74L242.3 930.25L242.8 930.84L243.3 931.50L243.8 932.51L244.3 933.57L244.8 934.69L245.3 935.36L245.8 936.07L246.3 936.81L246.8 937.85L247.3 938.90L247.8 939.97L248.3 940.96L248.8 941.95L249.3 942.93L249.8 943.55L250.3 944.16L250.8 944.75L251.3 945.79L251.8 946.82L252.3 947.81L252.8 948.92L253.3 950.00L253.8 951.05L254.3 951.64L254.8 952.20L255.3 952.72L255.8 953.03L256.3 953.31L256.8 953.56L257.3 953.96L257.8 954.32L258.3 954.66L258.8 954.80L259.3 954.92L259.8 955.00L260.3 955.64L260.8 956.24L261.3 956.82L261.8 956.87L262.3 956.89L262.8 956.89L263.3 957.00L263.8 957.09L264.3 957.16L264.8 957.39L265.3 957.61L265.8 957.80L266.3 957.67L266.8 957.53L267.3 957.37L267.8 957.37L268.3 957.36L268.8 957.34L269.3 957.62L269.8 957.89L270.3 958.15L270.8 957.78L271.3 957.40L271.8 957.02L272.3 957.29L272.8 957.57L273.3 957.83L273.8 957.64L274.3 957.45L274.8 957.25L275.3 957.09L275.8 956.92L276.3 956.76L276.8 956.59L277.3 956.42L277.8 956.26L278.3 956.40L278.8 956.54L279.3 956.69L279.8 956.57L280.3 956.45L280.8 956.34L281.3 956.28L281.8 956.22L282.3 956.17L282.8 955.93L283.3 955.69L283.8 955.46L284.3 955.78L284.8 956.11L285.3 956.45L285.8 956.44L286.3 956.45L286.8 956.46L287.3 956.56L287.8 956.66L288.3 956.77L288.8 957.14L289.3 957.51L289.8 957.89L290.3 957.26L290.8 956.65L291.3 956.04L291.8 956.51L292.3 956.99L292.8 957.48L293.3 958.17L293.8 958.87L294.3 959.57L294.8 959.27L295.3 958.97L295.8 958.67L296.3 959.22L296.8 959.76L297.3 960.31L297.8 960.42L298.3 960.52L298.8 960.62L299.3 960.65L299.8 960.68L300.3 960.71L300.8 961.23L301.3 961.75L301.8 962.27L302.3 962.56L302.8 962.85L303.3 963.14L303.8 963.38L304.3 963.61L304.8 963.84L305.3 963.97L305.8 964.11L306.3 964.24L306.8 964.73L307.3 965.23L307.8 965.71L308.3 965.93L308.8 966.14L309.3 966.35L309.8 966.27L310.3 966.18L310.8 966.09L311.3 965.92L311.8 965.75L312.3 965.57L312.8 965.72L313.3 965.86L313.8 966.00L314.3 965.92L314.8 965.84L315.3 965.75L315.8 966.00L316.3 966.25L316.8 966.49L317.3 966.91L317.8 967.33L318.3 967.74L318.8 967.82L319.3 967.89L319.8 967.96L320.3 968.40L320.8 968.83L321.3 969.26L321.8 969.22L322.3 969.16L322.8 969.11L323.3 969.08L323.8 969.04L324.3 969.00L324.8 968.74L325.3 968.48L325.8 968.21L326.3 968.04L326.8 967.86L327.3 967.68L327.8 967.89L328.3 968.09L328.8 968.28L329.3 968.33L329.8 968.37L330.3 968.41L330.8 968.54L331.3 968.67L331.8 968.79L332.3 968.46L332.8 968.12L333.3 967.76L333.8 967.45L334.3 967.12L334.8 966.79L335.3 966.55L335.8 966.30L336.3 966.03L336.8 966.07L337.3 966.09L337.8 966.11L338.3 965.36L338.8 964.60L339.3 963.83L339.8 963.52L340.3 963.20L340.8 962.88L341.3 962.90L341.8 962.92L342.3 962.93L342.8 962.79L343.3 962.65L343.8 962.50L344.3 962.15L344.8 961.81L345.3 961.47L345.8 961.03L346.3 960.59L346.8 960.16L347.3 959.86L347.8 959.57L348.3 959.29L348.8 958.93L349.3 958.59L349.8 958.27L350.3 957.97L350.8 957.70L351.3 957.45L351.8 957.18L352.3 956.95L352.8 956.74L353.3 956.73L353.8 956.74L354.3 956.78L354.8 957.14L355.3 957.53L355.8 957.95L356.3 958.10L356.8 958.27L357.3 958.47L357.8 958.83L358.3 959.22L358.8 959.62L359.3 960.01L359.8 960.40L360.3 960.81L360.8 960.61L361.3 960.41L361.8 960.22L362.3 960.88L362.8 961.54L363.3 962.19L363.8 962.17L364.3 962.14L364.8 962.11L365.3 962.74L365.8 963.37L366.3 964.00L366.8 964.33L367.3 964.64L367.8 964.95L368.3 964.99L368.8 965.02L369.3 965.03L369.8 965.42L370.3 965.80L370.8 966.16L371.3 966.34L371.8 966.50L372.3 966.65L372.8 966.90L373.3 967.13L373.8 967.36L374.3 967.55L374.8 967.73L375.3 967.90L375.8 967.92L376.3 967.92L376.8 967.91L377.3 968.03L377.8 968.13L378.3 968.23L378.8 967.78L379.3 967.33L379.8 966.87L380.3 967.08L380.8 967.27L381.3 967.46L381.8 967.15L382.3 966.83L382.8 966.51L383.3 967.26L383.8 968.00L384.3 968.73L384.8 968.39L385.3 968.05L385.8 967.69L386.3 967.28L386.8 966.87L387.3 966.45L387.8 966.46L388.3 966.47L388.8 966.46L389.3 966.07L389.8 965.66L390.3 965.24L390.8 965.03L391.3 964.81L391.8 964.58L392.3 964.55L392.8 964.50L393.3 964.43L393.8 964.03L394.3 963.61L394.8 963.15L395.3 962.21L395.8 961.23L396.3 960.23L396.8 960.12L397.3 959.98L397.8 959.81L398.3 959.40L398.8 958.95L399.3 958.46L399.8 957.91L400.3 957.32L400.8 956.69L401.3 955.79L401.8 954.85L402.3 953.86L402.8 953.16L403.3 952.42L403.8 951.63L404.3 950.41L404.8 949.16L405.3 947.86L405.8 946.03L406.3 944.17L406.8 942.28L407.3 941.13L407.8 939.97L408.3 938.81L408.8 937.75L409.3 936.70L409.8 935.69L410.3 934.46L410.8 933.30L411.3 932.22L411.8 931.10L412.3 930.08L412.8 929.19L413.3 928.85L413.8 928.65L414.3 928.62L414.8 928.30L415.3 928.14L415.8 928.15L416.3 928.65L416.8 929.30L417.3 930.09L417.8 931.16L418.3 932.34L418.8 933.62L419.3 934.45L419.8 935.35L420.3 936.31L420.8 938.32L421.3 940.36L421.8 942.42L422.3 943.64L422.8 944.85L423.3 946.05L423.8 947.02L424.3 947.96L424.8 948.88L425.3 950.26L425.8 951.61L426.3 952.93L426.8 953.93L427.3 954.90L427.8 955.83L428.3 956.85L428.8 957.83L429.3 958.78L429.8 959.67L430.3 960.54L430.8 961.37L431.3 961.42L431.8 961.44L432.3 961.44L432.8 962.33L433.3 963.20L433.8 964.06L434.3 964.99L434.8 965.90L435.3 966.80L435.8 967.16L436.3 967.51L436.8 967.84L437.3 968.65L437.8 969.43L438.3 970.20L438.8 970.58L439.3 970.80L439.8 970.80L440.3 970.80L440.8 970.80L441.3 970.80L441.8 970.80L442.3 970.80L442.8 970.80L443.3 970.80L443.8 970.80L444.3 970.80L444.8 970.80L445.3 970.80L445.8 970.80L446.3 970.80L446.8 970.80L447.3 970.80L447.8 970.80L448.3 970.80L448.8 970.80L449.3 970.80L449.8 970.59L450.3 970.01L450.8 970.09L451.3 970.18L451.8 970.27L452.3 969.74L452.8 969.21L453.3 968.69L453.8 968.62L454.3 968.57L454.8 968.52L455.3 968.45L455.8 968.39L456.3 968.33L456.8 968.36L457.3 968.38L457.8 968.40L458.3 968.18L458.8 967.95L459.3 967.73L459.8 968.16L460.3 968.58L460.8 969.00L461.3 968.67L461.8 968.33L462.3 967.98L462.8 967.85L463.3 967.71L463.8 967.56L464.3 967.23L464.8 966.89L465.3 966.54L465.8 966.32L466.3 966.08L466.8 965.82L467.3 965.42L467.8 965.00L468.3 964.57L468.8 964.50L469.3 964.42L469.8 964.32L470.3 963.48L470.8 962.64L471.3 961.78L471.8 961.10L472.3 960.41L472.8 959.71L473.3 959.82L473.8 959.93L474.3 960.04L474.8 959.80L475.3 959.57L475.8 959.36L476.3 958.95L476.8 958.55L477.3 958.17L477.8 957.66L478.3 957.16L478.8 956.68L479.3 956.23L479.8 955.78L480.3 955.34L480.8 955.71L481.3 956.08L481.8 956.43L482.3 956.26L482.8 956.07L483.3 955.86L483.8 955.59L484.3 955.30L484.8 954.99L485.3 954.64L485.8 954.28L486.3 953.90L486.8 953.58L487.3 953.24L487.8 952.88L488.3 952.02L488.8 951.15L489.3 950.28L489.8 949.98L490.3 949.69L490.8 949.41L491.3 948.50L491.8 947.61L492.3 946.73L492.8 946.27L493.3 945.82L493.8 945.40L494.3 945.50L494.8 945.62L495.3 945.75L495.8 945.59L496.3 945.44L496.8 945.30L497.3 944.96L497.8 944.65L498.3 944.35L498.8 943.71L499.3 943.11L499.8 942.53L500.3 942.77L500.8 943.05L501.3 943.35L501.8 943.63L502.3 943.94L502.8 944.27L503.3 944.05L503.8 943.85L504.3 943.65L504.8 943.52L505.3 943.40L505.8 943.27L506.3 943.53L506.8 943.79L507.3 944.05L507.8 943.70L508.3 943.37L508.8 943.03L509.3 943.24L509.8 943.45L510.3 943.67L510.8 943.80L511.3 943.95L511.8 944.09L512.3 944.44L512.8 944.80L513.3 945.14L513.8 945.14L514.3 945.13L514.8 945.11L515.3 945.12L515.8 945.12L516.3 945.09L516.8 945.53L517.3 945.94L517.8 946.32L518.3 945.81L518.8 945.27L519.3 944.68L519.8 944.71L520.3 944.69L520.8 944.62L521.3 944.02L521.8 943.35L522.3 942.63L522.8 942.26L523.3 941.83L523.8 941.34L524.3 939.96L524.8 938.52L525.3 937.01L525.8 936.19L526.3 935.30L526.8 934.35L527.3 933.22L527.8 932.03L528.3 930.78L528.8 929.40L529.3 927.97L529.8 926.49L530.3 925.48L530.8 924.42L531.3 923.32L531.8 922.08L532.3 920.82L532.8 919.53L533.3 917.54L533.8 915.54L534.3 913.56L534.8 911.57L535.3 909.61L535.8 907.71L536.3 906.37L536.8 905.12L537.3 903.96L537.8 902.74L538.3 901.65L538.8 900.69L539.3 899.87L539.8 899.19L540.3 898.65L540.8 898.84L541.3 899.15L541.8 899.58L542.3 899.40L542.8 899.31L543.3 899.30L543.8 899.08L544.3 898.90L544.8 898.75L545.3 899.52L545.8 900.30L546.3 901.07L546.8 901.90L547.3 902.70L547.8 903.49L548.3 903.48L548.8 903.45L549.3 903.40L549.8 903.54L550.3 903.69L550.8 903.84L551.3 903.93L551.8 904.05L552.3 904.24L552.8 904.87L553.3 905.59L553.8 906.41L554.3 906.98L554.8 907.66L555.3 908.43L555.8 909.84L556.3 911.32L556.8 912.88L557.3 913.58L557.8 914.33L558.3 915.09L558.8 915.98L559.3 916.87L559.8 917.73L560.3 918.95L560.8 920.12L561.3 921.25L561.8 922.93L562.3 924.55L562.8 926.11L563.3 926.80L563.8 927.42L564.3 927.99L564.8 929.25L565.3 930.46L565.8 931.62L566.3 931.69L566.8 931.72L567.3 931.72L567.8 931.98L568.3 932.22L568.8 932.44L569.3 933.03L569.8 933.62L570.3 934.20L570.8 934.35L571.3 934.51L571.8 934.69L572.3 935.06L572.8 935.44L573.3 935.86L573.8 936.19L574.3 936.55L574.8 936.94L575.3 937.63L575.8 938.33L576.3 939.07L576.8 939.73L577.3 940.42L577.8 941.12L578.3 942.25L578.8 943.39L579.3 944.53L579.8 945.21L580.3 945.88L580.8 946.56L581.3 947.03L581.8 947.50L582.3 947.96L582.8 948.39L583.3 948.81L583.8 949.21L584.3 949.81L584.8 950.40L585.3 950.96L585.8 951.20L586.3 951.41L586.8 951.60L587.3 952.45L587.8 953.28L588.3 954.09L588.8 954.50L589.3 954.87L589.8 955.22L590.3 955.35L590.8 955.44L591.3 955.49L591.8 955.72L592.3 955.91L592.8 956.05L593.3 955.96L593.8 955.81L594.3 955.61L594.8 955.65L595.3 955.63L595.8 955.55L596.3 954.88L596.8 954.14L597.3 953.33L597.8 953.02L598.3 952.64L598.8 952.19L599.3 951.24L599.8 950.23L600.3 949.14L600.8 948.30L601.3 947.40L601.8 946.44L602.3 945.04L602.8 943.59L603.3 942.12L603.8 941.38L604.3 940.64L604.8 939.92L605.3 938.55L605.8 937.25L606.3 936.05L606.8 935.26L607.3 934.62L607.8 934.16L608.3 933.76L608.8 933.55L609.3 933.54L609.8 933.54L610.3 933.70L610.8 933.98L611.3 935.05L611.8 936.19L612.3 937.36L612.8 938.31L613.3 939.24L613.8 940.12L614.3 940.67L614.8 941.13L615.3 941.49L615.8 941.50L616.3 941.39L616.8 941.15L617.3 941.45L617.8 941.61L618.3 941.65L618.8 940.93L619.3 940.11L619.8 939.20L620.3 938.63L620.8 938.01L621.3 937.36L621.8 936.62L622.3 935.92L622.8 935.29L623.3 934.52L623.8 933.88L624.3 933.41L624.8 933.07L625.3 932.91L625.8 932.93L626.3 933.48L626.8 934.17L627.3 934.96L627.8 935.70L628.3 936.48L628.8 937.26L629.3 937.86L629.8 938.41L630.3 938.88L630.8 939.38L631.3 939.77L631.8 940.04L632.3 940.69L632.8 941.20L633.3 941.58L633.8 940.98L634.3 940.25L634.8 939.39L635.3 938.43L635.8 937.36L636.3 936.17L636.8 934.91L637.3 933.57L637.8 932.16L638.3 930.69L638.8 929.21L639.3 927.73L639.8 926.79L640.3 925.91L640.8 925.14L641.3 924.50L641.8 924.02L642.3 923.74L642.8 923.71L643.3 923.91L643.8 924.36L644.3 924.64L644.8 925.15L645.3 925.88L645.8 926.74L646.3 927.77L646.8 928.94L647.3 930.31L647.8 931.76L648.3 933.27L648.8 935.39L649.3 937.53L649.8 939.66L650.3 941.27L650.8 942.85L651.3 944.38L651.8 945.74L652.3 947.05L652.8 948.29L653.3 949.40L653.8 950.44L654.3 951.41L654.8 952.84L655.3 954.20L655.8 955.49L656.3 956.73L656.8 957.90L657.3 959.00L657.8 959.86L658.3 960.65L658.8 961.40L659.3 961.94L659.8 962.44L660.3 962.90L660.8 963.41L661.3 963.89L661.8 964.33L662.3 964.41L662.8 964.47L663.3 964.49L663.8 964.63L664.3 964.74L664.8 964.84L665.3 965.13L665.8 965.40L666.3 965.66L666.8 965.77L667.3 965.87L667.8 965.96L668.3 966.43L668.8 966.89L669.3 967.35L669.8 967.42L670.3 967.48L670.8 967.54L671.3 967.75L671.8 967.96L672.3 968.16L672.8 968.22L673.3 968.27L673.8 968.32L674.3 968.13L674.8 967.93L675.3 967.72L675.8 967.98L676.3 968.23L676.8 968.48L677.3 969.02L677.8 969.57L678.3 970.10L678.8 969.95L679.3 969.79L679.8 969.63L680.3 969.67L680.8 969.70L681.3 969.73L681.8 969.98L682.3 970.23L682.8 970.47L683.3 970.42L683.8 970.36L684.3 970.30" stroke="#262626" stroke-width="1.75"/>
<path d="M48.3 970.28L49.3 970.27L50.3 970.25L51.3 970.23L52.3 970.22L53.3 970.20L54.3 970.18L55.3 970.16L56.3 970.14L57.3 970.12L58.3 970.10L59.3 970.08L60.3 970.05L61.3 970.03L62.3 970.01L63.3 969.98L64.3 969.96L65.3 969.93L66.3 969.91L67.3 969.88L68.3 969.85L69.3 969.82L70.3 969.79L71.3 969.76L72.3 969.73L73.3 969.70L74.3 969.66L75.3 969.63L76.3 969.59L77.3 969.56L78.3 969.52L79.3 969.48L80.3 969.44L81.3 969.40L82.3 969.36L83.3 969.31L84.3 969.27L85.3 969.22L86.3 969.17L87.3 969.12L88.3 969.07L89.3 969.01L90.3 968.96L91.3 968.90L92.3 968.84L93.3 968.78L94.3 968.72L95.3 968.65L96.3 968.58L97.3 968.51L98.3 968.44L99.3 968.37L100.3 968.29L101.3 968.21L102.3 968.13L103.3 968.04L104.3 967.95L105.3 967.86L106.3 967.77L107.3 967.67L108.3 967.57L109.3 967.46L110.3 967.35L111.3 967.24L112.3 967.12L113.3 967.00L114.3 966.88L115.3 966.75L116.3 966.61L117.3 966.47L118.3 966.33L119.3 966.18L120.3 966.02L121.3 965.86L122.3 965.69L123.3 965.52L124.3 965.34L125.3 965.15L126.3 964.95L127.3 964.75L128.3 964.54L129.3 964.32L130.3 964.09L131.3 963.85L132.3 963.60L133.3 963.33L134.3 963.06L135.3 962.77L136.3 962.48L137.3 962.16L138.3 961.83L139.3 961.49L140.3 961.13L141.3 960.74L142.3 960.34L143.3 959.92L144.3 959.47L145.3 959.00L146.3 958.50L147.3 957.96L148.3 957.40L149.3 956.80L150.3 956.16L151.3 955.48L152.3 954.75L153.3 953.97L154.3 953.14L155.3 952.24L156.3 951.28L157.3 950.24L158.3 949.12L159.3 947.91L160.3 946.59L161.3 945.16L162.3 943.60L163.3 941.90L164.3 940.03L165.3 937.98L166.3 935.71L167.3 933.20L168.3 930.41L169.3 927.31L170.3 923.85L171.3 919.98L172.3 915.63L173.3 910.77L174.3 905.31L175.3 899.18L176.3 892.31L177.3 884.63L178.3 876.04L179.3 866.47L180.3 855.83L181.3 844.07L182.3 831.11L183.3 816.95L184.3 801.62L185.3 785.22L186.3 767.97L187.3 750.26L188.3 732.65L189.3 715.90L190.3 700.96L191.3 688.88L192.3 680.67L193.3 677.10L194.3 678.55L195.3 684.90L196.3 695.56L197.3 709.62L198.3 726.02L199.3 743.75L200.3 761.93L201.3 779.89L202.3 797.15L203.3 813.40L204.3 828.47L205.3 842.27L206.3 854.81L207.3 866.11L208.3 876.25L209.3 885.28L210.3 893.32L211.3 900.44L212.3 906.74L213.3 912.31L214.3 917.23L215.3 921.58L216.3 925.44L217.3 928.85L218.3 931.89L219.3 934.61L220.3 937.04L221.3 939.22L222.3 941.20L223.3 942.98L224.3 944.61L225.3 946.09L226.3 947.45L227.3 948.70L228.3 949.85L229.3 950.91L230.3 951.90L231.3 952.81L232.3 953.66L233.3 954.45L234.3 955.19L235.3 955.88L236.3 956.53L237.3 957.14L238.3 957.71L239.3 958.24L240.3 958.75L241.3 959.23L242.3 959.68L243.3 960.11L244.3 960.51L245.3 960.89L246.3 961.26L247.3 961.60L248.3 961.93L249.3 962.25L250.3 962.55L251.3 962.83L252.3 963.10L253.3 963.37L254.3 963.62L255.3 963.85L256.3 964.08L257.3 964.30L258.3 964.51L259.3 964.72L260.3 964.91L261.3 965.10L262.3 965.27L263.3 965.45L264.3 965.61L265.3 965.77L266.3 965.92L267.3 966.07L268.3 966.21L269.3 966.35L270.3 966.48L271.3 966.61L272.3 966.73L273.3 966.85L274.3 966.96L275.3 967.07L276.3 967.18L277.3 967.28L278.3 967.38L279.3 967.47L280.3 967.56L281.3 967.65L282.3 967.73L283.3 967.82L284.3 967.89L285.3 967.97L286.3 968.04L287.3 968.12L288.3 968.18L289.3 968.25L290.3 968.31L291.3 968.37L292.3 968.43L293.3 968.49L294.3 968.55L295.3 968.60L296.3 968.65L297.3 968.70L298.3 968.75L299.3 968.79L300.3 968.84L301.3 968.88L302.3 968.92L303.3 968.96L304.3 969.00L305.3 969.04L306.3 969.07L307.3 969.11L308.3 969.14L309.3 969.17L310.3 969.20L311.3 969.23L312.3 969.26L313.3 969.28L314.3 969.31L315.3 969.33L316.3 969.36L317.3 969.38L318.3 969.40L319.3 969.42L320.3 969.44L321.3 969.46L322.3 969.48L323.3 969.50L324.3 969.51L325.3 969.53L326.3 969.54L327.3 969.56L328.3 969.57L329.3 969.58L330.3 969.59L331.3 969.60L332.3 969.61L333.3 969.62L334.3 969.63L335.3 969.63L336.3 969.64L337.3 969.64L338.3 969.65L339.3 969.65L340.3 969.65L341.3 969.66L342.3 969.66L343.3 969.66L344.3 969.66L345.3 969.65L346.3 969.65L347.3 969.65L348.3 969.64L349.3 969.63L350.3 969.63L351.3 969.62L352.3 969.61L353.3 969.60L354.3 969.58L355.3 969.57L356.3 969.55L357.3 969.54L358.3 969.52L359.3 969.50L360.3 969.47L361.3 969.45L362.3 969.42L363.3 969.39L364.3 969.36L365.3 969.33L366.3 969.29L367.3 969.25L368.3 969.20L369.3 969.16L370.3 969.11L371.3 969.05L372.3 968.99L373.3 968.93L374.3 968.86L375.3 968.78L376.3 968.70L377.3 968.61L378.3 968.51L379.3 968.40L380.3 968.28L381.3 968.16L382.3 968.01L383.3 967.85L384.3 967.68L385.3 967.48L386.3 967.26L387.3 967.00L388.3 966.71L389.3 966.38L390.3 966.00L391.3 965.56L392.3 965.05L393.3 964.47L394.3 963.80L395.3 963.02L396.3 962.14L397.3 961.13L398.3 959.98L399.3 958.69L400.3 957.23L401.3 955.60L402.3 953.79L403.3 951.81L404.3 949.66L405.3 947.35L406.3 944.92L407.3 942.40L408.3 939.85L409.3 937.34L410.3 934.96L411.3 932.83L412.3 931.06L413.3 929.78L414.3 929.08L415.3 929.02L416.3 929.60L417.3 930.78L418.3 932.46L419.3 934.53L420.3 936.86L421.3 939.34L422.3 941.88L423.3 944.39L424.3 946.82L425.3 949.13L426.3 951.29L427.3 953.29L428.3 955.10L429.3 956.74L430.3 958.21L431.3 959.51L432.3 960.66L433.3 961.67L434.3 962.55L435.3 963.31L436.3 963.97L437.3 964.54L438.3 965.03L439.3 965.45L440.3 965.81L441.3 966.12L442.3 966.39L443.3 966.62L444.3 966.82L445.3 966.99L446.3 967.14L447.3 967.26L448.3 967.38L449.3 967.47L450.3 967.56L451.3 967.63L452.3 967.69L453.3 967.74L454.3 967.79L455.3 967.82L456.3 967.85L457.3 967.87L458.3 967.88L459.3 967.88L460.3 967.88L461.3 967.87L462.3 967.86L463.3 967.83L464.3 967.80L465.3 967.76L466.3 967.72L467.3 967.66L468.3 967.60L469.3 967.53L470.3 967.45L471.3 967.35L472.3 967.25L473.3 967.13L474.3 967.00L475.3 966.85L476.3 966.69L477.3 966.50L478.3 966.30L479.3 966.07L480.3 965.82L481.3 965.54L482.3 965.23L483.3 964.90L484.3 964.53L485.3 964.13L486.3 963.70L487.3 963.23L488.3 962.72L489.3 962.18L490.3 961.59L491.3 960.97L492.3 960.31L493.3 959.61L494.3 958.87L495.3 958.10L496.3 957.29L497.3 956.45L498.3 955.59L499.3 954.72L500.3 953.84L501.3 952.96L502.3 952.09L503.3 951.25L504.3 950.46L505.3 949.72L506.3 949.06L507.3 948.48L508.3 948.00L509.3 947.61L510.3 947.32L511.3 947.10L512.3 946.96L513.3 946.85L514.3 946.76L515.3 946.66L516.3 946.52L517.3 946.31L518.3 945.99L519.3 945.53L520.3 944.92L521.3 944.12L522.3 943.11L523.3 941.88L524.3 940.41L525.3 938.68L526.3 936.70L527.3 934.45L528.3 931.95L529.3 929.21L530.3 926.26L531.3 923.13L532.3 919.87L533.3 916.55L534.3 913.25L535.3 910.07L536.3 907.12L537.3 904.53L538.3 902.38L539.3 900.76L540.3 899.69L541.3 899.16L542.3 899.10L543.3 899.40L544.3 899.95L545.3 900.63L546.3 901.33L547.3 901.97L548.3 902.53L549.3 903.00L550.3 903.43L551.3 903.91L552.3 904.56L553.3 905.48L554.3 906.76L555.3 908.44L556.3 910.48L557.3 912.80L558.3 915.29L559.3 917.80L560.3 920.24L561.3 922.52L562.3 924.58L563.3 926.40L564.3 927.97L565.3 929.29L566.3 930.41L567.3 931.35L568.3 932.17L569.3 932.91L570.3 933.63L571.3 934.38L572.3 935.19L573.3 936.09L574.3 937.10L575.3 938.21L576.3 939.41L577.3 940.70L578.3 942.03L579.3 943.40L580.3 944.78L581.3 946.14L582.3 947.46L583.3 948.74L584.3 949.94L585.3 951.07L586.3 952.12L587.3 953.06L588.3 953.90L589.3 954.62L590.3 955.20L591.3 955.65L592.3 955.93L593.3 956.03L594.3 955.92L595.3 955.59L596.3 955.01L597.3 954.15L598.3 953.01L599.3 951.56L600.3 949.82L601.3 947.79L602.3 945.53L603.3 943.10L604.3 940.60L605.3 938.21L606.3 936.12L607.3 934.55L608.3 933.70L609.3 933.63L610.3 934.28L611.3 935.46L612.3 936.92L613.3 938.39L614.3 939.67L615.3 940.60L616.3 941.08L617.3 941.05L618.3 940.52L619.3 939.53L620.3 938.16L621.3 936.58L622.3 935.01L623.3 933.71L624.3 932.95L625.3 932.88L626.3 933.50L627.3 934.66L628.3 936.10L629.3 937.54L630.3 938.77L631.3 939.62L632.3 940.00L633.3 939.83L634.3 939.12L635.3 937.87L636.3 936.15L637.3 934.05L638.3 931.70L639.3 929.28L640.3 927.02L641.3 925.15L642.3 923.94L643.3 923.59L644.3 924.20L645.3 925.75L646.3 928.08L647.3 930.99L648.3 934.25L649.3 937.67L650.3 941.08L651.3 944.35L652.3 947.43L653.3 950.25L654.3 952.79L655.3 955.04L656.3 957.01L657.3 958.73L658.3 960.20L659.3 961.46L660.3 962.54L661.3 963.45L662.3 964.23L663.3 964.89L664.3 965.45L665.3 965.94L666.3 966.36L667.3 966.72L668.3 967.04L669.3 967.32L670.3 967.58L671.3 967.80L672.3 968.01L673.3 968.19L674.3 968.36L675.3 968.52L676.3 968.66L677.3 968.80L678.3 968.92L679.3 969.03L680.3 969.14L681.3 969.23L682.3 969.33L683.3 969.41L684.3 969.49" stroke="#0000ff"/>
</g>
<g stroke="#555" stroke-width="1.3" fill="none" stroke-dasharray="6 7.25">
<path d="M376.1 251.1L388.2 283.2" stroke-dasharray="6 7.9"/>
<path d="M414.6 245.2L404.1 277.9" stroke-dasharray="6 7.9"/>
<path d="M374.6 598.2V630.8"/>
<path d="M414.7 597.8V922.8"/>
<path d="M509.2 508.2V540.6"/>
<path d="M548.8 575.2V899.2"/>
</g>
<g stroke="#000" stroke-width="1.8" fill="none">
<path d="M65.9 2.15V9.8"/>
<path d="M65.9 976.40V969.0"/>
<path d="M150.2 2.15V9.8"/>
<path d="M150.2 976.40V969.0"/>
<path d="M234.6 2.15V9.8"/>
<path d="M234.6 976.40V969.0"/>
<path d="M319.0 2.15V9.8"/>
<path d="M319.0 976.40V969.0"/>
<path d="M403.3 2.15V9.8"/>
<path d="M403.3 976.40V969.0"/>
<path d="M487.6 2.15V9.8"/>
<path d="M487.6 976.40V969.0"/>
<path d="M572.0 2.15V9.8"/>
<path d="M572.0 976.40V969.0"/>
<path d="M656.4 2.15V9.8"/>
<path d="M656.4 976.40V969.0"/>
</g>
<g font-family="Liberation Sans, sans-serif" fill="#000">
<text x="66.5" y="1007.6" font-size="29" text-anchor="middle">1300</text>
<text x="235.2" y="1007.6" font-size="29" text-anchor="middle">1400</text>
<text x="403.9" y="1007.6" font-size="29" text-anchor="middle">1500</text>
<text x="572.6" y="1007.6" font-size="29" text-anchor="middle">1600</text>
<text x="239.6" y="1054.6" font-size="33.5">Raman Shift (cm<tspan dx="-0.6" dy="-17" font-size="20">-1</tspan><tspan dx="-0.6" dy="17">)</tspan></text>
<text transform="translate(25.2 588.7) rotate(-90)" font-size="33.5">Intensity (a.u.)</text>
<text x="645" y="60.8" font-size="34">A</text>
<text x="645.2" y="415.6" font-size="34">B</text>
<text x="644.2" y="727" font-size="34">C</text>
<text transform="translate(377.9 246.1) rotate(-90)" font-size="25.2" stroke="#000" stroke-width="0.3">5cHS</text>
<text transform="translate(426.6 241.2) rotate(-90)" font-size="25.2" stroke="#000" stroke-width="0.3">5cQS</text>
<text transform="translate(382.5 594.1) rotate(-90)" font-size="25.2" stroke="#000" stroke-width="0.3">6cHS</text>
<text transform="translate(423.5 594.1) rotate(-90)" font-size="25.2" stroke="#000" stroke-width="0.3">6cLS</text>
<text transform="translate(517.0 500.6) rotate(-90)" font-size="25.2" stroke="#000" stroke-width="0.3">6cHS</text>
<text transform="translate(558.3 557.8) rotate(-90)" font-size="25.2" stroke="#000" stroke-width="0.3">6cLS</text>
<text transform="translate(184.4 29.8) scale(1.07 1)" font-family="Liberation Serif, serif" font-size="21.5">&#957;</text>
<text x="195.4" y="39.3" font-size="14">4</text>
<text transform="translate(389.3 141.8) scale(1.07 1)" font-family="Liberation Serif, serif" font-size="21.5">&#957;</text>
<text x="400.3" y="151.3" font-size="14">3</text>
<text transform="translate(512.0 148.4) scale(1.07 1)" font-family="Liberation Serif, serif" font-size="21.5">&#957;</text>
<text x="523.0" y="157.9" font-size="14">2</text>
</g>
</svg>
</body></html>
